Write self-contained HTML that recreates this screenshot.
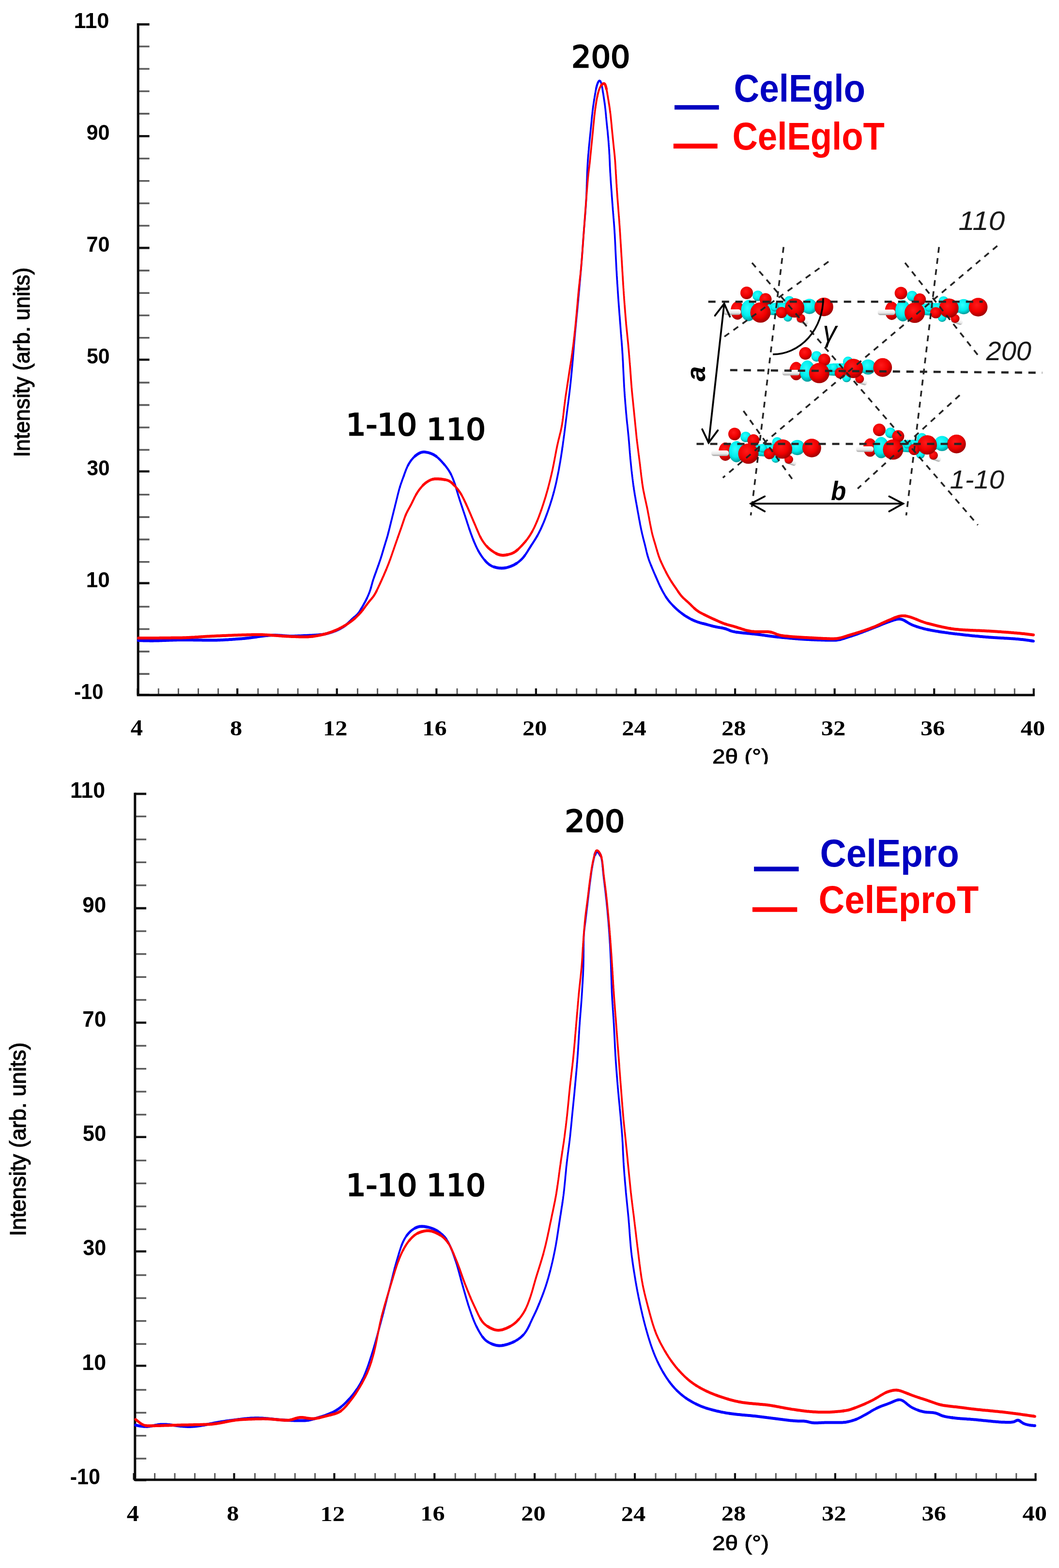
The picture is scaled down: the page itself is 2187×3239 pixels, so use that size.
<!DOCTYPE html><html><head><meta charset="utf-8"><title>XRD patterns</title><style>html,body{margin:0;padding:0;background:#fff;}svg{display:block;}</style></head><body><svg xmlns="http://www.w3.org/2000/svg" width="2187" height="3239" viewBox="0 0 2187 3239">
<rect width="100%" height="100%" fill="#fff"/>
<defs>
<radialGradient id="gr" cx="0.42" cy="0.38" r="0.62"><stop offset="0" stop-color="#ff1a1a"/><stop offset="0.6" stop-color="#f00000"/><stop offset="1" stop-color="#a00000"/></radialGradient>
<radialGradient id="gc" cx="0.42" cy="0.38" r="0.62"><stop offset="0" stop-color="#30ffff"/><stop offset="0.6" stop-color="#00eeee"/><stop offset="1" stop-color="#009a9a"/></radialGradient>
<linearGradient id="gw" x1="0" y1="0" x2="0" y2="1"><stop offset="0" stop-color="#ffffff"/><stop offset="0.6" stop-color="#e8e8e8"/><stop offset="1" stop-color="#a0a0a0"/></linearGradient>
<g id="mol">
<ellipse cx="5" cy="14" rx="55" ry="13" fill="url(#gc)"/>
<circle cx="-66" cy="-19.5" r="13" fill="url(#gr)"/>
<circle cx="-43" cy="-13.5" r="10.8" fill="url(#gc)"/>
<circle cx="-27" cy="-6.5" r="12.5" fill="url(#gr)"/>
<ellipse cx="-85" cy="17" rx="14" ry="19" fill="url(#gr)"/>
<rect x="-114" y="14.5" width="36" height="11.5" rx="5" fill="url(#gw)"/>
<ellipse cx="-62" cy="17" rx="15.7" ry="22" fill="url(#gc)"/>
<circle cx="-8" cy="10" r="9" fill="url(#gc)"/>
<circle cx="22" cy="-2.5" r="10.5" fill="url(#gc)"/>
<circle cx="19" cy="31" r="9" fill="url(#gc)"/>
<rect x="37" y="33" width="25" height="11" rx="5" fill="url(#gw)" transform="rotate(18 50 38)"/>
<circle cx="46" cy="33" r="9" fill="url(#gr)"/>
<circle cx="63.5" cy="8.5" r="15.7" fill="url(#gc)"/>
<circle cx="6" cy="21" r="11.5" fill="url(#gr)"/>
<circle cx="33" cy="11.5" r="20" fill="url(#gr)"/>
<circle cx="-37.5" cy="21" r="21" fill="url(#gr)"/>
<circle cx="93.5" cy="9.5" r="19.3" fill="url(#gr)"/>
</g>
</defs>
<path d="M285.2 95.97H308.6M285.2 142.26H308.6M285.2 188.55H308.6M285.2 234.84H308.6M285.2 327.43H308.6M285.2 373.72H308.6M285.2 420.01H308.6M285.2 466.3H308.6M285.2 558.89H308.6M285.2 605.18H308.6M285.2 651.47H308.6M285.2 697.76H308.6M285.2 790.34H308.6M285.2 836.64H308.6M285.2 882.93H308.6M285.2 929.22H308.6M285.2 1021.8H308.6M285.2 1068.09H308.6M285.2 1114.39H308.6M285.2 1160.68H308.6M285.2 1253.26H308.6M285.2 1299.55H308.6M285.2 1345.84H308.6M285.2 1392.13H308.6" stroke="#5c5c5c" stroke-width="3.6" fill="none"/>
<path d="M285.2 50.4H308.6M285.2 281.25H308.6M285.2 512.1H308.6M285.2 742.95H308.6M285.2 973.8H308.6M285.2 1204.65H308.6M285.2 1435.5H308.6" stroke="#111" stroke-width="4.6" fill="none"/>
<path d="M327.32 1435.8V1422M368.43 1435.8V1422M409.55 1435.8V1422M450.66 1435.8V1422M532.89 1435.8V1422M574.01 1435.8V1422M615.12 1435.8V1422M656.24 1435.8V1422M738.47 1435.8V1422M779.59 1435.8V1422M820.7 1435.8V1422M861.82 1435.8V1422M944.05 1435.8V1422M985.16 1435.8V1422M1026.28 1435.8V1422M1067.4 1435.8V1422M1149.63 1435.8V1422M1190.74 1435.8V1422M1231.86 1435.8V1422M1272.97 1435.8V1422M1355.2 1435.8V1422M1396.32 1435.8V1422M1437.44 1435.8V1422M1478.55 1435.8V1422M1560.78 1435.8V1422M1601.9 1435.8V1422M1643.01 1435.8V1422M1684.13 1435.8V1422M1766.36 1435.8V1422M1807.48 1435.8V1422M1848.59 1435.8V1422M1889.71 1435.8V1422M1971.94 1435.8V1422M2013.05 1435.8V1422M2054.17 1435.8V1422M2095.28 1435.8V1422" stroke="#5c5c5c" stroke-width="3" fill="none"/>
<path d="M284.6 1435.8V1422M490.18 1435.8V1422M695.76 1435.8V1422M901.33 1435.8V1422M1106.91 1435.8V1422M1312.49 1435.8V1422M1518.07 1435.8V1422M1723.64 1435.8V1422M1929.22 1435.8V1422M2134.8 1435.8V1422" stroke="#111" stroke-width="4.2" fill="none"/>
<path d="M285.2 48.1 L285.2 1435.8 L2136.9 1435.8" fill="none" stroke="#0a0a0a" stroke-width="5" stroke-linejoin="miter"/>
<path d="M278.8 1686.55H302.1M278.8 1733.93H302.1M278.8 1781.3H302.1M278.8 1828.68H302.1M278.8 1923.43H302.1M278.8 1970.8H302.1M278.8 2018.18H302.1M278.8 2065.55H302.1M278.8 2160.3H302.1M278.8 2207.68H302.1M278.8 2255.05H302.1M278.8 2302.43H302.1M278.8 2397.18H302.1M278.8 2444.55H302.1M278.8 2491.93H302.1M278.8 2539.3H302.1M278.8 2634.05H302.1M278.8 2681.43H302.1M278.8 2728.8H302.1M278.8 2776.18H302.1M278.8 2870.93H302.1M278.8 2918.3H302.1M278.8 2965.68H302.1M278.8 3013.05H302.1" stroke="#5c5c5c" stroke-width="3.6" fill="none"/>
<path d="M278.8 1639.9H302.1M278.8 1876.17H302.1M278.8 2112.43H302.1M278.8 2348.7H302.1M278.8 2584.97H302.1M278.8 2821.23H302.1M278.8 3057.5H302.1" stroke="#111" stroke-width="4.6" fill="none"/>
<path d="M319.58 3056.7V3042.9M360.96 3056.7V3042.9M402.33 3056.7V3042.9M443.71 3056.7V3042.9M526.47 3056.7V3042.9M567.84 3056.7V3042.9M609.22 3056.7V3042.9M650.6 3056.7V3042.9M733.36 3056.7V3042.9M774.73 3056.7V3042.9M816.11 3056.7V3042.9M857.49 3056.7V3042.9M940.24 3056.7V3042.9M981.62 3056.7V3042.9M1023 3056.7V3042.9M1064.38 3056.7V3042.9M1147.13 3056.7V3042.9M1188.51 3056.7V3042.9M1229.89 3056.7V3042.9M1271.27 3056.7V3042.9M1354.02 3056.7V3042.9M1395.4 3056.7V3042.9M1436.78 3056.7V3042.9M1478.16 3056.7V3042.9M1560.91 3056.7V3042.9M1602.29 3056.7V3042.9M1643.67 3056.7V3042.9M1685.04 3056.7V3042.9M1767.8 3056.7V3042.9M1809.18 3056.7V3042.9M1850.56 3056.7V3042.9M1891.93 3056.7V3042.9M1974.69 3056.7V3042.9M2016.07 3056.7V3042.9M2057.44 3056.7V3042.9M2098.82 3056.7V3042.9" stroke="#5c5c5c" stroke-width="3" fill="none"/>
<path d="M276.6 3056.7V3042.9M483.49 3056.7V3042.9M690.38 3056.7V3042.9M897.27 3056.7V3042.9M1104.16 3056.7V3042.9M1311.04 3056.7V3042.9M1517.93 3056.7V3042.9M1724.82 3056.7V3042.9M1931.71 3056.7V3042.9M2138.6 3056.7V3042.9" stroke="#111" stroke-width="4.2" fill="none"/>
<path d="M278.8 1637.6 L278.8 3056.7 L2140.7 3056.7" fill="none" stroke="#0a0a0a" stroke-width="5" stroke-linejoin="miter"/>
<path d="M1161.6 923.2 1161.9 921.2 1162.2 919.2 1162.5 917.2 1162.7 915.2 1163.0 913.3 1163.3 911.3 1163.6 909.3 1163.8 907.3 1164.1 905.3 1164.4 903.4 1164.6 901.4 1164.9 899.4M1164.9 899.4 1165.2 897.4 1165.4 895.4 1165.7 893.4 1165.9 891.5 1166.2 889.5 1166.4 887.5 1166.7 885.5 1166.9 883.5 1167.2 881.5 1167.4 879.5 1167.7 877.6 1167.9 875.6M1167.9 875.6 1168.2 873.6 1168.4 871.6 1168.7 869.6 1168.9 867.6 1169.1 865.6 1169.4 863.7 1169.6 861.7 1169.9 859.7 1170.1 857.7 1170.4 855.7 1170.6 853.7 1170.9 851.8M1170.9 851.8 1171.1 849.8 1171.4 847.8 1171.6 845.8 1171.9 843.8 1172.1 841.8 1172.4 839.8 1172.6 837.9 1172.9 835.9 1173.2 833.9 1173.4 831.9 1173.7 829.9 1173.9 827.9M1173.9 827.9 1174.2 826.0 1174.4 824.0 1174.7 822.0 1174.9 820.0 1175.2 818.0 1175.4 816.0 1175.7 814.1 1175.9 812.1 1176.2 810.1 1176.4 808.1 1176.6 806.1 1176.9 804.1M1176.9 804.1 1177.1 802.1 1177.3 800.1 1177.5 798.2 1177.7 796.2 1177.9 794.2 1178.2 792.2 1178.4 790.2 1178.6 788.2 1178.8 786.2 1179.0 784.2 1179.2 782.2 1179.4 780.3M1179.4 780.3 1179.6 778.3 1179.8 776.3 1180.0 774.3 1180.2 772.3 1180.4 770.3 1180.6 768.3 1180.8 766.3 1181.0 764.3 1181.1 762.3 1181.3 760.3 1181.5 758.4 1181.7 756.4M1181.7 756.4 1181.9 754.4 1182.1 752.4 1182.3 750.4 1182.4 748.4 1182.6 746.4 1182.8 744.4 1183.0 742.4 1183.1 740.4 1183.3 738.4 1183.5 736.4 1183.6 734.4 1183.8 732.4M1183.8 732.4 1184.0 730.5 1184.1 728.5 1184.3 726.5 1184.4 724.5 1184.6 722.5 1184.8 720.5 1184.9 718.5 1185.1 716.5 1185.3 714.5 1185.4 712.5 1185.6 710.5 1185.8 708.5M1185.8 708.5 1185.9 706.5 1186.1 704.5 1186.3 702.5 1186.5 700.6 1186.6 698.6 1186.8 696.6 1187.0 694.6 1187.2 692.6 1187.4 690.6 1187.5 688.6 1187.7 686.6 1187.9 684.6M1187.9 684.6 1188.1 682.6 1188.3 680.6 1188.5 678.6 1188.7 676.7 1188.9 674.7 1189.1 672.7 1189.3 670.7 1189.4 668.7 1189.6 666.7 1189.8 664.7 1190.0 662.7 1190.2 660.7M1190.2 660.7 1190.4 658.7 1190.6 656.7 1190.8 654.8 1191.0 652.8 1191.2 650.8 1191.4 648.8 1191.6 646.8 1191.8 644.8 1192.0 642.8 1192.2 640.8 1192.4 638.8 1192.6 636.8M1192.6 636.8 1192.8 634.8 1192.9 632.9 1193.1 630.9 1193.3 628.9 1193.5 626.9 1193.7 624.9 1193.9 622.9 1194.1 620.9 1194.3 618.9 1194.4 616.9 1194.6 614.9 1194.8 612.9M1194.8 612.9 1195.0 611.0 1195.2 609.0 1195.4 607.0 1195.5 605.0 1195.7 603.0 1195.9 601.0 1196.1 599.0 1196.3 597.0 1196.4 595.0 1196.6 593.0 1196.8 591.0 1197.0 589.0M1197.0 589.0 1197.2 587.0 1197.3 585.1 1197.5 583.1 1197.7 581.1 1197.9 579.1 1198.1 577.1 1198.2 575.1 1198.4 573.1 1198.6 571.1 1198.7 569.1 1198.9 567.1 1199.1 565.1M1199.1 565.1 1199.3 563.1 1199.4 561.1 1199.6 559.1 1199.8 557.2 1199.9 555.2 1200.1 553.2 1200.3 551.2 1200.4 549.2 1200.6 547.2 1200.7 545.2 1200.9 543.2 1201.1 541.2M1201.1 541.2 1201.2 539.2 1201.4 537.2 1201.5 535.2 1201.7 533.2 1201.8 531.2 1202.0 529.2 1202.1 527.2 1202.3 525.2 1202.4 523.3 1202.6 521.3 1202.7 519.3 1202.9 517.3M1202.9 517.3 1203.0 515.3 1203.1 513.3 1203.3 511.3 1203.4 509.3 1203.6 507.3 1203.7 505.3 1203.9 503.3 1204.0 501.3 1204.2 499.3 1204.3 497.3 1204.4 495.3 1204.6 493.3M1204.6 493.3 1204.7 491.3 1204.9 489.3 1205.0 487.3 1205.2 485.3 1205.3 483.4 1205.5 481.4 1205.6 479.4 1205.8 477.4 1205.9 475.4 1206.1 473.4 1206.2 471.4 1206.4 469.4M1206.4 469.4 1206.6 467.4 1206.7 465.4 1206.9 463.4 1207.0 461.4 1207.2 459.4 1207.4 457.4 1207.5 455.4 1207.7 453.4 1207.9 451.4 1208.0 449.5 1208.2 447.5 1208.3 445.5M1208.3 445.5 1208.5 443.5 1208.7 441.5 1208.8 439.5 1209.0 437.5 1209.1 435.5 1209.2 433.5 1209.4 431.5 1209.5 429.5 1209.7 427.5 1209.8 425.5 1209.9 423.5 1210.1 421.5M1210.1 421.5 1210.2 419.5 1210.3 417.5 1210.4 415.5 1210.5 413.5 1210.6 411.5 1210.7 409.5 1210.8 407.5 1210.9 405.5 1211.0 403.6 1211.1 401.6 1211.1 399.6 1211.2 397.6M1211.2 397.6 1211.3 395.6 1211.4 393.6 1211.5 391.6 1211.5 389.6 1211.6 387.6 1211.7 385.6 1211.7 383.6 1211.8 381.6 1211.9 379.6 1211.9 377.6 1212.0 375.6 1212.1 373.6M1212.1 373.6 1212.1 371.6 1212.2 369.6 1212.3 367.6 1212.3 365.6 1212.4 363.6 1212.5 361.6 1212.6 359.6 1212.6 357.6 1212.7 355.6 1212.8 353.6 1212.9 351.6 1213.0 349.6M1213.0 349.6 1213.1 347.6 1213.2 345.6 1213.3 343.6 1213.4 341.6 1213.5 339.6 1213.6 337.6 1213.7 335.6 1213.9 333.6 1214.0 331.6 1214.1 329.6 1214.3 327.6 1214.4 325.6M1214.4 325.6 1214.6 323.6 1214.7 321.6 1214.9 319.6 1215.1 317.6 1215.3 315.7 1215.4 313.7 1215.6 311.7 1215.8 309.7 1216.0 307.7 1216.1 305.7 1216.3 303.7 1216.5 301.7M1216.5 301.7 1216.7 299.7 1216.9 297.7 1217.1 295.7 1217.3 293.7 1217.5 291.8 1217.7 289.8 1217.9 287.8 1218.1 285.8 1218.3 283.8 1218.5 281.8 1218.7 279.8 1218.9 277.8M1218.9 277.8 1219.1 275.8 1219.3 273.8 1219.5 271.9 1219.7 269.9 1219.9 267.9 1220.1 265.9 1220.3 263.9 1220.5 261.9 1220.7 259.9 1220.9 257.9 1221.1 255.9 1221.3 253.9M1221.3 253.9 1221.5 251.9 1221.7 250.0 1221.8 248.0 1222.0 246.0 1222.2 244.0 1222.4 242.0 1222.6 240.0 1222.8 238.0 1223.1 236.0 1223.3 234.0 1223.5 232.0 1223.7 230.1M1223.7 230.1 1224.0 228.1 1224.2 226.1 1224.4 224.1 1224.7 222.1 1225.0 220.1 1225.2 218.2 1225.5 216.2 1225.8 214.2 1226.1 212.2 1226.4 210.2 1226.7 208.3 1227.0 206.3M1248.8 214.6 1249.1 216.6 1249.4 218.6 1249.6 220.5 1249.8 222.5 1250.1 224.5 1250.3 226.5 1250.5 228.5 1250.7 230.5 1250.9 232.5 1251.1 234.5 1251.3 236.4 1251.5 238.4M1251.5 238.4 1251.6 240.4 1251.8 242.4 1252.0 244.4 1252.2 246.4 1252.4 248.4 1252.6 250.4 1252.8 252.4 1253.0 254.4 1253.2 256.4 1253.4 258.4 1253.6 260.3 1253.8 262.3M1253.8 262.3 1254.0 264.3 1254.2 266.3 1254.5 268.3 1254.7 270.3 1254.9 272.3 1255.1 274.3 1255.2 276.3 1255.4 278.3 1255.6 280.2 1255.8 282.2 1256.0 284.2 1256.2 286.2M1256.2 286.2 1256.3 288.2 1256.5 290.2 1256.7 292.2 1256.8 294.2 1257.0 296.2 1257.1 298.2 1257.3 300.2 1257.4 302.2 1257.6 304.2 1257.7 306.2 1257.9 308.2 1258.0 310.2M1258.0 310.2 1258.1 312.2 1258.2 314.1 1258.3 316.1 1258.4 318.1 1258.6 320.1 1258.7 322.1 1258.7 324.1 1258.8 326.1 1258.9 328.1 1259.0 330.1 1259.1 332.1 1259.2 334.1M1259.2 334.1 1259.3 336.1 1259.4 338.1 1259.4 340.1 1259.5 342.1 1259.6 344.1 1259.7 346.1 1259.8 348.1 1259.9 350.1 1260.0 352.1 1260.1 354.1 1260.2 356.1 1260.4 358.1M1260.4 358.1 1260.5 360.1 1260.6 362.1 1260.7 364.1 1260.9 366.1 1261.0 368.1 1261.1 370.1 1261.2 372.1 1261.4 374.1 1261.5 376.1 1261.6 378.1 1261.8 380.1 1261.9 382.1M1261.9 382.1 1262.1 384.0 1262.2 386.0 1262.3 388.0 1262.5 390.0 1262.6 392.0 1262.8 394.0 1262.9 396.0 1263.1 398.0 1263.2 400.0 1263.3 402.0 1263.5 404.0 1263.6 406.0M1263.6 406.0 1263.8 408.0 1263.9 410.0 1264.1 412.0 1264.2 414.0 1264.4 416.0 1264.5 418.0 1264.7 420.0 1264.8 422.0 1265.0 423.9 1265.1 425.9 1265.3 427.9 1265.4 429.9M1265.4 429.9 1265.6 431.9 1265.7 433.9 1265.9 435.9 1266.1 437.9 1266.2 439.9 1266.4 441.9 1266.6 443.9 1266.7 445.9 1266.9 447.9 1267.0 449.9 1267.2 451.9 1267.4 453.9M1267.4 453.9 1267.5 455.9 1267.7 457.8 1267.8 459.8 1268.0 461.8 1268.1 463.8 1268.3 465.8 1268.4 467.8 1268.6 469.8 1268.7 471.8 1268.8 473.8 1269.0 475.8 1269.1 477.8M1269.1 477.8 1269.2 479.8 1269.3 481.8 1269.5 483.8 1269.6 485.8 1269.7 487.8 1269.8 489.8 1269.9 491.8 1270.0 493.8 1270.1 495.8 1270.2 497.8 1270.3 499.8 1270.4 501.8M1270.4 501.8 1270.5 503.8 1270.6 505.8 1270.7 507.8 1270.8 509.8 1270.9 511.8 1270.9 513.8 1271.0 515.7 1271.1 517.7 1271.2 519.7 1271.3 521.7 1271.4 523.7 1271.5 525.7M1271.5 525.7 1271.6 527.7 1271.7 529.7 1271.8 531.7 1271.9 533.7 1272.0 535.7 1272.1 537.7 1272.2 539.7 1272.3 541.7 1272.4 543.7 1272.5 545.7 1272.6 547.7 1272.7 549.7M1272.7 549.7 1272.8 551.7 1272.9 553.7 1273.0 555.7 1273.1 557.7 1273.3 559.7 1273.4 561.7 1273.5 563.7 1273.6 565.7 1273.7 567.7 1273.8 569.7 1274.0 571.7 1274.1 573.7M1274.1 573.7 1274.2 575.7 1274.3 577.7 1274.5 579.7 1274.6 581.7 1274.7 583.7 1274.8 585.7 1275.0 587.7 1275.1 589.6 1275.2 591.6 1275.4 593.6 1275.5 595.6 1275.6 597.6M1275.6 597.6 1275.7 599.6 1275.9 601.6 1276.0 603.6 1276.1 605.6 1276.3 607.6 1276.4 609.6 1276.5 611.6 1276.7 613.6 1276.8 615.6 1277.0 617.6 1277.1 619.6 1277.2 621.6M1277.2 621.6 1277.4 623.6 1277.5 625.6 1277.7 627.6 1277.8 629.6 1278.0 631.6 1278.1 633.5 1278.3 635.5 1278.4 637.5 1278.6 639.5 1278.7 641.5 1278.9 643.5 1279.0 645.5M1279.0 645.5 1279.2 647.5 1279.3 649.5 1279.5 651.5 1279.7 653.5 1279.8 655.5 1280.0 657.5 1280.1 659.5 1280.3 661.5 1280.4 663.5 1280.6 665.5 1280.7 667.5 1280.9 669.4M1280.9 669.4 1281.1 671.4 1281.2 673.4 1281.4 675.4 1281.5 677.4 1281.7 679.4 1281.8 681.4 1282.0 683.4 1282.1 685.4 1282.3 687.4 1282.4 689.4 1282.6 691.4 1282.8 693.4M1282.8 693.4 1282.9 695.4 1283.1 697.4 1283.2 699.4 1283.4 701.4 1283.6 703.3 1283.7 705.3 1283.9 707.3 1284.0 709.3 1284.2 711.3 1284.3 713.3 1284.5 715.3 1284.6 717.3M1284.6 717.3 1284.8 719.3 1284.9 721.3 1285.0 723.3 1285.2 725.3 1285.3 727.3 1285.4 729.3 1285.6 731.3 1285.7 733.3 1285.8 735.3 1285.9 737.3 1286.0 739.3 1286.1 741.3M1286.1 741.3 1286.2 743.3 1286.4 745.3 1286.5 747.3 1286.6 749.3 1286.7 751.3 1286.7 753.2 1286.8 755.2 1286.9 757.2 1287.0 759.2 1287.1 761.2 1287.2 763.2 1287.3 765.2M1287.3 765.2 1287.4 767.2 1287.5 769.2 1287.6 771.2 1287.7 773.2 1287.8 775.2 1287.9 777.2 1288.0 779.2 1288.1 781.2 1288.2 783.2 1288.3 785.2 1288.4 787.2 1288.5 789.2M1288.5 789.2 1288.6 791.2 1288.7 793.2 1288.8 795.2 1288.9 797.2 1289.0 799.2 1289.2 801.2 1289.3 803.2 1289.4 805.2 1289.5 807.2 1289.7 809.2 1289.8 811.2 1289.9 813.2M1289.9 813.2 1290.1 815.2 1290.2 817.2 1290.4 819.2 1290.5 821.2 1290.7 823.1 1290.8 825.1 1291.0 827.1 1291.1 829.1 1291.3 831.1 1291.4 833.1 1291.6 835.1 1291.8 837.1M1291.8 837.1 1291.9 839.1 1292.1 841.1 1292.3 843.1 1292.4 845.1 1292.6 847.1 1292.8 849.1 1292.9 851.1 1293.1 853.1 1293.3 855.0 1293.5 857.0 1293.7 859.0 1293.8 861.0M1293.8 861.0 1294.0 863.0 1294.2 865.0 1294.4 867.0 1294.6 869.0 1294.8 871.0 1295.0 873.0 1295.2 874.9 1295.5 876.9 1295.7 878.9 1295.9 880.9 1296.1 882.9 1296.3 884.9M1296.3 884.9 1296.5 886.9 1296.7 888.9 1296.9 890.9 1297.1 892.9 1297.3 894.8 1297.5 896.8 1297.7 898.8 1297.9 900.8 1298.1 902.8 1298.3 904.8 1298.4 906.8 1298.6 908.8M1298.6 908.8 1298.8 910.8 1299.0 912.8 1299.1 914.8 1299.3 916.8 1299.5 918.8 1299.6 920.7 1299.8 922.7 1299.9 924.7 1300.1 926.7 1300.2 928.7 1300.4 930.7 1300.6 932.7M1300.6 932.7 1300.7 934.7 1300.9 936.7 1301.1 938.7 1301.2 940.7 1301.4 942.7 1301.6 944.7 1301.7 946.7 1301.9 948.7 1302.1 950.6 1302.3 952.6 1302.5 954.6 1302.7 956.6M1302.7 956.6 1302.9 958.6 1303.1 960.6 1303.3 962.6 1303.5 964.6 1303.7 966.6 1303.9 968.6 1304.1 970.5 1304.3 972.5 1304.6 974.5 1304.8 976.5 1305.0 978.5 1305.3 980.5M1305.3 980.5 1305.5 982.5 1305.7 984.5 1306.0 986.4 1306.2 988.4 1306.5 990.4 1306.7 992.4 1307.0 994.4 1307.2 996.4 1307.5 998.4 1307.7 1000.3 1308.0 1002.3 1308.3 1004.3" fill="none" stroke="#0000ff" stroke-width="3.7" stroke-linejoin="round" stroke-linecap="round"/>
<path d="M802.3 1099.4 802.8 1097.4 803.3 1095.5 803.8 1093.5 804.3 1091.6 804.8 1089.7 805.2 1087.7 805.7 1085.8 806.2 1083.8 806.7 1081.9 807.1 1079.9 807.6 1078.0 808.1 1076.1M808.1 1076.1 808.6 1074.1 809.1 1072.2 809.6 1070.2 810.0 1068.3 810.5 1066.4 811.0 1064.4 811.5 1062.5 812.0 1060.5 812.5 1058.6 812.9 1056.6 813.4 1054.7 813.9 1052.8M813.9 1052.8 814.4 1050.8 814.9 1048.9 815.4 1046.9 815.8 1045.0 816.3 1043.1 816.8 1041.1 817.3 1039.2 817.8 1037.2 818.2 1035.3 818.7 1033.4 819.2 1031.4 819.7 1029.5M819.7 1029.5 820.2 1027.5 820.6 1025.6 821.1 1023.6 821.6 1021.7 822.1 1019.7 822.6 1017.8 823.1 1015.9 823.6 1013.9 824.1 1012.0 824.6 1010.1 825.2 1008.2 825.8 1006.3M1143.5 1017.4 1144.0 1015.5 1144.6 1013.5 1145.1 1011.6 1145.5 1009.7 1146.0 1007.7 1146.5 1005.8 1147.0 1003.8 1147.4 1001.9 1147.9 1000.0 1148.3 998.0 1148.8 996.1 1149.2 994.1M1149.2 994.1 1149.6 992.1 1150.0 990.2 1150.4 988.2 1150.8 986.3 1151.2 984.3 1151.6 982.4 1152.0 980.4 1152.4 978.4 1152.8 976.5 1153.2 974.5 1153.6 972.5 1153.9 970.6M1153.9 970.6 1154.3 968.6 1154.6 966.6 1155.0 964.6 1155.4 962.7 1155.7 960.7 1156.0 958.7 1156.4 956.8 1156.7 954.8 1157.1 952.8 1157.4 950.8 1157.7 948.9 1158.0 946.9M1158.0 946.9 1158.4 944.9 1158.7 943.0 1159.0 941.0 1159.3 939.0 1159.6 937.0 1159.9 935.0 1160.2 933.1 1160.5 931.1 1160.8 929.1 1161.1 927.1 1161.3 925.1 1161.6 923.2M1227.0 206.3 1227.3 204.3 1227.7 202.3 1228.0 200.4 1228.3 198.4 1228.7 196.4 1229.0 194.4 1229.3 192.5 1229.7 190.5 1230.0 188.5 1230.4 186.5 1230.8 184.5 1231.2 182.6M1239.9 168.0 1240.7 169.4 1241.4 171.1 1242.0 173.0 1242.5 175.0 1242.9 177.0 1243.3 178.9 1243.7 180.9 1244.0 182.9 1244.3 184.9 1244.6 186.9 1244.9 188.9 1245.2 190.9M1245.2 190.9 1245.6 192.8 1245.9 194.8 1246.2 196.8 1246.5 198.8 1246.8 200.7 1247.1 202.7 1247.4 204.7 1247.7 206.7 1248.0 208.6 1248.3 210.6 1248.6 212.6 1248.8 214.6M1308.3 1004.3 1308.6 1006.3 1308.9 1008.3 1309.1 1010.2 1309.4 1012.2 1309.8 1014.2 1310.1 1016.2 1310.4 1018.1 1310.7 1020.1 1311.0 1022.1 1311.4 1024.1 1311.7 1026.0 1312.1 1028.0M1312.1 1028.0 1312.4 1030.0 1312.7 1031.9 1313.1 1033.9 1313.4 1035.9 1313.8 1037.8 1314.2 1039.8 1314.5 1041.8 1314.9 1043.8 1315.2 1045.7 1315.6 1047.7 1315.9 1049.7 1316.3 1051.6M1316.3 1051.6 1316.6 1053.6 1317.0 1055.6 1317.3 1057.5 1317.7 1059.5 1318.1 1061.5 1318.4 1063.4 1318.8 1065.4 1319.1 1067.4 1319.5 1069.4 1319.8 1071.3 1320.2 1073.3 1320.6 1075.3M1320.6 1075.3 1320.9 1077.2 1321.3 1079.2 1321.7 1081.2 1322.0 1083.1 1322.4 1085.1 1322.8 1087.0 1323.2 1089.0 1323.6 1091.0 1324.0 1092.9 1324.4 1094.9 1324.8 1096.8 1325.3 1098.8M1325.3 1098.8 1325.7 1100.7 1326.1 1102.7 1326.6 1104.6 1327.1 1106.6 1327.6 1108.5 1328.0 1110.5 1328.5 1112.4 1329.0 1114.3 1329.5 1116.3 1330.0 1118.2 1330.5 1120.2 1331.0 1122.1M1331.0 1122.1 1331.5 1124.0 1332.0 1126.0 1332.5 1127.9 1332.9 1129.9 1333.4 1131.8 1333.9 1133.8 1334.3 1135.7 1334.8 1137.7 1335.2 1139.6 1335.7 1141.6 1336.2 1143.5 1336.7 1145.4" fill="none" stroke="#0000ff" stroke-width="3.8" stroke-linejoin="round" stroke-linecap="round"/>
<path d="M766.2 1213.7 766.7 1211.8 767.2 1209.9 767.7 1208.0 768.3 1206.0 768.8 1204.1 769.3 1202.2 769.9 1200.3 770.5 1198.3 771.1 1196.4 771.8 1194.6 772.4 1192.7 773.1 1190.8M781.2 1168.2 781.9 1166.3 782.5 1164.4 783.2 1162.5 783.8 1160.6 784.5 1158.7 785.1 1156.8 785.8 1154.9 786.4 1153.0 787.0 1151.1 787.6 1149.2 788.2 1147.3 788.8 1145.4M788.8 1145.4 789.3 1143.5 789.9 1141.6 790.5 1139.7 791.0 1137.7 791.6 1135.8 792.2 1133.9 792.7 1132.0 793.3 1130.1 793.9 1128.1 794.5 1126.2 795.1 1124.3 795.6 1122.4M795.6 1122.4 796.2 1120.5 796.8 1118.6 797.4 1116.7 798.0 1114.8 798.6 1112.8 799.2 1110.9 799.7 1109.0 800.3 1107.1 800.8 1105.2 801.3 1103.2 801.8 1101.3 802.3 1099.4M825.8 1006.3 826.3 1004.3 827.0 1002.4 827.6 1000.5 828.2 998.7 828.9 996.8 829.6 994.9 830.2 993.0 830.9 991.1 831.6 989.2 832.3 987.3 833.0 985.5 833.7 983.6M940.0 1001.8 940.6 1003.7 941.2 1005.6 941.8 1007.5 942.3 1009.4 942.9 1011.4 943.5 1013.3 944.0 1015.2 944.6 1017.1 945.2 1019.1 945.7 1021.0 946.3 1022.9 946.9 1024.8M946.9 1024.8 947.5 1026.7 948.1 1028.6 948.7 1030.5 949.3 1032.4 949.9 1034.3 950.5 1036.2 951.2 1038.1 951.8 1040.0 952.4 1041.9 953.1 1043.8 953.7 1045.7 954.3 1047.6M954.3 1047.6 955.0 1049.5 955.6 1051.4 956.2 1053.3 956.9 1055.2 957.5 1057.1 958.2 1059.0 958.8 1060.9 959.4 1062.8 960.1 1064.7 960.7 1066.6 961.3 1068.5 961.9 1070.4M961.9 1070.4 962.6 1072.3 963.2 1074.2 963.8 1076.1 964.4 1078.0 965.0 1079.9 965.6 1081.8 966.3 1083.7 966.9 1085.6 967.5 1087.5 968.1 1089.4 968.8 1091.3 969.4 1093.2M1128.9 1063.1 1129.6 1061.3 1130.3 1059.4 1131.0 1057.5 1131.6 1055.6 1132.3 1053.7 1132.9 1051.8 1133.6 1050.0 1134.2 1048.1 1134.8 1046.2 1135.5 1044.3 1136.1 1042.4 1136.7 1040.5M1136.7 1040.5 1137.3 1038.5 1137.9 1036.6 1138.5 1034.7 1139.1 1032.8 1139.7 1030.9 1140.3 1029.0 1140.8 1027.0 1141.4 1025.1 1141.9 1023.2 1142.5 1021.3 1143.0 1019.3 1143.5 1017.4M1336.7 1145.4 1337.2 1147.4 1337.8 1149.3 1338.4 1151.2 1339.0 1153.1 1339.6 1155.0 1340.2 1156.9 1340.9 1158.7 1341.6 1160.6 1342.3 1162.5 1343.1 1164.3 1343.8 1166.2 1344.6 1168.1" fill="none" stroke="#0000ff" stroke-width="3.9" stroke-linejoin="round" stroke-linecap="round"/>
<path d="M757.6 1236.1 758.4 1234.3 759.2 1232.5 760.1 1230.7 760.8 1228.8 761.6 1227.0 762.3 1225.1 763.1 1223.2 763.7 1221.4 764.4 1219.5 765.0 1217.6 765.6 1215.7 766.2 1213.7M773.1 1190.8 773.8 1188.9 774.4 1187.0 775.1 1185.1 775.8 1183.2 776.5 1181.4 777.2 1179.5 777.8 1177.6 778.5 1175.7 779.2 1173.8 779.9 1171.9 780.5 1170.1 781.2 1168.2M833.7 983.6 834.4 981.7 835.0 979.8 835.7 977.9 836.4 976.0 837.1 974.1 837.8 972.2 838.5 970.3 839.3 968.5 840.1 966.6 840.9 964.8 841.7 963.0 842.6 961.3M931.2 979.5 932.1 981.3 932.9 983.1 933.7 984.9 934.5 986.8 935.3 988.6 936.0 990.5 936.7 992.4 937.4 994.2 938.1 996.1 938.7 998.0 939.4 999.9 940.0 1001.8M969.4 1093.2 970.1 1095.1 970.7 1097.0 971.4 1098.9 972.0 1100.8 972.7 1102.6 973.4 1104.5 974.1 1106.4 974.8 1108.3 975.5 1110.2 976.2 1112.0 977.0 1113.9 977.7 1115.8M1120.0 1085.5 1120.8 1083.7 1121.6 1081.8 1122.4 1080.0 1123.2 1078.1 1123.9 1076.3 1124.7 1074.4 1125.4 1072.5 1126.1 1070.7 1126.8 1068.8 1127.5 1066.9 1128.2 1065.0 1128.9 1063.1M1344.6 1168.1 1345.3 1169.9 1346.1 1171.8 1346.8 1173.6 1347.6 1175.5 1348.4 1177.3 1349.2 1179.2 1349.9 1181.0 1350.7 1182.8 1351.5 1184.7 1352.3 1186.5 1353.1 1188.3 1353.9 1190.2" fill="none" stroke="#0000ff" stroke-width="4.0" stroke-linejoin="round" stroke-linecap="round"/>
<path d="M977.7 1115.8 978.4 1117.6 979.2 1119.5 980.0 1121.4 980.8 1123.2 981.6 1125.0 982.4 1126.9 983.2 1128.7 984.1 1130.5 984.9 1132.2 985.8 1134.0 986.8 1135.8 987.7 1137.6M1109.5 1107.0 1110.4 1105.2 1111.4 1103.5 1112.3 1101.7 1113.2 1100.0 1114.1 1098.2 1115.0 1096.4 1115.9 1094.6 1116.7 1092.8 1117.6 1091.0 1118.4 1089.2 1119.2 1087.3 1120.0 1085.5M1353.9 1190.2 1354.7 1192.0 1355.5 1193.9 1356.3 1195.7 1357.1 1197.5 1357.9 1199.4 1358.7 1201.2 1359.5 1203.0 1360.3 1204.9 1361.1 1206.7 1362.0 1208.5 1362.8 1210.3 1363.7 1212.1" fill="none" stroke="#0000ff" stroke-width="4.1" stroke-linejoin="round" stroke-linecap="round"/>
<path d="M746.1 1257.3 747.1 1255.5 748.1 1253.8 749.1 1252.0 750.1 1250.3 751.1 1248.5 752.0 1246.8 753.0 1245.0 754.0 1243.3 754.9 1241.5 755.8 1239.7 756.7 1237.9 757.6 1236.1M1363.7 1212.1 1364.6 1213.9 1365.5 1215.7 1366.4 1217.5 1367.3 1219.3 1368.2 1221.0 1369.2 1222.8 1370.2 1224.6 1371.2 1226.3 1372.2 1228.0 1373.2 1229.7 1374.2 1231.4 1375.3 1233.1" fill="none" stroke="#0000ff" stroke-width="4.2" stroke-linejoin="round" stroke-linecap="round"/>
<path d="M1096.7 1127.4 1097.8 1125.7 1098.9 1124.0 1100.0 1122.3 1101.1 1120.6 1102.2 1118.9 1103.3 1117.2 1104.3 1115.5 1105.4 1113.8 1106.4 1112.1 1107.5 1110.4 1108.5 1108.7 1109.5 1107.0M1231.2 182.6 1231.7 180.6 1232.2 178.6 1232.7 176.6 1233.3 174.6 1234.0 172.6 1234.8 170.7 1235.6 169.1 1236.5 167.7 1237.3 166.9 1238.2 166.7 1239.1 167.1 1239.9 168.0" fill="none" stroke="#0000ff" stroke-width="4.3" stroke-linejoin="round" stroke-linecap="round"/>
<path d="M917.7 959.7 919.0 961.2 920.3 962.8 921.5 964.4 922.7 966.0 923.9 967.6 925.1 969.2 926.2 970.9 927.3 972.6 928.3 974.3 929.3 976.0 930.3 977.7 931.2 979.5M987.7 1137.6 988.7 1139.3 989.7 1141.1 990.7 1142.8 991.8 1144.5 992.9 1146.2 994.0 1147.9 995.1 1149.6 996.3 1151.2 997.5 1152.8 998.7 1154.4 1000.0 1155.9 1001.3 1157.4M1083.6 1147.7 1084.7 1146.1 1085.9 1144.5 1087.0 1142.8 1088.1 1141.1 1089.2 1139.4 1090.3 1137.6 1091.3 1135.9 1092.4 1134.2 1093.5 1132.5 1094.6 1130.8 1095.6 1129.1 1096.7 1127.4" fill="none" stroke="#0000ff" stroke-width="4.4" stroke-linejoin="round" stroke-linecap="round"/>
<path d="M842.6 961.3 843.6 959.5 844.5 957.8 845.6 956.1 846.7 954.4 847.8 952.7 849.0 951.0 850.3 949.4 851.6 947.9 852.9 946.4 854.3 944.9 855.7 943.5 857.2 942.2" fill="none" stroke="#0000ff" stroke-width="4.5" stroke-linejoin="round" stroke-linecap="round"/>
<path d="M731.1 1275.5 732.6 1274.2 734.1 1272.9 735.6 1271.6 737.0 1270.2 738.4 1268.8 739.7 1267.3 740.9 1265.8 742.0 1264.2 743.1 1262.5 744.1 1260.8 745.1 1259.0 746.1 1257.3M1375.3 1233.1 1376.4 1234.8 1377.6 1236.4 1378.7 1238.0 1379.9 1239.6 1381.2 1241.2 1382.4 1242.7 1383.7 1244.3 1385.0 1245.8 1386.4 1247.3 1387.7 1248.7 1389.1 1250.2 1390.5 1251.6" fill="none" stroke="#0000ff" stroke-width="4.6" stroke-linejoin="round" stroke-linecap="round"/>
<path d="M900.5 942.4 902.1 943.7 903.6 945.0 905.1 946.3 906.6 947.7 908.1 949.2 909.5 950.7 910.9 952.2 912.3 953.7 913.7 955.2 915.0 956.7 916.4 958.2 917.7 959.7" fill="none" stroke="#0000ff" stroke-width="4.8" stroke-linejoin="round" stroke-linecap="round"/>
<path d="M1066.3 1164.0 1068.0 1162.9 1069.6 1161.7 1071.3 1160.5 1072.8 1159.2 1074.3 1157.9 1075.8 1156.6 1077.2 1155.2 1078.6 1153.8 1079.9 1152.4 1081.2 1150.9 1082.4 1149.3 1083.6 1147.7" fill="none" stroke="#0000ff" stroke-width="4.9" stroke-linejoin="round" stroke-linecap="round"/>
<path d="M713.3 1291.8 714.9 1290.5 716.4 1289.3 717.9 1287.9 719.4 1286.6 720.8 1285.2 722.3 1283.8 723.7 1282.4 725.1 1281.0 726.6 1279.6 728.1 1278.2 729.6 1276.9 731.1 1275.5M1390.5 1251.6 1391.9 1253.1 1393.3 1254.5 1394.8 1255.8 1396.2 1257.2 1397.7 1258.6 1399.2 1259.9 1400.7 1261.2 1402.3 1262.5 1403.8 1263.8 1405.4 1265.0 1407.0 1266.2 1408.5 1267.4" fill="none" stroke="#0000ff" stroke-width="5.0" stroke-linejoin="round" stroke-linecap="round"/>
<path d="M1001.3 1157.4 1002.6 1158.9 1004.0 1160.4 1005.4 1161.9 1006.9 1163.3 1008.4 1164.6 1010.0 1165.9 1011.6 1167.1 1013.3 1168.1 1015.0 1169.1 1016.7 1169.9 1018.5 1170.6 1020.3 1171.2" fill="none" stroke="#0000ff" stroke-width="5.2" stroke-linejoin="round" stroke-linecap="round"/>
<path d="M1408.5 1267.4 1410.2 1268.6 1411.8 1269.8 1413.4 1270.9 1415.1 1272.1 1416.8 1273.2 1418.5 1274.2 1420.2 1275.2 1421.9 1276.2 1423.6 1277.2 1425.4 1278.2 1427.2 1279.1 1429.0 1280.0" fill="none" stroke="#0000ff" stroke-width="5.4" stroke-linejoin="round" stroke-linecap="round"/>
<path d="M692.4 1303.2 694.2 1302.4 696.1 1301.7 697.9 1300.9 699.7 1300.0 701.5 1299.2 703.3 1298.2 705.0 1297.2 706.8 1296.2 708.5 1295.2 710.1 1294.1 711.8 1292.9 713.3 1291.8" fill="none" stroke="#0000ff" stroke-width="5.5" stroke-linejoin="round" stroke-linecap="round"/>
<path d="M1871.2 1283.9 1873.0 1285.0 1874.8 1286.1 1876.5 1287.1 1878.3 1288.2 1880.1 1289.1 1882.0 1290.0 1883.8 1290.9 1885.7 1291.6 1887.5 1292.4 1889.4 1293.0 1891.3 1293.7 1893.2 1294.4" fill="none" stroke="#0000ff" stroke-width="5.6" stroke-linejoin="round" stroke-linecap="round"/>
<path d="M857.2 942.2 858.7 940.9 860.3 939.7 861.9 938.5 863.6 937.4 865.4 936.4 867.2 935.5 869.0 934.8 870.9 934.2 872.8 933.9 874.7 933.7 876.6 933.7 878.6 933.9M878.6 933.9 880.5 934.2 882.5 934.6 884.5 935.1 886.4 935.6 888.4 936.2 890.2 936.9 892.1 937.7 893.8 938.4 895.6 939.3 897.3 940.3 898.9 941.3 900.5 942.4M1044.1 1172.9 1046.1 1172.5 1048.0 1172.0 1050.0 1171.4 1051.9 1170.8 1053.8 1170.2 1055.6 1169.5 1057.5 1168.7 1059.3 1167.9 1061.1 1167.1 1062.8 1166.1 1064.6 1165.1 1066.3 1164.0M1429.0 1280.0 1430.8 1280.8 1432.6 1281.7 1434.5 1282.5 1436.3 1283.2 1438.2 1283.9 1440.0 1284.6 1441.9 1285.2 1443.8 1285.8 1445.8 1286.4 1447.7 1286.9 1449.6 1287.4 1451.5 1287.9M1759.0 1313.6 1760.9 1313.0 1762.8 1312.4 1764.7 1311.8 1766.6 1311.1 1768.5 1310.5 1770.4 1309.8 1772.3 1309.1 1774.1 1308.4 1776.0 1307.7 1777.9 1307.0 1779.8 1306.3 1781.6 1305.6M1781.6 1305.6 1783.5 1304.9 1785.4 1304.2 1787.3 1303.5 1789.1 1302.7 1791.0 1302.0 1792.9 1301.3 1794.7 1300.5 1796.6 1299.8 1798.5 1299.1 1800.3 1298.4 1802.2 1297.7 1804.1 1296.9M1804.1 1296.9 1805.9 1296.2 1807.8 1295.5 1809.6 1294.7 1811.5 1294.0 1813.4 1293.2 1815.2 1292.5 1817.1 1291.7 1818.9 1290.9 1820.8 1290.2 1822.6 1289.4 1824.5 1288.7 1826.4 1288.0M1826.4 1288.0 1828.2 1287.2 1830.1 1286.5 1832.0 1285.8 1833.8 1285.1 1835.7 1284.5 1837.6 1283.8 1839.5 1283.1 1841.4 1282.4 1843.4 1281.8 1845.3 1281.1 1847.2 1280.5 1849.2 1279.9" fill="none" stroke="#0000ff" stroke-width="5.7" stroke-linejoin="round" stroke-linecap="round"/>
<path d="M669.3 1310.0 671.2 1309.7 673.2 1309.2 675.2 1308.8 677.1 1308.3 679.1 1307.7 681.0 1307.1 682.9 1306.5 684.8 1305.9 686.7 1305.3 688.6 1304.6 690.5 1303.9 692.4 1303.2M1498.3 1298.8 1500.2 1299.5 1502.0 1300.2 1503.8 1300.9 1505.6 1301.7 1507.5 1302.5 1509.3 1303.2 1511.1 1303.8 1513.0 1304.3 1514.9 1304.7 1516.8 1305.1 1518.7 1305.5 1520.7 1305.8M1735.9 1320.8 1737.9 1320.3 1739.8 1319.7 1741.7 1319.2 1743.7 1318.6 1745.6 1317.9 1747.5 1317.3 1749.5 1316.7 1751.4 1316.1 1753.3 1315.4 1755.2 1314.8 1757.1 1314.2 1759.0 1313.6M1893.2 1294.4 1895.1 1295.0 1897.0 1295.6 1898.9 1296.2 1900.8 1296.8 1902.8 1297.3 1904.7 1297.8 1906.7 1298.4 1908.6 1298.9 1910.5 1299.3 1912.5 1299.8 1914.4 1300.2 1916.4 1300.6" fill="none" stroke="#0000ff" stroke-width="5.8" stroke-linejoin="round" stroke-linecap="round"/>
<path d="M1451.5 1287.9 1453.5 1288.4 1455.4 1288.9 1457.4 1289.4 1459.3 1289.9 1461.2 1290.5 1463.2 1291.0 1465.1 1291.5 1467.0 1292.0 1469.0 1292.6 1470.9 1293.1 1472.8 1293.6 1474.8 1294.0M1474.8 1294.0 1476.7 1294.5 1478.7 1294.9 1480.7 1295.3 1482.6 1295.7 1484.6 1296.0 1486.6 1296.4 1488.6 1296.7 1490.6 1297.0 1492.5 1297.4 1494.5 1297.8 1496.4 1298.3 1498.3 1298.8M1849.2 1279.9 1851.1 1279.4 1853.0 1279.1 1854.9 1278.8 1856.8 1278.7 1858.6 1278.8 1860.5 1279.1 1862.3 1279.5 1864.1 1280.1 1865.9 1280.9 1867.7 1281.8 1869.4 1282.8 1871.2 1283.9M1916.4 1300.6 1918.3 1301.0 1920.3 1301.4 1922.2 1301.8 1924.2 1302.2 1926.1 1302.5 1928.1 1302.9 1930.1 1303.2 1932.0 1303.6 1934.0 1303.9 1936.0 1304.2 1938.0 1304.5 1939.9 1304.9M2131.0 1323.8 2133.0 1324.1 2134.0 1324.3" fill="none" stroke="#0000ff" stroke-width="5.9" stroke-linejoin="round" stroke-linecap="round"/>
<path d="M286.0 1323.0 288.0 1323.1 290.0 1323.2 292.0 1323.2 294.0 1323.3 296.0 1323.4 298.0 1323.4 300.0 1323.5 302.0 1323.5 304.0 1323.6 306.0 1323.6 308.0 1323.6 310.0 1323.7M310.0 1323.7 312.0 1323.7 314.0 1323.7 316.0 1323.7 318.0 1323.6 320.0 1323.6 322.0 1323.6 324.0 1323.5 326.0 1323.5 328.0 1323.4 330.0 1323.3 332.0 1323.3 334.0 1323.2M334.0 1323.2 336.0 1323.1 338.0 1323.1 340.0 1323.0 342.0 1322.9 344.0 1322.8 346.0 1322.8 348.0 1322.7 350.0 1322.6 352.0 1322.5 354.0 1322.5 356.0 1322.4 358.0 1322.3M358.0 1322.3 360.0 1322.3 362.0 1322.2 364.0 1322.2 366.0 1322.1 368.0 1322.1 370.0 1322.1 372.0 1322.0 374.0 1322.0 376.0 1322.0 378.0 1322.0 380.0 1322.0 382.0 1322.0M382.0 1322.0 384.0 1322.0 386.0 1322.0 388.0 1322.1 390.0 1322.1 392.0 1322.1 394.0 1322.1 396.0 1322.1 398.0 1322.1 400.0 1322.2 402.0 1322.2 404.0 1322.2 406.0 1322.2M406.0 1322.2 408.0 1322.3 410.0 1322.3 412.0 1322.3 414.0 1322.3 416.0 1322.3 418.0 1322.4 420.0 1322.4 422.0 1322.4 424.0 1322.4 426.0 1322.4 428.0 1322.5 430.0 1322.5M430.0 1322.5 432.0 1322.5 434.0 1322.5 436.0 1322.5 438.0 1322.5 440.0 1322.5 442.0 1322.5 444.0 1322.4 446.0 1322.4 448.0 1322.4 450.0 1322.3 452.0 1322.3 454.0 1322.2M454.0 1322.2 456.0 1322.1 458.0 1322.0 460.0 1321.9 462.0 1321.8 464.0 1321.7 466.0 1321.6 468.0 1321.5 470.0 1321.4 472.0 1321.3 474.0 1321.1 476.0 1321.0 478.0 1320.9M478.0 1320.9 480.0 1320.7 481.9 1320.6 483.9 1320.4 485.9 1320.3 487.9 1320.1 489.9 1320.0 491.9 1319.8 493.9 1319.7 495.9 1319.5 497.9 1319.4 499.9 1319.2 501.9 1319.1M501.9 1319.1 503.9 1318.9 505.9 1318.7 507.9 1318.5 509.9 1318.3 511.9 1318.1 513.8 1317.9 515.8 1317.6 517.8 1317.4 519.8 1317.1 521.8 1316.8 523.8 1316.5 525.8 1316.3M525.8 1316.3 527.8 1316.0 529.7 1315.7 531.7 1315.4 533.7 1315.1 535.7 1314.8 537.7 1314.5 539.7 1314.3 541.7 1314.0 543.6 1313.7 545.6 1313.5 547.6 1313.3 549.6 1313.1M549.6 1313.1 551.6 1312.9 553.6 1312.7 555.6 1312.5 557.6 1312.4 559.6 1312.3 561.5 1312.2 563.5 1312.1 565.5 1312.1 567.5 1312.1 569.5 1312.1 571.5 1312.2 573.5 1312.3M573.5 1312.3 575.5 1312.4 577.5 1312.5 579.5 1312.7 581.5 1312.8 583.5 1313.0 585.5 1313.2 587.5 1313.3 589.5 1313.5 591.5 1313.6 593.5 1313.7 595.5 1313.8 597.5 1313.9M597.5 1313.9 599.5 1313.9 601.5 1313.9 603.5 1313.9 605.5 1313.9 607.5 1313.9 609.5 1313.8 611.5 1313.8 613.5 1313.7 615.5 1313.6 617.5 1313.6 619.5 1313.5 621.5 1313.4M621.5 1313.4 623.5 1313.3 625.5 1313.2 627.5 1313.1 629.5 1313.0 631.5 1313.0 633.5 1312.9 635.5 1312.8 637.5 1312.7 639.5 1312.6 641.5 1312.5 643.5 1312.4 645.5 1312.3M645.5 1312.3 647.5 1312.2 649.5 1312.1 651.5 1312.0 653.5 1311.8 655.5 1311.7 657.5 1311.5 659.4 1311.3 661.4 1311.1 663.4 1310.9 665.4 1310.7 667.3 1310.4 669.3 1310.0M1020.3 1171.2 1022.2 1171.7 1024.2 1172.2 1026.1 1172.6 1028.1 1173.0 1030.1 1173.3 1032.2 1173.5 1034.2 1173.6 1036.2 1173.7 1038.2 1173.6 1040.1 1173.5 1042.1 1173.2 1044.1 1172.9M1520.7 1305.8 1522.6 1306.1 1524.6 1306.3 1526.6 1306.6 1528.6 1306.8 1530.6 1307.0 1532.6 1307.3 1534.6 1307.5 1536.6 1307.7 1538.6 1307.8 1540.6 1308.0 1542.7 1308.2 1544.7 1308.4M1544.7 1308.4 1546.7 1308.6 1548.7 1308.8 1550.7 1309.0 1552.8 1309.2 1554.8 1309.4 1556.8 1309.6 1558.8 1309.8 1560.8 1310.1 1562.8 1310.3 1564.7 1310.6 1566.7 1310.8 1568.7 1311.1M1568.7 1311.1 1570.7 1311.3 1572.7 1311.6 1574.7 1311.9 1576.6 1312.1 1578.6 1312.4 1580.6 1312.7 1582.6 1312.9 1584.6 1313.2 1586.6 1313.5 1588.6 1313.7 1590.5 1314.0 1592.5 1314.2M1592.5 1314.2 1594.5 1314.5 1596.5 1314.7 1598.5 1315.0 1600.5 1315.2 1602.4 1315.4 1604.4 1315.7 1606.4 1315.9 1608.4 1316.1 1610.4 1316.3 1612.4 1316.5 1614.4 1316.7 1616.4 1316.9M1616.4 1316.9 1618.4 1317.1 1620.3 1317.3 1622.3 1317.4 1624.3 1317.6 1626.3 1317.8 1628.3 1318.0 1630.3 1318.2 1632.3 1318.4 1634.3 1318.5 1636.3 1318.7 1638.3 1318.9 1640.3 1319.1M1640.3 1319.1 1642.3 1319.2 1644.3 1319.4 1646.3 1319.6 1648.3 1319.7 1650.2 1319.9 1652.2 1320.0 1654.2 1320.2 1656.2 1320.3 1658.2 1320.4 1660.2 1320.6 1662.2 1320.7 1664.2 1320.8M1664.2 1320.8 1666.2 1320.9 1668.2 1321.0 1670.2 1321.1 1672.2 1321.2 1674.2 1321.3 1676.2 1321.4 1678.2 1321.5 1680.2 1321.6 1682.2 1321.7 1684.2 1321.7 1686.2 1321.8 1688.2 1321.9M1688.2 1321.9 1690.2 1322.0 1692.2 1322.0 1694.3 1322.1 1696.3 1322.2 1698.3 1322.2 1700.3 1322.3 1702.3 1322.3 1704.3 1322.4 1706.3 1322.5 1708.3 1322.5 1710.3 1322.5 1712.3 1322.6M1712.3 1322.6 1714.3 1322.6 1716.3 1322.6 1718.2 1322.6 1720.2 1322.6 1722.2 1322.6 1724.2 1322.5 1726.1 1322.4 1728.1 1322.2 1730.1 1321.9 1732.0 1321.6 1734.0 1321.2 1735.9 1320.8M1939.9 1304.9 1941.9 1305.2 1943.9 1305.5 1945.9 1305.8 1947.9 1306.0 1949.9 1306.3 1951.8 1306.6 1953.8 1306.9 1955.8 1307.1 1957.8 1307.4 1959.8 1307.7 1961.8 1307.9 1963.8 1308.2M1963.8 1308.2 1965.8 1308.4 1967.8 1308.7 1969.7 1308.9 1971.7 1309.2 1973.7 1309.4 1975.7 1309.6 1977.7 1309.9 1979.7 1310.1 1981.7 1310.3 1983.7 1310.6 1985.6 1310.8 1987.6 1311.0M1987.6 1311.0 1989.6 1311.3 1991.6 1311.5 1993.6 1311.7 1995.6 1311.9 1997.6 1312.1 1999.6 1312.3 2001.5 1312.5 2003.5 1312.8 2005.5 1313.0 2007.5 1313.2 2009.5 1313.4 2011.5 1313.6M2011.5 1313.6 2013.5 1313.8 2015.5 1313.9 2017.5 1314.1 2019.5 1314.3 2021.5 1314.5 2023.4 1314.7 2025.4 1314.9 2027.4 1315.0 2029.4 1315.2 2031.4 1315.4 2033.4 1315.6 2035.4 1315.7M2035.4 1315.7 2037.4 1315.9 2039.4 1316.0 2041.4 1316.2 2043.4 1316.4 2045.4 1316.5 2047.4 1316.7 2049.4 1316.8 2051.4 1316.9 2053.4 1317.1 2055.4 1317.2 2057.4 1317.3 2059.4 1317.4M2059.4 1317.4 2061.3 1317.6 2063.3 1317.7 2065.3 1317.8 2067.3 1317.9 2069.3 1318.0 2071.3 1318.1 2073.3 1318.2 2075.3 1318.4 2077.3 1318.5 2079.3 1318.6 2081.3 1318.7 2083.3 1318.8M2083.3 1318.8 2085.3 1318.9 2087.3 1319.1 2089.3 1319.2 2091.3 1319.3 2093.3 1319.5 2095.3 1319.6 2097.3 1319.8 2099.3 1319.9 2101.3 1320.1 2103.3 1320.3 2105.3 1320.5 2107.2 1320.7M2107.2 1320.7 2109.2 1320.9 2111.2 1321.1 2113.2 1321.3 2115.2 1321.6 2117.2 1321.8 2119.2 1322.1 2121.1 1322.4 2123.1 1322.6 2125.1 1322.9 2127.1 1323.2 2129.1 1323.5 2131.0 1323.8" fill="none" stroke="#0000ff" stroke-width="6.0" stroke-linejoin="round" stroke-linecap="round"/>
<path d="M1162.1 867.2 1162.4 865.2 1162.7 863.2 1162.9 861.2 1163.1 859.3 1163.4 857.3 1163.6 855.3 1163.8 853.3 1164.1 851.3 1164.3 849.3 1164.5 847.3 1164.7 845.3 1165.0 843.3M1165.0 843.3 1165.2 841.3 1165.4 839.4 1165.7 837.4 1165.9 835.4 1166.2 833.4 1166.4 831.4 1166.7 829.4 1166.9 827.4 1167.2 825.5 1167.5 823.5 1167.7 821.5 1168.0 819.5M1168.0 819.5 1168.3 817.5 1168.6 815.6 1168.9 813.6 1169.2 811.6 1169.5 809.6 1169.8 807.6 1170.1 805.7 1170.4 803.7 1170.7 801.7 1171.0 799.7 1171.3 797.8 1171.6 795.8M1178.9 748.3 1179.2 746.4 1179.5 744.4 1179.8 742.4 1180.1 740.4 1180.4 738.4 1180.6 736.5 1180.9 734.5 1181.2 732.5 1181.5 730.5 1181.8 728.5 1182.0 726.6 1182.3 724.6M1182.3 724.6 1182.6 722.6 1182.8 720.6 1183.1 718.6 1183.3 716.6 1183.6 714.7 1183.8 712.7 1184.1 710.7 1184.3 708.7 1184.6 706.7 1184.8 704.7 1185.0 702.7 1185.3 700.8M1185.3 700.8 1185.5 698.8 1185.7 696.8 1186.0 694.8 1186.2 692.8 1186.4 690.8 1186.6 688.8 1186.8 686.8 1187.0 684.9 1187.3 682.9 1187.5 680.9 1187.7 678.9 1187.9 676.9M1187.9 676.9 1188.1 674.9 1188.3 672.9 1188.5 670.9 1188.7 668.9 1188.9 666.9 1189.1 665.0 1189.3 663.0 1189.5 661.0 1189.6 659.0 1189.8 657.0 1190.0 655.0 1190.2 653.0M1190.2 653.0 1190.4 651.0 1190.6 649.0 1190.8 647.0 1191.0 645.0 1191.1 643.1 1191.3 641.1 1191.5 639.1 1191.7 637.1 1191.9 635.1 1192.0 633.1 1192.2 631.1 1192.4 629.1M1192.4 629.1 1192.6 627.1 1192.7 625.1 1192.9 623.1 1193.1 621.1 1193.2 619.1 1193.4 617.1 1193.6 615.2 1193.8 613.2 1194.0 611.2 1194.1 609.2 1194.3 607.2 1194.5 605.2M1194.5 605.2 1194.7 603.2 1194.9 601.2 1195.1 599.2 1195.3 597.2 1195.5 595.2 1195.7 593.3 1195.9 591.3 1196.1 589.3 1196.3 587.3 1196.6 585.3 1196.8 583.3 1197.0 581.3M1197.0 581.3 1197.2 579.3 1197.4 577.3 1197.7 575.4 1197.9 573.4 1198.1 571.4 1198.3 569.4 1198.6 567.4 1198.8 565.4 1199.0 563.4 1199.2 561.4 1199.4 559.5 1199.6 557.5M1199.6 557.5 1199.8 555.5 1200.0 553.5 1200.2 551.5 1200.4 549.5 1200.5 547.5 1200.7 545.5 1200.9 543.5 1201.1 541.5 1201.2 539.5 1201.4 537.5 1201.5 535.6 1201.7 533.6M1201.7 533.6 1201.9 531.6 1202.0 529.6 1202.2 527.6 1202.3 525.6 1202.5 523.6 1202.6 521.6 1202.8 519.6 1202.9 517.6 1203.0 515.6 1203.2 513.6 1203.3 511.6 1203.5 509.6M1203.5 509.6 1203.6 507.6 1203.7 505.6 1203.9 503.6 1204.0 501.6 1204.2 499.6 1204.3 497.6 1204.4 495.7 1204.6 493.7 1204.7 491.7 1204.9 489.7 1205.0 487.7 1205.2 485.7M1205.2 485.7 1205.3 483.7 1205.5 481.7 1205.6 479.7 1205.7 477.7 1205.9 475.7 1206.0 473.7 1206.2 471.7 1206.3 469.7 1206.5 467.7 1206.6 465.7 1206.8 463.7 1206.9 461.7M1206.9 461.7 1207.1 459.7 1207.2 457.7 1207.4 455.8 1207.5 453.8 1207.6 451.8 1207.8 449.8 1207.9 447.8 1208.1 445.8 1208.2 443.8 1208.4 441.8 1208.5 439.8 1208.7 437.8M1208.7 437.8 1208.8 435.8 1209.0 433.8 1209.1 431.8 1209.3 429.8 1209.4 427.8 1209.6 425.8 1209.7 423.8 1209.9 421.8 1210.0 419.8 1210.2 417.9 1210.3 415.9 1210.5 413.9M1210.5 413.9 1210.7 411.9 1210.8 409.9 1211.0 407.9 1211.1 405.9 1211.3 403.9 1211.4 401.9 1211.6 399.9 1211.7 397.9 1211.9 395.9 1212.0 393.9 1212.2 391.9 1212.4 389.9M1212.4 389.9 1212.5 387.9 1212.7 385.9 1212.8 383.9 1213.0 382.0 1213.2 380.0 1213.3 378.0 1213.5 376.0 1213.7 374.0 1213.9 372.0 1214.0 370.0 1214.2 368.0 1214.4 366.0M1214.4 366.0 1214.6 364.0 1214.8 362.0 1215.0 360.1 1215.2 358.1 1215.5 356.1 1215.7 354.1 1216.0 352.1 1216.2 350.1 1216.5 348.1 1216.7 346.2 1217.0 344.2 1217.2 342.2M1217.2 342.2 1217.4 340.2 1217.7 338.2 1217.9 336.2 1218.1 334.2 1218.3 332.2 1218.5 330.3 1218.7 328.3 1218.9 326.3 1219.1 324.3 1219.3 322.3 1219.5 320.3 1219.7 318.3M1219.7 318.3 1219.9 316.3 1220.1 314.3 1220.3 312.3 1220.5 310.3 1220.7 308.4 1220.9 306.4 1221.1 304.4 1221.3 302.4 1221.5 300.4 1221.7 298.4 1221.9 296.4 1222.1 294.4M1222.1 294.4 1222.3 292.4 1222.5 290.4 1222.7 288.5 1222.9 286.5 1223.1 284.5 1223.3 282.5 1223.5 280.5 1223.7 278.5 1223.9 276.5 1224.1 274.5 1224.3 272.5 1224.5 270.5M1224.5 270.5 1224.7 268.6 1224.8 266.6 1225.0 264.6 1225.2 262.6 1225.4 260.6 1225.6 258.6 1225.8 256.6 1226.0 254.6 1226.2 252.6 1226.4 250.6 1226.6 248.6 1226.8 246.6M1226.8 246.6 1227.0 244.7 1227.2 242.7 1227.4 240.7 1227.6 238.7 1227.9 236.7 1228.1 234.7 1228.3 232.7 1228.6 230.7 1228.8 228.8 1229.1 226.8 1229.3 224.8 1229.6 222.8M1260.2 231.5 1260.4 233.5 1260.7 235.4 1260.9 237.4 1261.1 239.4 1261.3 241.4 1261.5 243.4 1261.7 245.4 1261.9 247.4 1262.1 249.4 1262.3 251.4 1262.5 253.3 1262.7 255.3M1262.7 255.3 1262.9 257.3 1263.1 259.3 1263.2 261.3 1263.4 263.3 1263.6 265.3 1263.8 267.3 1264.0 269.3 1264.2 271.3 1264.4 273.3 1264.6 275.3 1264.8 277.2 1265.0 279.2M1265.0 279.2 1265.2 281.2 1265.4 283.2 1265.6 285.2 1265.8 287.2 1266.0 289.2 1266.2 291.2 1266.4 293.2 1266.6 295.2 1266.8 297.1 1267.0 299.1 1267.2 301.1 1267.4 303.1M1267.4 303.1 1267.6 305.1 1267.8 307.1 1268.0 309.1 1268.3 311.1 1268.5 313.1 1268.7 315.1 1268.9 317.0 1269.1 319.0 1269.3 321.0 1269.5 323.0 1269.7 325.0 1269.8 327.0M1269.8 327.0 1270.0 329.0 1270.2 331.0 1270.3 333.0 1270.5 335.0 1270.6 337.0 1270.7 339.0 1270.9 341.0 1271.0 342.9 1271.1 344.9 1271.2 346.9 1271.3 348.9 1271.5 350.9M1271.5 350.9 1271.6 352.9 1271.7 354.9 1271.8 356.9 1271.9 358.9 1272.1 360.9 1272.2 362.9 1272.3 364.9 1272.4 366.9 1272.5 368.9 1272.7 370.9 1272.8 372.9 1272.9 374.9M1272.9 374.9 1273.0 376.9 1273.1 378.9 1273.3 380.9 1273.4 382.9 1273.5 384.9 1273.6 386.9 1273.8 388.9 1273.9 390.9 1274.0 392.9 1274.2 394.9 1274.3 396.9 1274.4 398.9M1274.4 398.9 1274.6 400.8 1274.7 402.8 1274.8 404.8 1275.0 406.8 1275.1 408.8 1275.3 410.8 1275.4 412.8 1275.6 414.8 1275.7 416.8 1275.9 418.8 1276.1 420.8 1276.2 422.8M1276.2 422.8 1276.4 424.8 1276.5 426.8 1276.7 428.8 1276.8 430.8 1277.0 432.8 1277.2 434.8 1277.3 436.7 1277.5 438.7 1277.6 440.7 1277.8 442.7 1277.9 444.7 1278.1 446.7M1278.1 446.7 1278.3 448.7 1278.4 450.7 1278.6 452.7 1278.7 454.7 1278.9 456.7 1279.0 458.7 1279.1 460.7 1279.3 462.7 1279.4 464.7 1279.6 466.7 1279.7 468.7 1279.8 470.7M1279.8 470.7 1280.0 472.7 1280.1 474.6 1280.2 476.6 1280.3 478.6 1280.5 480.6 1280.6 482.6 1280.7 484.6 1280.9 486.6 1281.0 488.6 1281.1 490.6 1281.2 492.6 1281.4 494.6M1281.4 494.6 1281.5 496.6 1281.6 498.6 1281.7 500.6 1281.8 502.6 1282.0 504.6 1282.1 506.6 1282.2 508.6 1282.3 510.6 1282.5 512.6 1282.6 514.6 1282.7 516.6 1282.8 518.6M1282.8 518.6 1282.9 520.6 1283.1 522.6 1283.2 524.6 1283.3 526.6 1283.4 528.5 1283.5 530.5 1283.7 532.5 1283.8 534.5 1283.9 536.5 1284.0 538.5 1284.2 540.5 1284.3 542.5M1284.3 542.5 1284.4 544.5 1284.5 546.5 1284.6 548.5 1284.7 550.5 1284.9 552.5 1285.0 554.5 1285.1 556.5 1285.2 558.5 1285.3 560.5 1285.5 562.5 1285.6 564.5 1285.7 566.5M1285.7 566.5 1285.8 568.5 1285.9 570.5 1286.1 572.5 1286.2 574.5 1286.3 576.5 1286.4 578.5 1286.5 580.5 1286.7 582.5 1286.8 584.5 1286.9 586.4 1287.0 588.4 1287.2 590.4M1287.2 590.4 1287.3 592.4 1287.4 594.4 1287.6 596.4 1287.7 598.4 1287.8 600.4 1288.0 602.4 1288.1 604.4 1288.2 606.4 1288.4 608.4 1288.5 610.4 1288.7 612.4 1288.8 614.4M1288.8 614.4 1288.9 616.4 1289.1 618.4 1289.2 620.4 1289.4 622.4 1289.5 624.4 1289.7 626.4 1289.8 628.4 1290.0 630.3 1290.1 632.3 1290.3 634.3 1290.4 636.3 1290.6 638.3M1290.6 638.3 1290.7 640.3 1290.9 642.3 1291.0 644.3 1291.2 646.3 1291.4 648.3 1291.5 650.3 1291.7 652.3 1291.8 654.3 1292.0 656.3 1292.2 658.3 1292.3 660.3 1292.5 662.2M1292.5 662.2 1292.7 664.2 1292.9 666.2 1293.0 668.2 1293.2 670.2 1293.4 672.2 1293.6 674.2 1293.8 676.2 1294.0 678.2 1294.2 680.2 1294.4 682.2 1294.6 684.2 1294.8 686.1M1294.8 686.1 1295.0 688.1 1295.2 690.1 1295.4 692.1 1295.6 694.1 1295.8 696.1 1296.0 698.1 1296.2 700.1 1296.4 702.1 1296.6 704.1 1296.8 706.0 1297.0 708.0 1297.2 710.0M1297.2 710.0 1297.4 712.0 1297.6 714.0 1297.7 716.0 1297.9 718.0 1298.1 720.0 1298.3 722.0 1298.5 724.0 1298.6 726.0 1298.8 728.0 1299.0 729.9 1299.1 731.9 1299.3 733.9M1299.3 733.9 1299.5 735.9 1299.6 737.9 1299.8 739.9 1300.0 741.9 1300.1 743.9 1300.3 745.9 1300.4 747.9 1300.6 749.9 1300.8 751.9 1300.9 753.9 1301.1 755.9 1301.2 757.9M1301.2 757.9 1301.4 759.9 1301.5 761.8 1301.7 763.8 1301.8 765.8 1301.9 767.8 1302.1 769.8 1302.2 771.8 1302.4 773.8 1302.5 775.8 1302.7 777.8 1302.8 779.8 1302.9 781.8M1302.9 781.8 1303.1 783.8 1303.2 785.8 1303.4 787.8 1303.5 789.8 1303.7 791.8 1303.8 793.8 1304.0 795.8 1304.2 797.8 1304.3 799.7 1304.5 801.7 1304.7 803.7 1304.8 805.7M1304.8 805.7 1305.0 807.7 1305.2 809.7 1305.4 811.7 1305.6 813.7 1305.8 815.7 1306.0 817.7 1306.2 819.7 1306.4 821.7 1306.6 823.6 1306.8 825.6 1307.0 827.6 1307.2 829.6M1307.2 829.6 1307.4 831.6 1307.6 833.6 1307.8 835.6 1308.0 837.6 1308.2 839.6 1308.4 841.6 1308.6 843.5 1308.8 845.5 1309.0 847.5 1309.2 849.5 1309.4 851.5 1309.6 853.5M1309.6 853.5 1309.8 855.5 1310.0 857.5 1310.2 859.5 1310.4 861.5 1310.6 863.4 1310.8 865.4 1311.0 867.4 1311.2 869.4 1311.4 871.4 1311.6 873.4 1311.8 875.4 1312.0 877.4M1312.0 877.4 1312.2 879.4 1312.4 881.4 1312.6 883.4 1312.8 885.3 1313.0 887.3 1313.2 889.3 1313.4 891.3 1313.6 893.3 1313.8 895.3 1314.0 897.3 1314.2 899.3 1314.4 901.3M1314.4 901.3 1314.6 903.2 1314.8 905.2 1315.1 907.2 1315.3 909.2 1315.5 911.2 1315.8 913.2 1316.0 915.2 1316.3 917.2 1316.5 919.1 1316.7 921.1 1317.0 923.1 1317.2 925.1M1317.2 925.1 1317.5 927.1 1317.8 929.1 1318.0 931.0 1318.3 933.0 1318.5 935.0 1318.8 937.0 1319.0 939.0 1319.3 941.0 1319.6 942.9 1319.8 944.9 1320.1 946.9 1320.3 948.9M1320.3 948.9 1320.6 950.9 1320.8 952.9 1321.1 954.9 1321.3 956.8 1321.6 958.8 1321.8 960.8 1322.0 962.8 1322.3 964.8 1322.5 966.8 1322.7 968.8 1323.0 970.7 1323.2 972.7M1323.2 972.7 1323.4 974.7 1323.7 976.7 1323.9 978.7 1324.1 980.7 1324.4 982.7 1324.6 984.7 1324.9 986.6 1325.1 988.6 1325.4 990.6 1325.6 992.6 1325.9 994.6 1326.2 996.6" fill="none" stroke="#ff0000" stroke-width="3.7" stroke-linejoin="round" stroke-linecap="round"/>
<path d="M1131.9 1007.9 1132.4 1006.0 1132.9 1004.1 1133.4 1002.1 1133.9 1000.2 1134.4 998.2 1134.9 996.3 1135.4 994.4 1135.9 992.4 1136.4 990.5 1136.8 988.5 1137.3 986.6 1137.8 984.6M1137.8 984.6 1138.2 982.7 1138.7 980.7 1139.1 978.8 1139.6 976.8 1140.0 974.9 1140.5 972.9 1140.9 971.0 1141.3 969.0 1141.7 967.1 1142.1 965.1 1142.5 963.2 1142.9 961.2M1142.9 961.2 1143.3 959.2 1143.7 957.3 1144.0 955.3 1144.4 953.3 1144.8 951.4 1145.2 949.4 1145.5 947.5 1145.9 945.5 1146.3 943.5 1146.7 941.5 1147.0 939.6 1147.4 937.6M1147.4 937.6 1147.8 935.7 1148.2 933.7 1148.5 931.7 1148.9 929.8 1149.3 927.8 1149.7 925.8 1150.1 923.9 1150.5 921.9 1150.9 920.0 1151.4 918.0 1151.8 916.0 1152.2 914.1M1152.2 914.1 1152.7 912.1 1153.1 910.2 1153.6 908.3 1154.1 906.3 1154.6 904.4 1155.1 902.4 1155.6 900.5 1156.0 898.5 1156.5 896.6 1157.0 894.6 1157.5 892.7 1157.9 890.8M1157.9 890.8 1158.4 888.8 1158.8 886.9 1159.2 884.9 1159.6 882.9 1160.0 881.0 1160.3 879.0 1160.7 877.1 1161.0 875.1 1161.3 873.1 1161.6 871.1 1161.9 869.2 1162.1 867.2M1171.6 795.8 1171.9 793.8 1172.2 791.8 1172.5 789.8 1172.8 787.9 1173.1 785.9 1173.4 783.9 1173.7 781.9 1174.0 780.0 1174.3 778.0 1174.6 776.0 1174.9 774.0 1175.2 772.0M1175.2 772.0 1175.5 770.1 1175.8 768.1 1176.1 766.1 1176.4 764.1 1176.7 762.2 1177.0 760.2 1177.3 758.2 1177.6 756.2 1177.9 754.3 1178.3 752.3 1178.6 750.3 1178.9 748.3M1229.6 222.8 1229.9 220.8 1230.2 218.8 1230.5 216.8 1230.8 214.9 1231.1 212.9 1231.4 210.9 1231.7 208.9 1232.1 207.0 1232.4 205.0 1232.8 203.0 1233.2 201.1 1233.6 199.1M1252.4 183.9 1252.8 185.9 1253.2 188.0 1253.6 189.9 1254.0 191.9 1254.3 193.9 1254.6 195.9 1255.0 197.9 1255.3 199.8 1255.6 201.8 1255.9 203.8 1256.3 205.8 1256.6 207.7M1256.6 207.7 1256.9 209.7 1257.2 211.7 1257.5 213.7 1257.9 215.6 1258.2 217.6 1258.5 219.6 1258.8 221.6 1259.1 223.6 1259.4 225.5 1259.6 227.5 1259.9 229.5 1260.2 231.5M1326.2 996.6 1326.4 998.5 1326.7 1000.5 1327.0 1002.5 1327.3 1004.5 1327.6 1006.4 1327.9 1008.4 1328.3 1010.4 1328.6 1012.3 1329.0 1014.3 1329.4 1016.3 1329.8 1018.2 1330.2 1020.2M1330.2 1020.2 1330.6 1022.1 1331.0 1024.1 1331.4 1026.1 1331.8 1028.0 1332.2 1030.0 1332.7 1031.9 1333.1 1033.9 1333.5 1035.8 1334.0 1037.8 1334.4 1039.8 1334.8 1041.7 1335.2 1043.7M1335.2 1043.7 1335.7 1045.6 1336.1 1047.6 1336.5 1049.5 1336.9 1051.5 1337.3 1053.5 1337.7 1055.4 1338.0 1057.4 1338.4 1059.4 1338.8 1061.3 1339.2 1063.3 1339.5 1065.3 1339.9 1067.2M1339.9 1067.2 1340.3 1069.2 1340.6 1071.2 1341.0 1073.1 1341.3 1075.1 1341.7 1077.1 1342.1 1079.0 1342.4 1081.0 1342.8 1083.0 1343.2 1084.9 1343.6 1086.9 1344.0 1088.9 1344.4 1090.8M1344.4 1090.8 1344.8 1092.8 1345.2 1094.7 1345.6 1096.7 1346.0 1098.6 1346.5 1100.6 1346.9 1102.5 1347.4 1104.5 1347.9 1106.4 1348.4 1108.3 1349.0 1110.3 1349.5 1112.2 1350.1 1114.1" fill="none" stroke="#ff0000" stroke-width="3.8" stroke-linejoin="round" stroke-linecap="round"/>
<path d="M805.9 1155.2 806.6 1153.3 807.2 1151.4 807.9 1149.5 808.6 1147.6 809.2 1145.7 809.9 1143.8 810.5 1141.9 811.2 1140.0 811.8 1138.2 812.5 1136.3 813.1 1134.4 813.8 1132.5M813.8 1132.5 814.4 1130.6 815.1 1128.7 815.7 1126.8 816.4 1124.9 817.1 1123.0 817.7 1121.1 818.4 1119.3 819.0 1117.4 819.7 1115.5 820.4 1113.6 821.0 1111.7 821.7 1109.8M1117.7 1053.8 1118.4 1051.9 1119.0 1050.0 1119.7 1048.1 1120.3 1046.2 1120.9 1044.3 1121.6 1042.4 1122.2 1040.5 1122.8 1038.6 1123.4 1036.7 1124.0 1034.8 1124.6 1032.9 1125.2 1031.0M1125.2 1031.0 1125.8 1029.1 1126.4 1027.2 1127.0 1025.3 1127.5 1023.4 1128.1 1021.4 1128.6 1019.5 1129.2 1017.6 1129.7 1015.7 1130.3 1013.7 1130.8 1011.8 1131.4 1009.9 1131.9 1007.9M1350.1 1114.1 1350.6 1116.0 1351.2 1117.9 1351.8 1119.9 1352.4 1121.8 1352.9 1123.7 1353.5 1125.6 1354.1 1127.5 1354.6 1129.5 1355.2 1131.4 1355.7 1133.3 1356.3 1135.2 1356.9 1137.2" fill="none" stroke="#ff0000" stroke-width="3.9" stroke-linejoin="round" stroke-linecap="round"/>
<path d="M797.2 1177.5 797.9 1175.7 798.7 1173.8 799.4 1172.0 800.2 1170.1 800.9 1168.2 801.7 1166.4 802.4 1164.5 803.1 1162.7 803.8 1160.8 804.5 1158.9 805.2 1157.0 805.9 1155.2M821.7 1109.8 822.3 1107.9 823.0 1106.0 823.7 1104.2 824.3 1102.3 825.0 1100.4 825.7 1098.5 826.3 1096.6 827.0 1094.7 827.7 1092.8 828.3 1091.0 829.0 1089.1 829.6 1087.2M829.6 1087.2 830.3 1085.3 830.9 1083.4 831.6 1081.5 832.2 1079.6 832.8 1077.7 833.5 1075.8 834.1 1073.9 834.8 1072.0 835.4 1070.1 836.1 1068.2 836.8 1066.4 837.6 1064.5M1109.2 1076.5 1109.9 1074.6 1110.7 1072.7 1111.4 1070.9 1112.2 1069.0 1112.9 1067.1 1113.6 1065.2 1114.3 1063.3 1115.0 1061.4 1115.7 1059.5 1116.4 1057.6 1117.0 1055.7 1117.7 1053.8M1233.6 199.1 1234.0 197.1 1234.5 195.1 1234.9 193.2 1235.4 191.2 1236.0 189.2 1236.5 187.3 1237.2 185.4 1237.9 183.5 1238.6 181.7 1239.5 179.9 1240.5 178.1 1241.6 176.5M1356.9 1137.2 1357.4 1139.1 1358.0 1141.0 1358.6 1142.9 1359.2 1144.8 1359.8 1146.7 1360.4 1148.6 1361.1 1150.5 1361.8 1152.3 1362.5 1154.2 1363.2 1156.1 1364.0 1157.9 1364.8 1159.7" fill="none" stroke="#ff0000" stroke-width="4.0" stroke-linejoin="round" stroke-linecap="round"/>
<path d="M777.4 1221.3 778.3 1219.5 779.1 1217.7 780.0 1215.9 780.8 1214.1 781.7 1212.3 782.5 1210.4 783.4 1208.6 784.2 1206.8 785.1 1205.0 785.9 1203.1 786.7 1201.3 787.6 1199.5M787.6 1199.5 788.4 1197.7 789.2 1195.9 790.0 1194.0 790.8 1192.2 791.7 1190.4 792.5 1188.5 793.2 1186.7 794.0 1184.9 794.8 1183.0 795.6 1181.2 796.4 1179.4 797.2 1177.5M963.1 1042.7 963.9 1044.5 964.8 1046.3 965.6 1048.1 966.4 1050.0 967.2 1051.8 968.0 1053.6 968.8 1055.5 969.6 1057.3 970.4 1059.1 971.2 1061.0 972.0 1062.8 972.8 1064.7M972.8 1064.7 973.5 1066.5 974.3 1068.3 975.1 1070.2 975.9 1072.0 976.6 1073.9 977.4 1075.7 978.2 1077.6 979.0 1079.4 979.8 1081.2 980.6 1083.1 981.4 1084.9 982.2 1086.8M982.2 1086.8 982.9 1088.6 983.7 1090.5 984.5 1092.4 985.3 1094.2 986.1 1096.1 986.9 1097.9 987.7 1099.8 988.5 1101.6 989.3 1103.5 990.1 1105.3 991.0 1107.1 991.9 1108.9M1099.0 1098.1 1099.9 1096.3 1100.8 1094.6 1101.7 1092.8 1102.6 1091.1 1103.5 1089.3 1104.3 1087.5 1105.2 1085.7 1106.0 1083.8 1106.8 1082.0 1107.6 1080.2 1108.4 1078.3 1109.2 1076.5M1364.8 1159.7 1365.6 1161.6 1366.4 1163.4 1367.3 1165.2 1368.1 1167.0 1369.0 1168.8 1369.8 1170.7 1370.7 1172.5 1371.6 1174.3 1372.5 1176.0 1373.4 1177.8 1374.3 1179.6 1375.2 1181.4" fill="none" stroke="#ff0000" stroke-width="4.1" stroke-linejoin="round" stroke-linecap="round"/>
<path d="M837.6 1064.5 838.3 1062.7 839.1 1060.9 840.0 1059.1 840.9 1057.3 841.8 1055.5 842.7 1053.7 843.7 1052.0 844.6 1050.2 845.6 1048.5 846.6 1046.7 847.5 1044.9 848.5 1043.2M848.5 1043.2 849.4 1041.4 850.3 1039.6 851.2 1037.8 852.1 1036.0 852.9 1034.2 853.8 1032.4 854.7 1030.6 855.5 1028.8 856.4 1027.0 857.4 1025.2 858.3 1023.5 859.3 1021.7M952.4 1021.1 953.4 1022.9 954.4 1024.6 955.3 1026.4 956.2 1028.1 957.1 1029.9 958.0 1031.7 958.9 1033.5 959.7 1035.4 960.6 1037.2 961.4 1039.0 962.3 1040.8 963.1 1042.7" fill="none" stroke="#ff0000" stroke-width="4.2" stroke-linejoin="round" stroke-linecap="round"/>
<path d="M1375.2 1181.4 1376.1 1183.2 1377.0 1185.0 1378.0 1186.7 1378.9 1188.5 1379.9 1190.2 1380.9 1192.0 1381.9 1193.7 1382.9 1195.4 1383.9 1197.1 1385.0 1198.8 1386.0 1200.5 1387.1 1202.2" fill="none" stroke="#ff0000" stroke-width="4.3" stroke-linejoin="round" stroke-linecap="round"/>
<path d="M763.8 1240.9 765.1 1239.4 766.4 1237.9 767.7 1236.3 769.0 1234.8 770.2 1233.2 771.4 1231.6 772.5 1230.0 773.5 1228.3 774.5 1226.6 775.5 1224.9 776.5 1223.1 777.4 1221.3M991.9 1108.9 992.8 1110.6 993.7 1112.4 994.7 1114.1 995.7 1115.8 996.8 1117.5 997.9 1119.1 999.0 1120.8 1000.2 1122.4 1001.4 1124.0 1002.7 1125.6 1004.0 1127.2 1005.4 1128.6M1085.6 1117.9 1086.8 1116.4 1088.1 1114.8 1089.3 1113.2 1090.5 1111.5 1091.7 1109.9 1092.8 1108.2 1093.9 1106.6 1095.0 1104.9 1096.0 1103.2 1097.0 1101.5 1098.0 1099.8 1099.0 1098.1M1387.1 1202.2 1388.2 1203.9 1389.3 1205.5 1390.4 1207.2 1391.6 1208.9 1392.7 1210.5 1393.8 1212.2 1395.0 1213.8 1396.1 1215.5 1397.2 1217.1 1398.3 1218.8 1399.5 1220.5 1400.6 1222.1" fill="none" stroke="#ff0000" stroke-width="4.4" stroke-linejoin="round" stroke-linecap="round"/>
<path d="M749.2 1260.0 750.5 1258.4 751.7 1256.8 752.9 1255.2 754.1 1253.6 755.2 1252.0 756.4 1250.4 757.6 1248.8 758.8 1247.2 760.0 1245.6 761.3 1244.0 762.5 1242.4 763.8 1240.9M859.3 1021.7 860.3 1020.0 861.3 1018.3 862.4 1016.6 863.5 1014.9 864.6 1013.3 865.8 1011.7 867.0 1010.1 868.3 1008.5 869.6 1007.0 870.9 1005.4 872.2 1003.9 873.6 1002.4" fill="none" stroke="#ff0000" stroke-width="4.5" stroke-linejoin="round" stroke-linecap="round"/>
<path d="M937.7 1002.1 939.1 1003.6 940.5 1005.1 941.8 1006.6 943.2 1008.1 944.5 1009.7 945.7 1011.3 946.9 1012.8 948.1 1014.5 949.2 1016.1 950.3 1017.8 951.4 1019.4 952.4 1021.1" fill="none" stroke="#ff0000" stroke-width="4.6" stroke-linejoin="round" stroke-linecap="round"/>
<path d="M1400.6 1222.1 1401.7 1223.8 1402.9 1225.4 1404.1 1227.1 1405.3 1228.6 1406.5 1230.2 1407.8 1231.7 1409.1 1233.1 1410.5 1234.6 1411.9 1236.0 1413.4 1237.3 1414.9 1238.6 1416.4 1240.0" fill="none" stroke="#ff0000" stroke-width="4.7" stroke-linejoin="round" stroke-linecap="round"/>
<path d="M732.8 1277.4 734.3 1276.1 735.7 1274.7 737.2 1273.3 738.6 1271.9 740.0 1270.5 741.4 1269.0 742.7 1267.6 744.1 1266.1 745.4 1264.6 746.7 1263.1 748.0 1261.5 749.2 1260.0M1068.9 1135.7 1070.4 1134.3 1071.9 1132.8 1073.3 1131.4 1074.8 1129.9 1076.2 1128.4 1077.6 1127.0 1079.0 1125.5 1080.3 1124.0 1081.6 1122.5 1083.0 1121.0 1084.3 1119.5 1085.6 1117.9" fill="none" stroke="#ff0000" stroke-width="4.8" stroke-linejoin="round" stroke-linecap="round"/>
<path d="M1416.4 1240.0 1417.9 1241.3 1419.4 1242.6 1420.9 1244.0 1422.4 1245.3 1423.8 1246.7 1425.3 1248.1 1426.7 1249.5 1428.1 1251.0 1429.6 1252.4 1431.0 1253.8 1432.5 1255.2 1433.9 1256.5" fill="none" stroke="#ff0000" stroke-width="4.9" stroke-linejoin="round" stroke-linecap="round"/>
<path d="M713.4 1291.5 715.1 1290.4 716.8 1289.4 718.5 1288.3 720.1 1287.2 721.8 1286.0 723.4 1284.9 725.0 1283.7 726.6 1282.5 728.2 1281.2 729.7 1280.0 731.3 1278.7 732.8 1277.4M1005.4 1128.6 1006.8 1130.1 1008.2 1131.5 1009.6 1132.8 1011.1 1134.1 1012.7 1135.3 1014.3 1136.6 1015.9 1137.8 1017.6 1138.9 1019.3 1140.1 1021.1 1141.2 1022.9 1142.3 1024.7 1143.3" fill="none" stroke="#ff0000" stroke-width="5.2" stroke-linejoin="round" stroke-linecap="round"/>
<path d="M1241.6 176.5 1242.9 175.0 1244.1 173.7 1245.4 172.8 1246.6 172.4 1247.7 172.5 1248.6 173.1 1249.5 174.3 1250.2 175.9 1250.8 177.7 1251.4 179.8 1251.9 181.8 1252.4 183.9M1433.9 1256.5 1435.4 1257.9 1436.9 1259.1 1438.5 1260.4 1440.1 1261.5 1441.7 1262.6 1443.3 1263.7 1445.0 1264.7 1446.8 1265.7 1448.5 1266.7 1450.3 1267.6 1452.1 1268.5 1453.9 1269.4" fill="none" stroke="#ff0000" stroke-width="5.3" stroke-linejoin="round" stroke-linecap="round"/>
<path d="M873.6 1002.4 875.0 1001.0 876.5 999.6 878.0 998.4 879.5 997.1 881.1 996.0 882.8 994.9 884.5 993.8 886.3 992.8 888.1 991.9 890.0 991.1 891.8 990.5 893.8 989.9M917.8 990.7 919.7 991.0 921.6 991.4 923.4 991.9 925.2 992.5 926.9 993.2 928.5 994.1 930.1 995.2 931.7 996.4 933.3 997.7 934.8 999.1 936.3 1000.6 937.7 1002.1" fill="none" stroke="#ff0000" stroke-width="5.4" stroke-linejoin="round" stroke-linecap="round"/>
<path d="M692.0 1302.5 693.9 1301.7 695.7 1300.8 697.5 1300.0 699.3 1299.1 701.1 1298.2 702.9 1297.3 704.7 1296.4 706.4 1295.5 708.2 1294.5 709.9 1293.5 711.7 1292.5 713.4 1291.5" fill="none" stroke="#ff0000" stroke-width="5.5" stroke-linejoin="round" stroke-linecap="round"/>
<path d="M1047.8 1145.8 1049.8 1145.4 1051.7 1144.9 1053.7 1144.4 1055.5 1143.8 1057.3 1143.1 1059.1 1142.4 1060.8 1141.5 1062.5 1140.5 1064.1 1139.5 1065.7 1138.3 1067.3 1137.0 1068.9 1135.7M1453.9 1269.4 1455.7 1270.3 1457.5 1271.2 1459.3 1272.1 1461.1 1273.0 1462.9 1273.8 1464.7 1274.7 1466.5 1275.5 1468.3 1276.4 1470.1 1277.2 1472.0 1278.1 1473.8 1278.9 1475.6 1279.7M1802.7 1295.8 1804.6 1295.1 1806.4 1294.3 1808.3 1293.5 1810.1 1292.7 1811.9 1291.9 1813.8 1291.1 1815.6 1290.2 1817.4 1289.4 1819.2 1288.5 1821.0 1287.6 1822.8 1286.8 1824.6 1286.0M1824.6 1286.0 1826.5 1285.1 1828.3 1284.3 1830.1 1283.5 1832.0 1282.7 1833.8 1281.9 1835.7 1281.1 1837.5 1280.3 1839.4 1279.6 1841.3 1278.8 1843.2 1277.9 1845.1 1277.1 1847.0 1276.3" fill="none" stroke="#ff0000" stroke-width="5.6" stroke-linejoin="round" stroke-linecap="round"/>
<path d="M1475.6 1279.7 1477.4 1280.5 1479.3 1281.4 1481.1 1282.2 1482.9 1283.0 1484.8 1283.8 1486.6 1284.6 1488.4 1285.4 1490.3 1286.2 1492.1 1287.0 1494.0 1287.7 1495.9 1288.4 1497.7 1289.0M1780.2 1303.9 1782.1 1303.3 1784.0 1302.6 1785.9 1302.0 1787.8 1301.3 1789.6 1300.7 1791.5 1300.0 1793.4 1299.3 1795.3 1298.6 1797.2 1297.9 1799.0 1297.2 1800.9 1296.5 1802.7 1295.8M1892.6 1279.4 1894.5 1280.2 1896.5 1281.0 1898.4 1281.8 1900.3 1282.5 1902.2 1283.3 1904.1 1284.0 1906.0 1284.7 1908.0 1285.4 1909.9 1286.0 1911.8 1286.6 1913.7 1287.2 1915.7 1287.7" fill="none" stroke="#ff0000" stroke-width="5.7" stroke-linejoin="round" stroke-linecap="round"/>
<path d="M669.3 1310.1 671.2 1309.6 673.2 1309.0 675.1 1308.5 677.0 1307.9 678.9 1307.3 680.8 1306.7 682.7 1306.1 684.6 1305.4 686.5 1304.7 688.3 1304.0 690.2 1303.2 692.0 1302.5M1497.7 1289.0 1499.6 1289.6 1501.6 1290.2 1503.5 1290.7 1505.4 1291.2 1507.3 1291.7 1509.3 1292.2 1511.2 1292.8 1513.2 1293.3 1515.1 1293.8 1517.0 1294.4 1519.0 1295.0 1520.9 1295.6M1520.9 1295.6 1522.8 1296.2 1524.8 1296.9 1526.7 1297.5 1528.6 1298.1 1530.6 1298.8 1532.5 1299.4 1534.4 1300.0 1536.4 1300.6 1538.3 1301.2 1540.2 1301.7 1542.2 1302.2 1544.1 1302.7M1591.6 1305.8 1593.5 1306.2 1595.4 1306.8 1597.3 1307.4 1599.2 1308.1 1601.1 1308.9 1602.9 1309.7 1604.8 1310.4 1606.7 1311.0 1608.6 1311.6 1610.6 1312.1 1612.5 1312.5 1614.4 1312.9M1734.0 1318.0 1736.0 1317.5 1737.9 1317.0 1739.9 1316.5 1741.8 1315.9 1743.7 1315.3 1745.7 1314.7 1747.6 1314.1 1749.5 1313.4 1751.5 1312.8 1753.4 1312.2 1755.3 1311.6 1757.2 1311.1M1757.2 1311.1 1759.1 1310.5 1761.1 1309.9 1763.0 1309.3 1764.9 1308.8 1766.8 1308.2 1768.7 1307.6 1770.6 1307.0 1772.5 1306.4 1774.5 1305.8 1776.4 1305.2 1778.3 1304.5 1780.2 1303.9M1869.8 1272.4 1871.7 1272.7 1873.6 1273.0 1875.5 1273.5 1877.4 1274.0 1879.3 1274.5 1881.2 1275.1 1883.1 1275.8 1885.0 1276.4 1886.9 1277.1 1888.8 1277.9 1890.7 1278.6 1892.6 1279.4" fill="none" stroke="#ff0000" stroke-width="5.8" stroke-linejoin="round" stroke-linecap="round"/>
<path d="M645.7 1314.5 647.7 1314.2 649.7 1314.0 651.7 1313.7 653.6 1313.4 655.6 1313.0 657.6 1312.7 659.6 1312.3 661.5 1311.9 663.5 1311.5 665.4 1311.0 667.4 1310.5 669.3 1310.1M1847.0 1276.3 1848.9 1275.6 1850.8 1274.9 1852.7 1274.2 1854.6 1273.6 1856.5 1273.1 1858.4 1272.7 1860.3 1272.4 1862.2 1272.1 1864.1 1272.1 1866.0 1272.1 1867.9 1272.2 1869.8 1272.4M1915.7 1287.7 1917.6 1288.2 1919.5 1288.7 1921.5 1289.2 1923.4 1289.7 1925.4 1290.2 1927.3 1290.7 1929.3 1291.2 1931.2 1291.6 1933.2 1292.1 1935.1 1292.6 1937.1 1293.1 1939.0 1293.5M1939.0 1293.5 1941.0 1294.0 1942.9 1294.4 1944.9 1294.9 1946.9 1295.3 1948.8 1295.7 1950.8 1296.1 1952.8 1296.5 1954.7 1296.9 1956.7 1297.3 1958.7 1297.7 1960.6 1298.0 1962.6 1298.3" fill="none" stroke="#ff0000" stroke-width="5.9" stroke-linejoin="round" stroke-linecap="round"/>
<path d="M286.0 1318.0 288.0 1318.0 290.0 1318.0 292.0 1318.0 294.0 1318.0 296.0 1318.0 298.0 1318.0 300.0 1318.0 302.0 1318.0 304.0 1318.0 306.0 1318.0 308.0 1318.0 310.0 1318.0M310.0 1318.0 312.0 1317.9 314.0 1317.9 316.0 1317.9 318.0 1317.9 320.0 1317.9 322.0 1317.9 324.0 1317.9 326.0 1317.9 328.0 1317.9 330.0 1317.8 332.0 1317.8 334.0 1317.8M334.0 1317.8 336.0 1317.8 338.0 1317.8 340.0 1317.8 342.0 1317.8 344.0 1317.7 346.0 1317.7 348.0 1317.7 350.0 1317.7 352.0 1317.7 354.0 1317.6 356.0 1317.6 358.0 1317.6M358.0 1317.6 360.0 1317.6 362.0 1317.6 364.0 1317.5 366.0 1317.5 368.0 1317.5 370.0 1317.5 372.0 1317.4 374.0 1317.4 376.0 1317.4 378.0 1317.3 380.0 1317.3 382.0 1317.2M382.0 1317.2 384.0 1317.2 386.0 1317.1 388.0 1317.0 390.0 1316.9 392.0 1316.8 394.0 1316.7 396.0 1316.6 398.0 1316.5 400.0 1316.4 402.0 1316.3 404.0 1316.1 406.0 1316.0M406.0 1316.0 408.0 1315.9 410.0 1315.7 412.0 1315.6 414.0 1315.5 416.0 1315.3 417.9 1315.2 419.9 1315.1 421.9 1314.9 423.9 1314.8 425.9 1314.7 427.9 1314.6 429.9 1314.5M429.9 1314.5 431.9 1314.4 433.9 1314.2 435.9 1314.2 437.9 1314.1 439.9 1314.0 441.9 1313.9 443.9 1313.8 445.9 1313.7 447.9 1313.6 449.9 1313.5 451.9 1313.5 453.9 1313.4M453.9 1313.4 455.9 1313.3 457.9 1313.2 459.9 1313.1 461.9 1313.0 463.9 1313.0 465.9 1312.9 467.9 1312.8 469.9 1312.7 471.9 1312.6 473.9 1312.5 475.9 1312.5 477.9 1312.4M477.9 1312.4 479.9 1312.3 481.9 1312.2 483.9 1312.1 485.9 1312.1 487.9 1312.0 489.9 1311.9 491.9 1311.8 493.9 1311.8 495.9 1311.7 497.9 1311.7 499.9 1311.6 501.9 1311.5M501.9 1311.5 503.9 1311.5 505.9 1311.4 507.9 1311.4 509.9 1311.3 511.9 1311.3 513.9 1311.2 515.9 1311.2 517.9 1311.2 519.9 1311.1 521.9 1311.1 523.9 1311.1 525.9 1311.1M525.9 1311.1 527.9 1311.0 529.9 1311.0 531.9 1311.0 533.9 1311.0 535.9 1311.0 537.9 1311.1 539.9 1311.1 541.9 1311.1 543.9 1311.2 545.9 1311.3 547.9 1311.4 549.9 1311.4M549.9 1311.4 551.9 1311.6 553.9 1311.7 555.9 1311.8 557.8 1311.9 559.8 1312.1 561.8 1312.2 563.8 1312.4 565.8 1312.5 567.8 1312.7 569.8 1312.8 571.8 1313.0 573.8 1313.1M573.8 1313.1 575.8 1313.3 577.8 1313.4 579.8 1313.6 581.8 1313.7 583.8 1313.9 585.8 1314.0 587.8 1314.2 589.8 1314.3 591.8 1314.4 593.8 1314.5 595.8 1314.6 597.8 1314.7M597.8 1314.7 599.8 1314.8 601.8 1314.9 603.8 1314.9 605.8 1315.0 607.8 1315.1 609.8 1315.1 611.8 1315.2 613.8 1315.3 615.8 1315.3 617.8 1315.4 619.8 1315.4 621.8 1315.5M621.8 1315.5 623.8 1315.5 625.8 1315.5 627.8 1315.5 629.8 1315.5 631.8 1315.5 633.8 1315.5 635.8 1315.4 637.8 1315.2 639.8 1315.1 641.7 1314.9 643.7 1314.7 645.7 1314.5M893.8 989.9 895.7 989.6 897.6 989.3 899.6 989.2 901.6 989.2 903.6 989.2 905.6 989.3 907.7 989.5 909.7 989.6 911.8 989.8 913.8 990.1 915.8 990.4 917.8 990.7M1024.7 1143.3 1026.5 1144.2 1028.4 1145.0 1030.3 1145.6 1032.2 1146.2 1034.1 1146.5 1036.0 1146.8 1037.9 1146.9 1039.9 1146.9 1041.8 1146.7 1043.8 1146.5 1045.8 1146.2 1047.8 1145.8M1544.1 1302.7 1546.0 1303.1 1548.0 1303.5 1549.9 1303.9 1551.9 1304.2 1553.9 1304.4 1555.8 1304.6 1557.8 1304.8 1559.8 1304.9 1561.7 1304.9 1563.7 1305.0 1565.7 1305.0 1567.7 1305.0M1567.7 1305.0 1569.7 1305.0 1571.7 1305.0 1573.8 1305.0 1575.8 1305.0 1577.8 1305.0 1579.8 1305.0 1581.8 1305.0 1583.8 1305.1 1585.7 1305.1 1587.7 1305.3 1589.6 1305.5 1591.6 1305.8M1614.4 1312.9 1616.4 1313.2 1618.3 1313.5 1620.3 1313.7 1622.3 1313.9 1624.2 1314.1 1626.2 1314.3 1628.2 1314.5 1630.2 1314.7 1632.2 1314.9 1634.2 1315.1 1636.2 1315.2 1638.2 1315.4M1638.2 1315.4 1640.2 1315.5 1642.2 1315.7 1644.2 1315.8 1646.2 1316.0 1648.2 1316.1 1650.2 1316.2 1652.2 1316.3 1654.2 1316.5 1656.2 1316.6 1658.2 1316.7 1660.2 1316.8 1662.3 1316.9M1662.3 1316.9 1664.3 1317.0 1666.3 1317.1 1668.3 1317.2 1670.3 1317.3 1672.3 1317.4 1674.3 1317.5 1676.3 1317.6 1678.3 1317.7 1680.3 1317.8 1682.3 1317.9 1684.3 1318.0 1686.3 1318.2M1686.3 1318.2 1688.3 1318.3 1690.3 1318.4 1692.3 1318.5 1694.3 1318.6 1696.4 1318.7 1698.4 1318.8 1700.4 1318.9 1702.4 1318.9 1704.4 1319.0 1706.4 1319.1 1708.4 1319.2 1710.4 1319.2M1710.4 1319.2 1712.4 1319.3 1714.4 1319.4 1716.3 1319.4 1718.3 1319.4 1720.3 1319.4 1722.3 1319.4 1724.3 1319.3 1726.2 1319.2 1728.2 1319.0 1730.1 1318.7 1732.1 1318.4 1734.0 1318.0M1962.6 1298.3 1964.6 1298.7 1966.6 1298.9 1968.5 1299.2 1970.5 1299.5 1972.5 1299.7 1974.5 1299.9 1976.4 1300.1 1978.4 1300.3 1980.4 1300.5 1982.4 1300.7 1984.4 1300.8 1986.4 1300.9M1986.4 1300.9 1988.4 1301.1 1990.3 1301.2 1992.3 1301.3 1994.3 1301.4 1996.3 1301.5 1998.3 1301.6 2000.3 1301.7 2002.3 1301.8 2004.3 1301.9 2006.3 1302.0 2008.3 1302.1 2010.3 1302.2M2010.3 1302.2 2012.3 1302.2 2014.3 1302.3 2016.3 1302.4 2018.3 1302.5 2020.3 1302.6 2022.3 1302.6 2024.3 1302.7 2026.3 1302.8 2028.3 1302.9 2030.3 1303.0 2032.3 1303.1 2034.4 1303.2M2034.4 1303.2 2036.4 1303.3 2038.3 1303.4 2040.3 1303.5 2042.3 1303.6 2044.3 1303.7 2046.3 1303.8 2048.3 1304.0 2050.3 1304.1 2052.3 1304.2 2054.3 1304.3 2056.3 1304.5 2058.3 1304.6M2058.3 1304.6 2060.3 1304.7 2062.3 1304.9 2064.3 1305.0 2066.3 1305.1 2068.3 1305.3 2070.3 1305.4 2072.3 1305.6 2074.3 1305.7 2076.3 1305.8 2078.3 1306.0 2080.3 1306.1 2082.3 1306.3M2082.3 1306.3 2084.3 1306.5 2086.3 1306.6 2088.2 1306.8 2090.2 1306.9 2092.2 1307.1 2094.2 1307.3 2096.2 1307.4 2098.2 1307.6 2100.2 1307.8 2102.2 1308.0 2104.2 1308.1 2106.2 1308.3M2106.2 1308.3 2108.2 1308.5 2110.2 1308.7 2112.1 1308.9 2114.1 1309.1 2116.1 1309.3 2118.1 1309.6 2120.1 1309.8 2122.1 1310.0 2124.1 1310.3 2126.1 1310.5 2128.0 1310.8 2130.0 1311.0M2130.0 1311.0 2132.0 1311.3 2134.0 1311.5" fill="none" stroke="#ff0000" stroke-width="6.0" stroke-linejoin="round" stroke-linecap="round"/>
<path d="M1161.6 2483.6 1161.9 2481.7 1162.2 2479.7 1162.5 2477.7 1162.8 2475.7 1163.0 2473.7 1163.3 2471.8 1163.6 2469.8 1163.8 2467.8 1164.1 2465.8 1164.3 2463.8 1164.5 2461.8 1164.8 2459.9M1164.8 2459.9 1165.0 2457.9 1165.2 2455.9 1165.4 2453.9 1165.6 2451.9 1165.8 2449.9 1166.0 2447.9 1166.2 2445.9 1166.4 2443.9 1166.6 2442.0 1166.8 2440.0 1167.0 2438.0 1167.2 2436.0M1167.2 2436.0 1167.4 2434.0 1167.5 2432.0 1167.7 2430.0 1167.9 2428.0 1168.1 2426.0 1168.3 2424.0 1168.5 2422.0 1168.7 2420.0 1168.9 2418.1 1169.0 2416.1 1169.2 2414.1 1169.4 2412.1M1169.4 2412.1 1169.6 2410.1 1169.9 2408.1 1170.1 2406.1 1170.3 2404.1 1170.5 2402.1 1170.7 2400.1 1171.0 2398.2 1171.2 2396.2 1171.4 2394.2 1171.7 2392.2 1171.9 2390.2 1172.2 2388.2M1172.2 2388.2 1172.4 2386.3 1172.7 2384.3 1172.9 2382.3 1173.2 2380.3 1173.5 2378.3 1173.7 2376.3 1174.0 2374.3 1174.2 2372.4 1174.5 2370.4 1174.8 2368.4 1175.0 2366.4 1175.3 2364.4M1175.3 2364.4 1175.5 2362.4 1175.8 2360.5 1176.0 2358.5 1176.3 2356.5 1176.5 2354.5 1176.7 2352.5 1176.9 2350.5 1177.2 2348.5 1177.4 2346.6 1177.6 2344.6 1177.8 2342.6 1178.0 2340.6M1178.0 2340.6 1178.2 2338.6 1178.4 2336.6 1178.6 2334.6 1178.8 2332.6 1179.0 2330.6 1179.2 2328.6 1179.4 2326.7 1179.6 2324.7 1179.8 2322.7 1180.0 2320.7 1180.2 2318.7 1180.4 2316.7M1180.4 2316.7 1180.6 2314.7 1180.7 2312.7 1180.9 2310.7 1181.1 2308.7 1181.3 2306.7 1181.5 2304.8 1181.7 2302.8 1181.9 2300.8 1182.1 2298.8 1182.3 2296.8 1182.5 2294.8 1182.7 2292.8M1182.7 2292.8 1182.9 2290.8 1183.1 2288.8 1183.3 2286.8 1183.5 2284.9 1183.7 2282.9 1183.9 2280.9 1184.1 2278.9 1184.3 2276.9 1184.5 2274.9 1184.7 2272.9 1184.9 2270.9 1185.1 2268.9M1185.1 2268.9 1185.3 2266.9 1185.5 2264.9 1185.7 2263.0 1185.9 2261.0 1186.1 2259.0 1186.3 2257.0 1186.5 2255.0 1186.6 2253.0 1186.8 2251.0 1187.0 2249.0 1187.2 2247.0 1187.4 2245.0M1187.4 2245.0 1187.6 2243.0 1187.8 2241.1 1187.9 2239.1 1188.1 2237.1 1188.3 2235.1 1188.5 2233.1 1188.7 2231.1 1188.9 2229.1 1189.0 2227.1 1189.2 2225.1 1189.4 2223.1 1189.6 2221.1M1189.6 2221.1 1189.8 2219.1 1189.9 2217.1 1190.1 2215.2 1190.3 2213.2 1190.5 2211.2 1190.6 2209.2 1190.8 2207.2 1191.0 2205.2 1191.2 2203.2 1191.3 2201.2 1191.5 2199.2 1191.6 2197.2M1191.6 2197.2 1191.8 2195.2 1192.0 2193.2 1192.1 2191.2 1192.3 2189.2 1192.4 2187.3 1192.6 2185.3 1192.7 2183.3 1192.9 2181.3 1193.0 2179.3 1193.2 2177.3 1193.3 2175.3 1193.4 2173.3M1193.4 2173.3 1193.6 2171.3 1193.7 2169.3 1193.8 2167.3 1194.0 2165.3 1194.1 2163.3 1194.2 2161.3 1194.3 2159.3 1194.5 2157.3 1194.6 2155.3 1194.7 2153.3 1194.8 2151.3 1194.9 2149.3M1194.9 2149.3 1195.1 2147.3 1195.2 2145.3 1195.3 2143.3 1195.4 2141.3 1195.5 2139.3 1195.6 2137.4 1195.8 2135.4 1195.9 2133.4 1196.0 2131.4 1196.1 2129.4 1196.3 2127.4 1196.4 2125.4M1196.4 2125.4 1196.5 2123.4 1196.6 2121.4 1196.8 2119.4 1196.9 2117.4 1197.1 2115.4 1197.2 2113.4 1197.3 2111.4 1197.5 2109.4 1197.6 2107.4 1197.8 2105.4 1197.9 2103.4 1198.1 2101.4M1198.1 2101.4 1198.3 2099.4 1198.4 2097.4 1198.6 2095.5 1198.7 2093.5 1198.9 2091.5 1199.1 2089.5 1199.2 2087.5 1199.4 2085.5 1199.5 2083.5 1199.7 2081.5 1199.9 2079.5 1200.0 2077.5M1200.0 2077.5 1200.2 2075.5 1200.3 2073.5 1200.5 2071.5 1200.6 2069.5 1200.8 2067.5 1200.9 2065.5 1201.0 2063.5 1201.2 2061.5 1201.3 2059.6 1201.4 2057.6 1201.6 2055.6 1201.7 2053.6M1201.7 2053.6 1201.8 2051.6 1202.0 2049.6 1202.1 2047.6 1202.2 2045.6 1202.3 2043.6 1202.4 2041.6 1202.6 2039.6 1202.7 2037.6 1202.8 2035.6 1202.9 2033.6 1203.1 2031.6 1203.2 2029.6M1203.2 2029.6 1203.3 2027.6 1203.4 2025.6 1203.5 2023.6 1203.6 2021.6 1203.7 2019.6 1203.9 2017.6 1204.0 2015.6 1204.1 2013.6 1204.2 2011.6 1204.2 2009.6 1204.3 2007.6 1204.4 2005.6M1204.4 2005.6 1204.5 2003.6 1204.6 2001.6 1204.6 1999.6 1204.7 1997.6 1204.8 1995.6 1204.8 1993.6 1204.9 1991.6 1204.9 1989.6 1204.9 1987.6 1205.0 1985.6 1205.0 1983.6 1205.0 1981.6M1205.0 1981.6 1205.0 1979.6 1205.1 1977.6 1205.1 1975.6 1205.1 1973.6 1205.1 1971.6 1205.1 1969.6 1205.1 1967.6 1205.2 1965.6 1205.2 1963.6 1205.2 1961.6 1205.2 1959.6 1205.2 1957.6M1205.2 1957.6 1205.2 1955.6 1205.3 1953.6 1205.3 1951.6 1205.3 1949.6 1205.3 1947.6 1205.4 1945.6 1205.4 1943.6 1205.4 1941.6 1205.5 1939.6 1205.5 1937.6 1205.6 1935.6 1205.7 1933.7M1205.7 1933.7 1205.8 1931.7 1205.9 1929.7 1206.1 1927.7 1206.2 1925.7 1206.4 1923.7 1206.6 1921.7 1206.8 1919.7 1207.1 1917.7 1207.3 1915.7 1207.6 1913.8 1207.8 1911.8 1208.1 1909.8M1208.1 1909.8 1208.3 1907.8 1208.6 1905.8 1208.9 1903.8 1209.1 1901.8 1209.3 1899.8 1209.6 1897.9 1209.8 1895.9 1210.0 1893.9 1210.3 1891.9 1210.5 1889.9 1210.7 1887.9 1211.0 1885.9M1211.0 1885.9 1211.2 1883.9 1211.4 1882.0 1211.7 1880.0 1211.9 1878.0 1212.1 1876.0 1212.4 1874.0 1212.6 1872.0 1212.9 1870.0 1213.1 1868.1 1213.3 1866.1 1213.6 1864.1 1213.8 1862.1M1213.8 1862.1 1214.0 1860.1 1214.3 1858.1 1214.5 1856.1 1214.7 1854.1 1215.0 1852.2 1215.2 1850.2 1215.4 1848.2 1215.7 1846.2 1215.9 1844.2 1216.1 1842.2 1216.4 1840.2 1216.6 1838.3M1216.6 1838.3 1216.8 1836.3 1217.1 1834.3 1217.3 1832.3 1217.5 1830.3 1217.8 1828.3 1218.0 1826.3 1218.3 1824.4 1218.5 1822.4 1218.8 1820.4 1219.1 1818.4 1219.3 1816.4 1219.6 1814.4M1219.6 1814.4 1219.9 1812.4 1220.1 1810.5 1220.4 1808.5 1220.7 1806.5 1220.9 1804.5 1221.2 1802.5 1221.5 1800.5 1221.8 1798.5 1222.1 1796.5 1222.4 1794.6 1222.7 1792.6 1223.1 1790.6M1244.5 1790.2 1244.7 1792.2 1244.9 1794.2 1245.0 1796.3 1245.2 1798.3 1245.4 1800.4 1245.6 1802.4 1245.8 1804.4 1246.0 1806.4 1246.2 1808.5 1246.5 1810.5 1246.7 1812.5 1246.9 1814.4M1246.9 1814.4 1247.2 1816.4 1247.4 1818.4 1247.7 1820.4 1247.9 1822.4 1248.2 1824.4 1248.4 1826.4 1248.6 1828.3 1248.9 1830.3 1249.1 1832.3 1249.4 1834.3 1249.6 1836.3 1249.8 1838.3M1249.8 1838.3 1250.1 1840.3 1250.3 1842.2 1250.5 1844.2 1250.8 1846.2 1251.0 1848.2 1251.2 1850.2 1251.4 1852.2 1251.6 1854.2 1251.8 1856.2 1252.1 1858.2 1252.3 1860.1 1252.5 1862.1M1252.5 1862.1 1252.7 1864.1 1252.9 1866.1 1253.1 1868.1 1253.3 1870.1 1253.5 1872.1 1253.7 1874.1 1253.9 1876.1 1254.1 1878.1 1254.3 1880.0 1254.5 1882.0 1254.6 1884.0 1254.8 1886.0M1254.8 1886.0 1255.0 1888.0 1255.2 1890.0 1255.4 1892.0 1255.5 1894.0 1255.7 1896.0 1255.9 1898.0 1256.1 1900.0 1256.2 1902.0 1256.4 1903.9 1256.6 1905.9 1256.7 1907.9 1256.9 1909.9M1256.9 1909.9 1257.0 1911.9 1257.2 1913.9 1257.4 1915.9 1257.5 1917.9 1257.7 1919.9 1257.8 1921.9 1257.9 1923.9 1258.1 1925.9 1258.2 1927.9 1258.4 1929.9 1258.5 1931.9 1258.6 1933.9M1258.6 1933.9 1258.8 1935.9 1258.9 1937.9 1259.0 1939.9 1259.2 1941.9 1259.3 1943.8 1259.4 1945.8 1259.5 1947.8 1259.7 1949.8 1259.8 1951.8 1259.9 1953.8 1260.0 1955.8 1260.1 1957.8M1260.1 1957.8 1260.2 1959.8 1260.3 1961.8 1260.4 1963.8 1260.5 1965.8 1260.6 1967.8 1260.7 1969.8 1260.8 1971.8 1260.9 1973.8 1261.0 1975.8 1261.1 1977.8 1261.2 1979.8 1261.3 1981.8M1261.3 1981.8 1261.4 1983.8 1261.4 1985.8 1261.5 1987.8 1261.6 1989.8 1261.7 1991.8 1261.7 1993.8 1261.8 1995.8 1261.9 1997.8 1261.9 1999.8 1262.0 2001.8 1262.1 2003.8 1262.1 2005.8M1262.1 2005.8 1262.2 2007.8 1262.3 2009.8 1262.3 2011.8 1262.4 2013.8 1262.4 2015.8 1262.5 2017.8 1262.6 2019.8 1262.6 2021.8 1262.7 2023.8 1262.8 2025.8 1262.8 2027.8 1262.9 2029.8M1262.9 2029.8 1262.9 2031.8 1263.0 2033.8 1263.1 2035.8 1263.2 2037.8 1263.2 2039.8 1263.3 2041.8 1263.4 2043.8 1263.5 2045.8 1263.5 2047.8 1263.6 2049.8 1263.7 2051.8 1263.8 2053.8M1263.8 2053.8 1263.9 2055.8 1264.0 2057.8 1264.1 2059.8 1264.2 2061.7 1264.3 2063.7 1264.4 2065.7 1264.6 2067.7 1264.7 2069.7 1264.8 2071.7 1264.9 2073.7 1265.1 2075.7 1265.2 2077.7M1265.2 2077.7 1265.3 2079.7 1265.5 2081.7 1265.6 2083.7 1265.7 2085.7 1265.9 2087.7 1266.0 2089.7 1266.1 2091.7 1266.3 2093.7 1266.4 2095.7 1266.5 2097.7 1266.7 2099.7 1266.8 2101.7M1266.8 2101.7 1266.9 2103.7 1267.1 2105.7 1267.2 2107.7 1267.3 2109.7 1267.4 2111.7 1267.6 2113.6 1267.7 2115.6 1267.8 2117.6 1267.9 2119.6 1268.0 2121.6 1268.1 2123.6 1268.2 2125.6M1268.2 2125.6 1268.3 2127.6 1268.4 2129.6 1268.5 2131.6 1268.6 2133.6 1268.7 2135.6 1268.8 2137.6 1268.9 2139.6 1269.0 2141.6 1269.1 2143.6 1269.2 2145.6 1269.3 2147.6 1269.4 2149.6M1269.4 2149.6 1269.5 2151.6 1269.6 2153.6 1269.7 2155.6 1269.8 2157.6 1269.9 2159.6 1269.9 2161.6 1270.0 2163.6 1270.1 2165.6 1270.3 2167.6 1270.4 2169.6 1270.5 2171.6 1270.6 2173.6M1270.6 2173.6 1270.7 2175.6 1270.8 2177.6 1270.9 2179.6 1271.0 2181.6 1271.2 2183.6 1271.3 2185.6 1271.4 2187.6 1271.5 2189.5 1271.7 2191.5 1271.8 2193.5 1271.9 2195.5 1272.1 2197.5M1272.1 2197.5 1272.2 2199.5 1272.4 2201.5 1272.5 2203.5 1272.7 2205.5 1272.8 2207.5 1272.9 2209.5 1273.1 2211.5 1273.3 2213.5 1273.4 2215.5 1273.6 2217.5 1273.7 2219.5 1273.9 2221.5M1273.9 2221.5 1274.0 2223.5 1274.2 2225.5 1274.4 2227.4 1274.5 2229.4 1274.7 2231.4 1274.8 2233.4 1275.0 2235.4 1275.2 2237.4 1275.3 2239.4 1275.5 2241.4 1275.7 2243.4 1275.8 2245.4M1275.8 2245.4 1276.0 2247.4 1276.2 2249.4 1276.4 2251.4 1276.5 2253.4 1276.7 2255.3 1276.9 2257.3 1277.1 2259.3 1277.3 2261.3 1277.5 2263.3 1277.6 2265.3 1277.8 2267.3 1278.0 2269.3M1278.0 2269.3 1278.2 2271.3 1278.4 2273.3 1278.6 2275.3 1278.8 2277.3 1279.0 2279.2 1279.2 2281.2 1279.4 2283.2 1279.6 2285.2 1279.8 2287.2 1279.9 2289.2 1280.1 2291.2 1280.3 2293.2M1280.3 2293.2 1280.5 2295.2 1280.7 2297.2 1280.9 2299.2 1281.1 2301.2 1281.2 2303.1 1281.4 2305.1 1281.6 2307.1 1281.8 2309.1 1281.9 2311.1 1282.1 2313.1 1282.3 2315.1 1282.5 2317.1M1282.5 2317.1 1282.7 2319.1 1282.8 2321.1 1283.0 2323.1 1283.2 2325.1 1283.4 2327.1 1283.5 2329.0 1283.7 2331.0 1283.9 2333.0 1284.0 2335.0 1284.2 2337.0 1284.3 2339.0 1284.5 2341.0M1284.5 2341.0 1284.6 2343.0 1284.8 2345.0 1284.9 2347.0 1285.1 2349.0 1285.2 2351.0 1285.3 2353.0 1285.4 2355.0 1285.5 2357.0 1285.7 2359.0 1285.8 2361.0 1285.9 2363.0 1286.0 2365.0M1286.0 2365.0 1286.1 2367.0 1286.2 2369.0 1286.3 2371.0 1286.3 2373.0 1286.4 2375.0 1286.5 2376.9 1286.6 2378.9 1286.7 2380.9 1286.8 2382.9 1286.9 2384.9 1287.0 2386.9 1287.1 2388.9M1287.1 2388.9 1287.2 2390.9 1287.3 2392.9 1287.4 2394.9 1287.5 2396.9 1287.6 2398.9 1287.7 2400.9 1287.9 2402.9 1288.0 2404.9 1288.1 2406.9 1288.3 2408.9 1288.4 2410.9 1288.5 2412.9M1288.5 2412.9 1288.7 2414.9 1288.8 2416.9 1289.0 2418.9 1289.1 2420.9 1289.3 2422.9 1289.4 2424.9 1289.6 2426.9 1289.7 2428.9 1289.9 2430.8 1290.1 2432.8 1290.2 2434.8 1290.4 2436.8M1290.4 2436.8 1290.5 2438.8 1290.7 2440.8 1290.9 2442.8 1291.1 2444.8 1291.2 2446.8 1291.4 2448.8 1291.6 2450.8 1291.8 2452.8 1291.9 2454.8 1292.1 2456.8 1292.3 2458.7 1292.5 2460.7M1292.5 2460.7 1292.6 2462.7 1292.8 2464.7 1293.0 2466.7 1293.2 2468.7 1293.4 2470.7 1293.6 2472.7 1293.8 2474.7 1294.0 2476.7 1294.2 2478.7 1294.4 2480.7 1294.6 2482.6 1294.8 2484.6M1294.8 2484.6 1295.0 2486.6 1295.2 2488.6 1295.4 2490.6 1295.6 2492.6 1295.8 2494.6 1296.0 2496.6 1296.2 2498.6 1296.4 2500.5 1296.6 2502.5 1296.8 2504.5 1297.0 2506.5 1297.2 2508.5M1297.2 2508.5 1297.4 2510.5 1297.6 2512.5 1297.8 2514.5 1298.0 2516.5 1298.1 2518.5 1298.3 2520.5 1298.5 2522.5 1298.6 2524.4 1298.8 2526.4 1299.0 2528.4 1299.1 2530.4 1299.3 2532.4M1299.3 2532.4 1299.4 2534.4 1299.6 2536.4 1299.7 2538.4 1299.9 2540.4 1300.0 2542.4 1300.1 2544.4 1300.3 2546.4 1300.4 2548.4 1300.6 2550.4 1300.7 2552.4 1300.9 2554.4 1301.0 2556.4M1301.0 2556.4 1301.2 2558.4 1301.3 2560.4 1301.5 2562.4 1301.7 2564.3 1301.8 2566.3 1302.0 2568.3 1302.2 2570.3 1302.3 2572.3 1302.5 2574.3 1302.7 2576.3 1302.9 2578.3 1303.1 2580.3M1303.1 2580.3 1303.3 2582.3 1303.5 2584.2 1303.7 2586.2 1304.0 2588.2 1304.2 2590.2 1304.4 2592.2 1304.7 2594.2 1304.9 2596.2 1305.2 2598.1 1305.5 2600.1 1305.7 2602.1 1306.0 2604.1" fill="none" stroke="#0000ff" stroke-width="3.7" stroke-linejoin="round" stroke-linecap="round"/>
<path d="M791.4 2712.7 791.9 2710.7 792.4 2708.8 792.9 2706.8 793.4 2704.9 793.9 2703.0 794.4 2701.0 794.9 2699.1 795.4 2697.2 795.9 2695.2 796.4 2693.3 796.9 2691.3 797.4 2689.4M797.4 2689.4 797.9 2687.5 798.4 2685.5 798.8 2683.6 799.3 2681.7 799.8 2679.7 800.3 2677.8 800.8 2675.8 801.3 2673.9 801.8 2672.0 802.3 2670.0 802.8 2668.1 803.3 2666.2M803.3 2666.2 803.8 2664.2 804.3 2662.3 804.8 2660.3 805.3 2658.4 805.8 2656.5 806.3 2654.5 806.8 2652.6 807.3 2650.6 807.8 2648.7 808.2 2646.8 808.7 2644.8 809.2 2642.9M809.2 2642.9 809.7 2640.9 810.2 2639.0 810.7 2637.0 811.1 2635.1 811.6 2633.2 812.1 2631.2 812.6 2629.3 813.1 2627.3 813.6 2625.4 814.1 2623.5 814.6 2621.5 815.1 2619.6M1136.2 2625.4 1136.7 2623.4 1137.2 2621.5 1137.6 2619.6 1138.1 2617.6 1138.6 2615.7 1139.1 2613.7 1139.5 2611.8 1140.0 2609.8 1140.5 2607.9 1140.9 2605.9 1141.4 2604.0 1141.8 2602.0M1141.8 2602.0 1142.2 2600.0 1142.7 2598.1 1143.1 2596.1 1143.5 2594.2 1143.9 2592.2 1144.3 2590.3 1144.7 2588.3 1145.1 2586.3 1145.5 2584.4 1145.9 2582.4 1146.3 2580.4 1146.6 2578.5M1146.6 2578.5 1147.0 2576.5 1147.4 2574.6 1147.7 2572.6 1148.1 2570.6 1148.4 2568.7 1148.8 2566.7 1149.1 2564.7 1149.4 2562.7 1149.8 2560.8 1150.1 2558.8 1150.4 2556.8 1150.7 2554.8M1150.7 2554.8 1151.0 2552.9 1151.3 2550.9 1151.6 2548.9 1151.9 2546.9 1152.2 2545.0 1152.5 2543.0 1152.8 2541.0 1153.1 2539.0 1153.4 2537.0 1153.7 2535.1 1154.0 2533.1 1154.3 2531.1M1154.3 2531.1 1154.6 2529.1 1154.9 2527.1 1155.2 2525.2 1155.5 2523.2 1155.8 2521.2 1156.1 2519.2 1156.4 2517.3 1156.7 2515.3 1157.0 2513.3 1157.3 2511.3 1157.7 2509.3 1158.0 2507.4M1158.0 2507.4 1158.3 2505.4 1158.6 2503.4 1158.9 2501.4 1159.2 2499.5 1159.5 2497.5 1159.8 2495.5 1160.1 2493.5 1160.4 2491.6 1160.8 2489.6 1161.1 2487.6 1161.4 2485.6 1161.6 2483.6M1223.1 1790.6 1223.4 1788.6 1223.8 1786.7 1224.1 1784.7 1224.5 1782.7 1224.9 1780.7 1225.4 1778.7 1225.8 1776.6 1226.3 1774.4 1226.8 1772.2 1227.4 1769.9 1228.0 1767.6 1228.6 1765.5M1239.9 1766.7 1240.7 1768.6 1241.4 1770.5 1241.9 1772.5 1242.4 1774.4 1242.7 1776.3 1243.1 1778.2 1243.4 1780.2 1243.6 1782.1 1243.9 1784.1 1244.1 1786.1 1244.3 1788.1 1244.5 1790.2M1306.0 2604.1 1306.3 2606.1 1306.5 2608.1 1306.8 2610.0 1307.1 2612.0 1307.4 2614.0 1307.7 2616.0 1308.0 2618.0 1308.3 2619.9 1308.6 2621.9 1308.9 2623.9 1309.2 2625.9 1309.5 2627.8M1309.5 2627.8 1309.9 2629.8 1310.2 2631.8 1310.5 2633.8 1310.8 2635.7 1311.1 2637.7 1311.5 2639.7 1311.8 2641.7 1312.1 2643.6 1312.4 2645.6 1312.8 2647.6 1313.1 2649.6 1313.5 2651.5M1313.5 2651.5 1313.8 2653.5 1314.1 2655.5 1314.5 2657.4 1314.9 2659.4 1315.2 2661.4 1315.6 2663.3 1316.0 2665.3 1316.3 2667.3 1316.7 2669.2 1317.1 2671.2 1317.5 2673.2 1317.9 2675.1M1317.9 2675.1 1318.3 2677.1 1318.6 2679.0 1319.0 2681.0 1319.5 2683.0 1319.9 2684.9 1320.3 2686.9 1320.7 2688.8 1321.1 2690.8 1321.5 2692.8 1321.9 2694.7 1322.4 2696.7 1322.8 2698.6M1322.8 2698.6 1323.2 2700.6 1323.6 2702.5 1324.1 2704.5 1324.5 2706.4 1325.0 2708.4 1325.4 2710.3 1325.9 2712.3 1326.3 2714.2 1326.8 2716.2 1327.2 2718.1 1327.7 2720.1 1328.2 2722.0M1328.2 2722.0 1328.7 2724.0 1329.1 2725.9 1329.6 2727.8 1330.1 2729.8 1330.6 2731.7 1331.1 2733.7 1331.6 2735.6 1332.1 2737.5 1332.6 2739.5 1333.2 2741.4 1333.7 2743.3 1334.2 2745.3" fill="none" stroke="#0000ff" stroke-width="3.8" stroke-linejoin="round" stroke-linecap="round"/>
<path d="M757.6 2828.0 758.3 2826.1 758.9 2824.2 759.6 2822.3 760.3 2820.4 760.9 2818.5 761.6 2816.6 762.2 2814.7 762.8 2812.8 763.5 2810.8 764.1 2808.9 764.7 2807.0 765.3 2805.1M765.3 2805.1 765.9 2803.2 766.6 2801.3 767.2 2799.3 767.8 2797.4 768.4 2795.5 769.0 2793.6 769.6 2791.7 770.2 2789.8 770.8 2787.9 771.3 2786.0 771.9 2784.1 772.5 2782.2M772.5 2782.2 773.0 2780.2 773.6 2778.3 774.2 2776.4 774.7 2774.5 775.3 2772.6 775.8 2770.6 776.4 2768.7 776.9 2766.8 777.4 2764.8 778.0 2762.9 778.5 2761.0 779.0 2759.1M779.0 2759.1 779.5 2757.1 780.1 2755.2 780.6 2753.3 781.1 2751.3 781.6 2749.4 782.1 2747.5 782.7 2745.5 783.2 2743.6 783.7 2741.7 784.2 2739.7 784.7 2737.8 785.2 2735.9M785.2 2735.9 785.8 2733.9 786.3 2732.0 786.8 2730.1 787.3 2728.1 787.8 2726.2 788.3 2724.3 788.8 2722.3 789.4 2720.4 789.9 2718.5 790.4 2716.5 790.9 2714.6 791.4 2712.7M815.1 2619.6 815.6 2617.7 816.2 2615.7 816.7 2613.8 817.2 2611.9 817.8 2610.0 818.3 2608.0 818.9 2606.1 819.5 2604.2 820.0 2602.3 820.6 2600.3 821.2 2598.4 821.7 2596.5M821.7 2596.5 822.3 2594.5 822.9 2592.6 823.4 2590.6 824.0 2588.7 824.6 2586.7 825.2 2584.8 825.8 2582.8 826.5 2580.9 827.1 2578.9 827.7 2577.0 828.4 2575.1 829.1 2573.3M940.5 2603.0 941.1 2604.9 941.7 2606.8 942.3 2608.7 942.9 2610.6 943.5 2612.5 944.1 2614.4 944.6 2616.3 945.2 2618.3 945.7 2620.2 946.3 2622.1 946.8 2624.0 947.3 2626.0M947.3 2626.0 947.9 2627.9 948.4 2629.8 948.9 2631.8 949.4 2633.7 949.9 2635.7 950.5 2637.6 951.0 2639.5 951.5 2641.5 952.0 2643.4 952.6 2645.3 953.1 2647.3 953.6 2649.2M953.6 2649.2 954.2 2651.1 954.7 2653.0 955.3 2655.0 955.8 2656.9 956.4 2658.8 956.9 2660.7 957.5 2662.7 958.0 2664.6 958.6 2666.5 959.1 2668.4 959.7 2670.4 960.2 2672.3M960.2 2672.3 960.8 2674.2 961.3 2676.1 961.9 2678.1 962.4 2680.0 963.0 2681.9 963.5 2683.8 964.1 2685.8 964.7 2687.7 965.3 2689.6 965.9 2691.5 966.4 2693.4 967.0 2695.3M967.0 2695.3 967.6 2697.2 968.3 2699.1 968.9 2701.0 969.5 2702.9 970.2 2704.8 970.8 2706.7 971.5 2708.6 972.1 2710.5 972.8 2712.4 973.4 2714.3 974.1 2716.2 974.8 2718.1M1122.0 2671.2 1122.7 2669.3 1123.4 2667.4 1124.0 2665.5 1124.7 2663.6 1125.4 2661.7 1126.0 2659.8 1126.7 2657.9 1127.3 2656.1 1127.9 2654.2 1128.5 2652.2 1129.1 2650.3 1129.7 2648.4M1129.7 2648.4 1130.3 2646.5 1130.8 2644.6 1131.4 2642.7 1132.0 2640.8 1132.5 2638.9 1133.0 2637.0 1133.6 2635.0 1134.1 2633.1 1134.6 2631.2 1135.1 2629.2 1135.7 2627.3 1136.2 2625.4M1334.2 2745.3 1334.8 2747.2 1335.3 2749.1 1335.8 2751.0 1336.4 2752.9 1336.9 2754.9 1337.5 2756.8 1338.1 2758.7 1338.6 2760.6 1339.2 2762.5 1339.8 2764.5 1340.4 2766.4 1341.0 2768.3M1341.0 2768.3 1341.6 2770.2 1342.2 2772.1 1342.8 2774.0 1343.4 2775.9 1344.1 2777.8 1344.7 2779.7 1345.4 2781.6 1346.0 2783.5 1346.7 2785.4 1347.4 2787.3 1348.1 2789.2 1348.8 2791.0" fill="none" stroke="#0000ff" stroke-width="3.9" stroke-linejoin="round" stroke-linecap="round"/>
<path d="M748.3 2850.0 749.2 2848.2 750.0 2846.4 750.9 2844.6 751.7 2842.8 752.4 2841.0 753.2 2839.1 754.0 2837.3 754.7 2835.5 755.4 2833.6 756.2 2831.7 756.9 2829.9 757.6 2828.0M932.2 2580.1 932.9 2582.0 933.7 2583.9 934.4 2585.8 935.1 2587.7 935.8 2589.7 936.5 2591.6 937.2 2593.5 937.8 2595.4 938.5 2597.3 939.2 2599.2 939.8 2601.1 940.5 2603.0M974.8 2718.1 975.5 2720.0 976.2 2721.9 976.9 2723.8 977.6 2725.6 978.4 2727.5 979.1 2729.4 979.9 2731.2 980.7 2733.0 981.5 2734.9 982.3 2736.7 983.2 2738.5 984.1 2740.2M1113.2 2693.6 1114.0 2691.7 1114.8 2689.9 1115.5 2688.0 1116.2 2686.1 1117.0 2684.3 1117.7 2682.4 1118.4 2680.5 1119.2 2678.7 1119.9 2676.8 1120.6 2674.9 1121.3 2673.1 1122.0 2671.2M1348.8 2791.0 1349.5 2792.9 1350.2 2794.7 1350.9 2796.6 1351.7 2798.4 1352.4 2800.3 1353.2 2802.1 1354.0 2804.0 1354.8 2805.8 1355.6 2807.6 1356.4 2809.5 1357.2 2811.3 1358.1 2813.1" fill="none" stroke="#0000ff" stroke-width="4.0" stroke-linejoin="round" stroke-linecap="round"/>
<path d="M1093.2 2737.6 1094.0 2735.7 1094.9 2733.9 1095.7 2732.0 1096.6 2730.1 1097.5 2728.3 1098.3 2726.4 1099.2 2724.6 1100.1 2722.7 1100.9 2720.9 1101.8 2719.1 1102.7 2717.3 1103.5 2715.5M1103.5 2715.5 1104.4 2713.7 1105.3 2711.9 1106.1 2710.1 1106.9 2708.3 1107.8 2706.4 1108.6 2704.6 1109.4 2702.8 1110.2 2700.9 1110.9 2699.1 1111.7 2697.3 1112.5 2695.4 1113.2 2693.6" fill="none" stroke="#0000ff" stroke-width="4.1" stroke-linejoin="round" stroke-linecap="round"/>
<path d="M829.1 2573.3 829.8 2571.4 830.5 2569.6 831.3 2567.7 832.1 2566.0 832.9 2564.2 833.8 2562.4 834.7 2560.7 835.6 2559.0 836.6 2557.3 837.7 2555.6 838.8 2554.0 840.0 2552.3M921.2 2559.1 922.3 2560.7 923.4 2562.3 924.4 2563.9 925.4 2565.6 926.3 2567.3 927.2 2569.1 928.1 2570.9 929.0 2572.7 929.8 2574.5 930.6 2576.3 931.4 2578.2 932.2 2580.1M1358.1 2813.1 1359.0 2814.9 1359.8 2816.7 1360.7 2818.5 1361.6 2820.3 1362.5 2822.1 1363.5 2823.9 1364.4 2825.7 1365.4 2827.4 1366.3 2829.2 1367.3 2830.9 1368.3 2832.7 1369.3 2834.4" fill="none" stroke="#0000ff" stroke-width="4.2" stroke-linejoin="round" stroke-linecap="round"/>
<path d="M736.2 2870.7 737.3 2869.0 738.4 2867.4 739.5 2865.7 740.6 2863.9 741.6 2862.2 742.7 2860.5 743.7 2858.7 744.7 2857.0 745.6 2855.2 746.5 2853.5 747.5 2851.7 748.3 2850.0M984.1 2740.2 985.0 2742.0 985.9 2743.8 986.8 2745.6 987.8 2747.4 988.8 2749.2 989.8 2751.0 990.9 2752.8 992.0 2754.7 993.1 2756.5 994.2 2758.2 995.4 2759.9 996.6 2761.6" fill="none" stroke="#0000ff" stroke-width="4.3" stroke-linejoin="round" stroke-linecap="round"/>
<path d="M1080.7 2757.5 1081.9 2756.1 1083.2 2754.6 1084.3 2753.1 1085.4 2751.6 1086.5 2750.0 1087.5 2748.3 1088.5 2746.6 1089.5 2744.9 1090.5 2743.1 1091.4 2741.3 1092.3 2739.5 1093.2 2737.6M1369.3 2834.4 1370.3 2836.1 1371.3 2837.8 1372.4 2839.5 1373.4 2841.2 1374.5 2842.9 1375.6 2844.6 1376.7 2846.3 1377.8 2847.9 1379.0 2849.6 1380.1 2851.2 1381.3 2852.9 1382.5 2854.5" fill="none" stroke="#0000ff" stroke-width="4.4" stroke-linejoin="round" stroke-linecap="round"/>
<path d="M721.3 2889.5 722.7 2888.0 724.0 2886.5 725.2 2885.0 726.5 2883.5 727.8 2882.0 729.0 2880.4 730.2 2878.9 731.5 2877.3 732.7 2875.7 733.8 2874.0 735.0 2872.4 736.2 2870.7" fill="none" stroke="#0000ff" stroke-width="4.6" stroke-linejoin="round" stroke-linecap="round"/>
<path d="M1382.5 2854.5 1383.7 2856.1 1384.9 2857.7 1386.2 2859.3 1387.4 2860.8 1388.7 2862.4 1390.0 2863.9 1391.3 2865.4 1392.6 2866.9 1394.0 2868.3 1395.4 2869.8 1396.7 2871.2 1398.1 2872.6" fill="none" stroke="#0000ff" stroke-width="4.7" stroke-linejoin="round" stroke-linecap="round"/>
<path d="M703.9 2906.5 705.4 2905.2 707.0 2903.9 708.5 2902.6 710.0 2901.2 711.5 2899.8 712.9 2898.4 714.4 2896.9 715.8 2895.5 717.2 2894.0 718.6 2892.5 720.0 2891.0 721.3 2889.5" fill="none" stroke="#0000ff" stroke-width="4.9" stroke-linejoin="round" stroke-linecap="round"/>
<path d="M840.0 2552.3 841.2 2550.7 842.5 2549.1 843.9 2547.5 845.3 2546.0 846.7 2544.6 848.2 2543.2 849.7 2541.9 851.2 2540.7 852.8 2539.6 854.5 2538.5 856.2 2537.5 858.0 2536.5M903.6 2543.0 905.3 2544.0 906.9 2545.1 908.5 2546.3 910.1 2547.6 911.7 2548.9 913.2 2550.2 914.7 2551.6 916.1 2553.1 917.5 2554.5 918.8 2556.0 920.0 2557.6 921.2 2559.1" fill="none" stroke="#0000ff" stroke-width="5.0" stroke-linejoin="round" stroke-linecap="round"/>
<path d="M996.6 2761.6 997.9 2763.2 999.1 2764.7 1000.4 2766.2 1001.8 2767.5 1003.2 2768.8 1004.6 2769.9 1006.1 2771.0 1007.7 2772.0 1009.3 2773.0 1011.0 2773.9 1012.8 2774.8 1014.7 2775.6M1398.1 2872.6 1399.6 2874.0 1401.0 2875.3 1402.5 2876.7 1404.0 2878.1 1405.5 2879.4 1407.1 2880.7 1408.6 2882.0 1410.2 2883.3 1411.8 2884.5 1413.4 2885.7 1415.0 2886.9 1416.7 2888.1" fill="none" stroke="#0000ff" stroke-width="5.1" stroke-linejoin="round" stroke-linecap="round"/>
<path d="M1061.1 2771.7 1062.9 2770.8 1064.7 2769.9 1066.5 2768.8 1068.2 2767.7 1069.9 2766.6 1071.6 2765.4 1073.3 2764.2 1074.9 2762.9 1076.4 2761.6 1077.9 2760.2 1079.3 2758.9 1080.7 2757.5" fill="none" stroke="#0000ff" stroke-width="5.2" stroke-linejoin="round" stroke-linecap="round"/>
<path d="M683.8 2918.9 685.6 2918.0 687.4 2917.2 689.1 2916.3 690.8 2915.3 692.5 2914.4 694.2 2913.4 695.8 2912.4 697.5 2911.3 699.1 2910.1 700.7 2909.0 702.3 2907.8 703.9 2906.5M1416.7 2888.1 1418.3 2889.2 1420.0 2890.3 1421.6 2891.4 1423.3 2892.4 1425.0 2893.4 1426.7 2894.4 1428.4 2895.4 1430.2 2896.4 1431.9 2897.4 1433.7 2898.3 1435.5 2899.2 1437.3 2900.1M1789.6 2920.8 1791.4 2919.8 1793.1 2918.8 1794.8 2917.8 1796.6 2916.8 1798.3 2915.7 1800.0 2914.7 1801.7 2913.7 1803.5 2912.7 1805.2 2911.7 1807.0 2910.8 1808.7 2909.8 1810.5 2908.9" fill="none" stroke="#0000ff" stroke-width="5.4" stroke-linejoin="round" stroke-linecap="round"/>
<path d="M1768.2 2931.8 1770.1 2931.1 1771.9 2930.3 1773.7 2929.4 1775.5 2928.5 1777.3 2927.6 1779.1 2926.7 1780.8 2925.7 1782.6 2924.7 1784.4 2923.7 1786.1 2922.8 1787.9 2921.8 1789.6 2920.8M1855.2 2891.6 1857.0 2891.5 1858.8 2891.6 1860.5 2891.9 1862.2 2892.5 1863.9 2893.3 1865.6 2894.2 1867.2 2895.3 1868.8 2896.6 1870.5 2897.9 1872.1 2899.3 1873.7 2900.6 1875.4 2902.0M1875.4 2902.0 1877.1 2903.3 1878.8 2904.6 1880.5 2905.7 1882.2 2906.8 1884.0 2907.8 1885.8 2908.7 1887.6 2909.5 1889.4 2910.4 1891.3 2911.2 1893.1 2911.9 1895.0 2912.7 1896.9 2913.4" fill="none" stroke="#0000ff" stroke-width="5.5" stroke-linejoin="round" stroke-linecap="round"/>
<path d="M661.1 2927.2 663.0 2926.6 664.9 2926.0 666.8 2925.4 668.7 2924.8 670.7 2924.1 672.6 2923.4 674.5 2922.7 676.4 2922.0 678.3 2921.2 680.1 2920.5 682.0 2919.7 683.8 2918.9M881.2 2534.5 883.2 2534.9 885.1 2535.3 887.1 2535.8 889.0 2536.4 890.9 2537.0 892.8 2537.7 894.7 2538.4 896.5 2539.2 898.3 2540.1 900.1 2541.0 901.9 2542.0 903.6 2543.0M1437.3 2900.1 1439.1 2901.0 1441.0 2901.9 1442.8 2902.7 1444.6 2903.5 1446.5 2904.3 1448.4 2905.1 1450.2 2905.8 1452.1 2906.5 1454.0 2907.2 1455.9 2907.9 1457.7 2908.5 1459.6 2909.1M1810.5 2908.9 1812.3 2908.1 1814.1 2907.2 1815.9 2906.5 1817.8 2905.7 1819.6 2904.9 1821.5 2904.2 1823.4 2903.5 1825.2 2902.8 1827.1 2902.2 1829.0 2901.5 1830.9 2900.8 1832.8 2900.1M1832.8 2900.1 1834.7 2899.4 1836.6 2898.7 1838.5 2898.0 1840.3 2897.2 1842.2 2896.3 1844.1 2895.5 1846.0 2894.6 1847.9 2893.8 1849.7 2893.1 1851.6 2892.4 1853.4 2891.9 1855.2 2891.6M2106.1 2935.3 2107.7 2936.4 2109.3 2937.6 2110.9 2938.7 2112.6 2939.8 2114.3 2940.6 2116.1 2941.4 2117.9 2942.0 2119.7 2942.5 2121.6 2943.0 2123.5 2943.4 2125.5 2943.8 2127.5 2944.1" fill="none" stroke="#0000ff" stroke-width="5.7" stroke-linejoin="round" stroke-linecap="round"/>
<path d="M637.7 2933.5 639.7 2933.1 641.7 2932.7 643.6 2932.2 645.6 2931.7 647.5 2931.2 649.5 2930.6 651.4 2930.1 653.4 2929.5 655.3 2928.9 657.2 2928.4 659.1 2927.8 661.1 2927.2M1038.3 2779.2 1040.3 2778.8 1042.2 2778.4 1044.2 2777.9 1046.2 2777.4 1048.1 2776.8 1050.0 2776.2 1052.0 2775.5 1053.8 2774.8 1055.7 2774.1 1057.5 2773.4 1059.3 2772.6 1061.1 2771.7M1459.6 2909.1 1461.5 2909.7 1463.4 2910.2 1465.3 2910.8 1467.2 2911.3 1469.2 2911.9 1471.1 2912.4 1473.0 2912.9 1475.0 2913.4 1476.9 2913.9 1478.9 2914.4 1480.8 2914.8 1482.8 2915.3" fill="none" stroke="#0000ff" stroke-width="5.8" stroke-linejoin="round" stroke-linecap="round"/>
<path d="M303.8 2946.7 305.7 2946.6 307.7 2946.5 309.7 2946.2 311.7 2945.9 313.6 2945.6 315.6 2945.2 317.6 2944.8 319.6 2944.4 321.6 2944.0 323.5 2943.7 325.5 2943.3 327.5 2943.0M422.9 2943.4 424.8 2943.0 426.8 2942.6 428.8 2942.2 430.8 2941.8 432.7 2941.4 434.7 2941.0 436.7 2940.7 438.7 2940.3 440.6 2939.9 442.6 2939.5 444.6 2939.1 446.6 2938.7M446.6 2938.7 448.5 2938.3 450.5 2938.0 452.5 2937.6 454.5 2937.3 456.5 2937.0 458.4 2936.7 460.4 2936.4 462.4 2936.1 464.4 2935.8 466.4 2935.5 468.4 2935.3 470.3 2935.0M1014.7 2775.6 1016.5 2776.4 1018.5 2777.2 1020.5 2777.8 1022.4 2778.4 1024.4 2778.9 1026.4 2779.3 1028.4 2779.5 1030.4 2779.7 1032.4 2779.7 1034.3 2779.6 1036.3 2779.5 1038.3 2779.2M1482.8 2915.3 1484.7 2915.7 1486.7 2916.1 1488.7 2916.6 1490.6 2917.0 1492.6 2917.4 1494.6 2917.7 1496.6 2918.1 1498.6 2918.5 1500.5 2918.8 1502.5 2919.1 1504.5 2919.4 1506.5 2919.7M1745.1 2937.9 1747.0 2937.7 1749.0 2937.3 1751.0 2936.9 1753.0 2936.5 1754.9 2936.0 1756.9 2935.5 1758.8 2935.0 1760.7 2934.4 1762.6 2933.8 1764.5 2933.2 1766.4 2932.5 1768.2 2931.8M1896.9 2913.4 1898.8 2914.1 1900.7 2914.7 1902.7 2915.2 1904.6 2915.7 1906.6 2916.2 1908.5 2916.5 1910.5 2916.8 1912.5 2917.1 1914.4 2917.3 1916.4 2917.4 1918.4 2917.5 1920.4 2917.6M1920.4 2917.6 1922.4 2917.7 1924.4 2917.9 1926.4 2918.0 1928.4 2918.3 1930.3 2918.6 1932.2 2919.0 1934.1 2919.6 1935.9 2920.2 1937.8 2921.0 1939.6 2921.8 1941.4 2922.7 1943.3 2923.5M1943.3 2923.5 1945.1 2924.2 1947.0 2924.9 1948.9 2925.4 1950.8 2925.9 1952.7 2926.4 1954.7 2926.7 1956.6 2927.1 1958.6 2927.4 1960.6 2927.7 1962.6 2928.0 1964.6 2928.3 1966.6 2928.5" fill="none" stroke="#0000ff" stroke-width="5.9" stroke-linejoin="round" stroke-linecap="round"/>
<path d="M280.0 2943.8 282.0 2944.2 284.0 2944.7 285.9 2945.1 287.9 2945.5 289.9 2945.8 291.9 2946.1 293.9 2946.3 295.8 2946.5 297.8 2946.7 299.8 2946.8 301.8 2946.8 303.8 2946.7M327.5 2943.0 329.5 2942.8 331.5 2942.6 333.4 2942.5 335.4 2942.4 337.4 2942.4 339.4 2942.4 341.4 2942.5 343.4 2942.6 345.4 2942.7 347.4 2942.9 349.4 2943.1 351.3 2943.3M351.3 2943.3 353.3 2943.5 355.3 2943.7 357.3 2943.9 359.3 2944.2 361.3 2944.4 363.3 2944.7 365.3 2944.9 367.3 2945.2 369.3 2945.4 371.3 2945.7 373.3 2945.9 375.3 2946.1M375.3 2946.1 377.3 2946.3 379.3 2946.4 381.3 2946.6 383.3 2946.7 385.3 2946.8 387.2 2946.9 389.2 2946.9 391.2 2946.9 393.2 2946.9 395.2 2946.8 397.2 2946.7 399.1 2946.6M399.1 2946.6 401.1 2946.4 403.1 2946.3 405.1 2946.1 407.1 2945.8 409.0 2945.6 411.0 2945.3 413.0 2945.0 415.0 2944.7 416.9 2944.4 418.9 2944.1 420.9 2943.7 422.9 2943.4M470.3 2935.0 472.3 2934.8 474.3 2934.5 476.3 2934.2 478.3 2934.0 480.3 2933.7 482.3 2933.5 484.3 2933.2 486.2 2932.9 488.2 2932.7 490.2 2932.4 492.2 2932.1 494.2 2931.9M494.2 2931.9 496.2 2931.7 498.2 2931.4 500.2 2931.2 502.2 2931.0 504.2 2930.8 506.1 2930.6 508.1 2930.4 510.1 2930.2 512.1 2930.0 514.1 2929.9 516.1 2929.7 518.1 2929.6M518.1 2929.6 520.1 2929.5 522.1 2929.4 524.1 2929.4 526.1 2929.3 528.1 2929.3 530.1 2929.3 532.1 2929.3 534.0 2929.3 536.0 2929.4 538.0 2929.4 540.0 2929.5 542.0 2929.6M542.0 2929.6 544.0 2929.7 546.0 2929.9 548.0 2930.0 550.0 2930.2 552.0 2930.3 554.0 2930.5 556.0 2930.7 558.0 2930.9 560.0 2931.1 562.0 2931.3 564.0 2931.5 565.9 2931.7M565.9 2931.7 567.9 2931.9 569.9 2932.1 571.9 2932.3 573.9 2932.5 575.9 2932.7 577.9 2932.9 579.9 2933.0 581.9 2933.2 583.9 2933.3 585.9 2933.5 587.9 2933.6 589.9 2933.7M589.9 2933.7 591.9 2933.8 593.9 2933.9 595.9 2934.0 597.9 2934.1 599.9 2934.1 601.9 2934.2 603.9 2934.3 605.9 2934.3 607.9 2934.4 609.9 2934.4 611.9 2934.5 613.9 2934.5M613.9 2934.5 615.9 2934.6 617.9 2934.6 619.9 2934.6 621.9 2934.6 623.9 2934.6 625.9 2934.6 627.9 2934.6 629.9 2934.4 631.8 2934.3 633.8 2934.1 635.8 2933.8 637.7 2933.5M858.0 2536.5 859.8 2535.7 861.6 2534.9 863.5 2534.3 865.5 2533.8 867.4 2533.5 869.3 2533.4 871.3 2533.3 873.3 2533.4 875.3 2533.6 877.3 2533.8 879.2 2534.2 881.2 2534.5M1228.6 1765.5 1229.3 1763.5 1230.0 1761.7 1230.8 1760.3 1231.6 1759.3 1232.5 1758.7 1233.5 1758.7 1234.5 1759.1 1235.7 1760.1 1236.8 1761.4 1237.9 1763.0 1239.0 1764.8 1239.9 1766.7M1506.5 2919.7 1508.4 2920.0 1510.4 2920.3 1512.4 2920.6 1514.4 2920.8 1516.3 2921.1 1518.3 2921.3 1520.3 2921.5 1522.3 2921.7 1524.3 2921.9 1526.3 2922.1 1528.3 2922.3 1530.3 2922.5M1530.3 2922.5 1532.3 2922.7 1534.2 2922.9 1536.2 2923.0 1538.2 2923.2 1540.2 2923.4 1542.2 2923.6 1544.2 2923.7 1546.2 2923.9 1548.2 2924.1 1550.2 2924.3 1552.2 2924.5 1554.2 2924.7M1554.2 2924.7 1556.2 2924.9 1558.2 2925.1 1560.2 2925.3 1562.2 2925.5 1564.1 2925.7 1566.1 2926.0 1568.1 2926.2 1570.1 2926.5 1572.1 2926.7 1574.1 2927.0 1576.1 2927.2 1578.0 2927.5M1578.0 2927.5 1580.0 2927.7 1582.0 2928.0 1584.0 2928.3 1586.0 2928.5 1588.0 2928.8 1589.9 2929.0 1591.9 2929.3 1593.9 2929.6 1595.9 2929.8 1597.9 2930.1 1599.9 2930.3 1601.8 2930.6M1601.8 2930.6 1603.8 2930.8 1605.8 2931.0 1607.8 2931.3 1609.8 2931.5 1611.8 2931.8 1613.8 2932.0 1615.8 2932.2 1617.7 2932.5 1619.7 2932.7 1621.7 2933.0 1623.7 2933.2 1625.7 2933.5M1625.7 2933.5 1627.7 2933.7 1629.7 2934.0 1631.7 2934.2 1633.7 2934.4 1635.6 2934.6 1637.6 2934.8 1639.6 2935.0 1641.6 2935.1 1643.6 2935.2 1645.6 2935.3 1647.6 2935.4 1649.6 2935.4M1649.6 2935.4 1651.6 2935.5 1653.6 2935.5 1655.6 2935.5 1657.6 2935.6 1659.6 2935.6 1661.6 2935.8 1663.5 2936.0 1665.5 2936.3 1667.5 2936.7 1669.4 2937.2 1671.3 2937.6 1673.3 2938.1M1673.3 2938.1 1675.2 2938.5 1677.2 2938.9 1679.2 2939.1 1681.1 2939.3 1683.1 2939.3 1685.1 2939.3 1687.1 2939.3 1689.1 2939.2 1691.1 2939.1 1693.1 2939.0 1695.1 2938.9 1697.1 2938.8M1697.1 2938.8 1699.1 2938.8 1701.1 2938.7 1703.1 2938.6 1705.1 2938.6 1707.1 2938.5 1709.1 2938.5 1711.1 2938.5 1713.1 2938.5 1715.1 2938.5 1717.1 2938.5 1719.1 2938.5 1721.1 2938.5M1721.1 2938.5 1723.1 2938.5 1725.2 2938.5 1727.2 2938.5 1729.2 2938.5 1731.2 2938.5 1733.1 2938.5 1735.1 2938.5 1737.1 2938.4 1739.1 2938.4 1741.1 2938.3 1743.1 2938.1 1745.1 2937.9M1966.6 2928.5 1968.6 2928.8 1970.6 2929.0 1972.6 2929.3 1974.6 2929.5 1976.6 2929.7 1978.6 2929.9 1980.6 2930.0 1982.6 2930.2 1984.6 2930.4 1986.5 2930.5 1988.5 2930.7 1990.5 2930.8M1990.5 2930.8 1992.5 2931.0 1994.5 2931.1 1996.5 2931.2 1998.5 2931.4 2000.5 2931.5 2002.5 2931.6 2004.5 2931.8 2006.5 2931.9 2008.5 2932.1 2010.5 2932.2 2012.5 2932.4 2014.5 2932.6M2014.5 2932.6 2016.5 2932.8 2018.5 2933.0 2020.5 2933.2 2022.4 2933.4 2024.4 2933.6 2026.4 2933.8 2028.4 2934.0 2030.4 2934.2 2032.4 2934.4 2034.4 2934.6 2036.4 2934.8 2038.4 2935.0M2038.4 2935.0 2040.4 2935.2 2042.3 2935.4 2044.3 2935.6 2046.3 2935.8 2048.3 2936.0 2050.3 2936.2 2052.3 2936.4 2054.3 2936.6 2056.3 2936.8 2058.3 2937.0 2060.3 2937.1 2062.3 2937.3M2062.3 2937.3 2064.3 2937.4 2066.3 2937.6 2068.3 2937.7 2070.3 2937.7 2072.3 2937.8 2074.3 2937.8 2076.4 2937.9 2078.4 2937.9 2080.5 2937.9 2082.6 2937.9 2084.6 2937.9 2086.6 2937.9M2086.6 2937.9 2088.6 2937.8 2090.5 2937.6 2092.3 2937.3 2094.0 2936.9 2095.7 2936.2 2097.2 2935.4 2098.7 2934.6 2100.2 2934.0 2101.6 2933.7 2103.1 2933.8 2104.6 2934.4 2106.1 2935.3M2127.5 2944.1 2129.6 2944.4 2131.7 2944.6 2133.8 2944.8 2135.9 2944.9 2137.0 2945.0" fill="none" stroke="#0000ff" stroke-width="6.0" stroke-linejoin="round" stroke-linecap="round"/>
<path d="M1151.2 2450.0 1151.5 2448.0 1151.8 2446.1 1152.1 2444.1 1152.3 2442.1 1152.6 2440.1 1152.9 2438.1 1153.2 2436.2 1153.4 2434.2 1153.7 2432.2 1154.0 2430.2 1154.2 2428.2 1154.5 2426.2M1154.5 2426.2 1154.7 2424.3 1155.0 2422.3 1155.3 2420.3 1155.5 2418.3 1155.8 2416.3 1156.1 2414.3 1156.4 2412.4 1156.6 2410.4 1156.9 2408.4 1157.2 2406.4 1157.5 2404.4 1157.7 2402.4M1161.3 2378.7 1161.6 2376.7 1161.9 2374.8 1162.2 2372.8 1162.5 2370.8 1162.8 2368.8 1163.1 2366.8 1163.4 2364.9 1163.7 2362.9 1164.0 2360.9 1164.3 2358.9 1164.6 2356.9 1164.8 2355.0M1164.8 2355.0 1165.1 2353.0 1165.4 2351.0 1165.7 2349.0 1165.9 2347.0 1166.2 2345.1 1166.4 2343.1 1166.7 2341.1 1166.9 2339.1 1167.2 2337.1 1167.4 2335.1 1167.7 2333.1 1167.9 2331.2M1167.9 2331.2 1168.2 2329.2 1168.4 2327.2 1168.7 2325.2 1168.9 2323.2 1169.1 2321.2 1169.4 2319.2 1169.6 2317.3 1169.8 2315.3 1170.1 2313.3 1170.3 2311.3 1170.5 2309.3 1170.7 2307.3M1170.7 2307.3 1171.0 2305.3 1171.2 2303.3 1171.4 2301.4 1171.6 2299.4 1171.8 2297.4 1172.0 2295.4 1172.2 2293.4 1172.4 2291.4 1172.6 2289.4 1172.8 2287.4 1173.0 2285.4 1173.2 2283.4M1173.2 2283.4 1173.4 2281.5 1173.6 2279.5 1173.8 2277.5 1174.0 2275.5 1174.2 2273.5 1174.4 2271.5 1174.6 2269.5 1174.7 2267.5 1174.9 2265.5 1175.1 2263.5 1175.3 2261.5 1175.5 2259.6M1175.5 2259.6 1175.7 2257.6 1175.9 2255.6 1176.1 2253.6 1176.3 2251.6 1176.5 2249.6 1176.7 2247.6 1176.9 2245.6 1177.1 2243.6 1177.4 2241.6 1177.6 2239.7 1177.8 2237.7 1178.0 2235.7M1178.0 2235.7 1178.2 2233.7 1178.5 2231.7 1178.7 2229.7 1178.9 2227.7 1179.2 2225.7 1179.4 2223.8 1179.6 2221.8 1179.9 2219.8 1180.1 2217.8 1180.3 2215.8 1180.6 2213.8 1180.8 2211.8M1180.8 2211.8 1181.0 2209.8 1181.3 2207.9 1181.5 2205.9 1181.7 2203.9 1182.0 2201.9 1182.2 2199.9 1182.4 2197.9 1182.6 2195.9 1182.9 2193.9 1183.1 2192.0 1183.3 2190.0 1183.5 2188.0M1183.5 2188.0 1183.7 2186.0 1183.9 2184.0 1184.1 2182.0 1184.3 2180.0 1184.5 2178.0 1184.7 2176.0 1184.9 2174.1 1185.1 2172.1 1185.3 2170.1 1185.4 2168.1 1185.6 2166.1 1185.8 2164.1M1185.8 2164.1 1186.0 2162.1 1186.2 2160.1 1186.3 2158.1 1186.5 2156.1 1186.7 2154.1 1186.9 2152.1 1187.0 2150.1 1187.2 2148.2 1187.4 2146.2 1187.5 2144.2 1187.7 2142.2 1187.9 2140.2M1187.9 2140.2 1188.0 2138.2 1188.2 2136.2 1188.4 2134.2 1188.5 2132.2 1188.7 2130.2 1188.9 2128.2 1189.1 2126.2 1189.2 2124.2 1189.4 2122.2 1189.6 2120.2 1189.7 2118.3 1189.9 2116.3M1189.9 2116.3 1190.1 2114.3 1190.2 2112.3 1190.4 2110.3 1190.6 2108.3 1190.8 2106.3 1190.9 2104.3 1191.1 2102.3 1191.3 2100.3 1191.4 2098.3 1191.6 2096.3 1191.8 2094.3 1191.9 2092.3M1191.9 2092.3 1192.1 2090.3 1192.3 2088.4 1192.4 2086.4 1192.6 2084.4 1192.8 2082.4 1192.9 2080.4 1193.1 2078.4 1193.3 2076.4 1193.5 2074.4 1193.6 2072.4 1193.8 2070.4 1194.0 2068.4M1194.0 2068.4 1194.2 2066.4 1194.3 2064.4 1194.5 2062.4 1194.7 2060.5 1194.9 2058.5 1195.1 2056.5 1195.2 2054.5 1195.4 2052.5 1195.6 2050.5 1195.8 2048.5 1196.0 2046.5 1196.2 2044.5M1196.2 2044.5 1196.4 2042.5 1196.6 2040.5 1196.8 2038.6 1197.0 2036.6 1197.3 2034.6 1197.5 2032.6 1197.7 2030.6 1197.9 2028.6 1198.1 2026.6 1198.3 2024.6 1198.5 2022.6 1198.8 2020.7M1198.8 2020.7 1199.0 2018.7 1199.2 2016.7 1199.4 2014.7 1199.6 2012.7 1199.8 2010.7 1200.0 2008.7 1200.2 2006.7 1200.4 2004.7 1200.6 2002.7 1200.8 2000.8 1201.0 1998.8 1201.1 1996.8M1201.1 1996.8 1201.3 1994.8 1201.5 1992.8 1201.6 1990.8 1201.8 1988.8 1201.9 1986.8 1202.1 1984.8 1202.2 1982.8 1202.3 1980.8 1202.5 1978.8 1202.6 1976.8 1202.7 1974.8 1202.8 1972.8M1202.8 1972.8 1202.9 1970.8 1203.0 1968.8 1203.2 1966.8 1203.3 1964.8 1203.4 1962.8 1203.5 1960.8 1203.6 1958.8 1203.7 1956.9 1203.9 1954.9 1204.0 1952.9 1204.1 1950.9 1204.2 1948.9M1204.2 1948.9 1204.4 1946.9 1204.5 1944.9 1204.7 1942.9 1204.8 1940.9 1204.9 1938.9 1205.1 1936.9 1205.2 1934.9 1205.4 1932.9 1205.5 1930.9 1205.7 1928.9 1205.9 1926.9 1206.0 1924.9M1206.0 1924.9 1206.2 1922.9 1206.3 1920.9 1206.5 1918.9 1206.7 1916.9 1206.8 1915.0 1207.0 1913.0 1207.2 1911.0 1207.4 1909.0 1207.5 1907.0 1207.7 1905.0 1207.9 1903.0 1208.1 1901.0M1208.1 1901.0 1208.3 1899.0 1208.5 1897.0 1208.7 1895.0 1208.9 1893.1 1209.2 1891.1 1209.4 1889.1 1209.6 1887.1 1209.9 1885.1 1210.1 1883.1 1210.4 1881.1 1210.6 1879.2 1210.9 1877.2M1210.9 1877.2 1211.1 1875.2 1211.4 1873.2 1211.6 1871.2 1211.9 1869.2 1212.2 1867.3 1212.4 1865.3 1212.7 1863.3 1212.9 1861.3 1213.2 1859.3 1213.4 1857.3 1213.7 1855.3 1213.9 1853.4M1213.9 1853.4 1214.2 1851.4 1214.4 1849.4 1214.7 1847.4 1214.9 1845.4 1215.1 1843.4 1215.4 1841.4 1215.6 1839.5 1215.9 1837.5 1216.1 1835.5 1216.3 1833.5 1216.6 1831.5 1216.8 1829.5M1216.8 1829.5 1217.1 1827.5 1217.4 1825.6 1217.6 1823.6 1217.9 1821.6 1218.1 1819.6 1218.4 1817.6 1218.7 1815.6 1219.0 1813.7 1219.2 1811.7 1219.5 1809.7 1219.8 1807.7 1220.1 1805.7M1242.2 1771.6 1242.7 1773.5 1243.1 1775.5 1243.5 1777.4 1243.8 1779.3 1244.1 1781.3 1244.3 1783.3 1244.6 1785.3 1244.8 1787.3 1245.0 1789.3 1245.2 1791.3 1245.4 1793.3 1245.6 1795.4M1245.6 1795.4 1245.8 1797.4 1246.0 1799.5 1246.2 1801.5 1246.4 1803.5 1246.6 1805.5 1246.9 1807.5 1247.1 1809.5 1247.3 1811.5 1247.6 1813.5 1247.8 1815.5 1248.1 1817.5 1248.3 1819.5M1248.3 1819.5 1248.6 1821.4 1248.9 1823.4 1249.1 1825.4 1249.4 1827.4 1249.6 1829.4 1249.9 1831.4 1250.1 1833.4 1250.4 1835.3 1250.6 1837.3 1250.9 1839.3 1251.1 1841.3 1251.3 1843.3M1251.3 1843.3 1251.6 1845.3 1251.8 1847.3 1252.0 1849.2 1252.2 1851.2 1252.5 1853.2 1252.7 1855.2 1252.9 1857.2 1253.1 1859.2 1253.3 1861.2 1253.5 1863.2 1253.7 1865.2 1253.9 1867.1M1253.9 1867.1 1254.1 1869.1 1254.3 1871.1 1254.5 1873.1 1254.7 1875.1 1254.9 1877.1 1255.1 1879.1 1255.3 1881.1 1255.4 1883.1 1255.6 1885.1 1255.8 1887.1 1256.0 1889.0 1256.2 1891.0M1256.2 1891.0 1256.4 1893.0 1256.6 1895.0 1256.7 1897.0 1256.9 1899.0 1257.1 1901.0 1257.3 1903.0 1257.5 1905.0 1257.6 1907.0 1257.8 1909.0 1258.0 1911.0 1258.2 1913.0 1258.3 1914.9M1258.3 1914.9 1258.5 1916.9 1258.7 1918.9 1258.8 1920.9 1259.0 1922.9 1259.2 1924.9 1259.3 1926.9 1259.5 1928.9 1259.6 1930.9 1259.8 1932.9 1260.0 1934.9 1260.1 1936.9 1260.3 1938.9M1260.3 1938.9 1260.4 1940.9 1260.6 1942.9 1260.7 1944.9 1260.8 1946.9 1261.0 1948.8 1261.1 1950.8 1261.3 1952.8 1261.4 1954.8 1261.6 1956.8 1261.7 1958.8 1261.8 1960.8 1262.0 1962.8M1262.0 1962.8 1262.1 1964.8 1262.2 1966.8 1262.4 1968.8 1262.5 1970.8 1262.7 1972.8 1262.8 1974.8 1262.9 1976.8 1263.1 1978.8 1263.2 1980.8 1263.3 1982.8 1263.5 1984.8 1263.6 1986.8M1263.6 1986.8 1263.7 1988.8 1263.8 1990.8 1264.0 1992.8 1264.1 1994.8 1264.2 1996.7 1264.4 1998.7 1264.5 2000.7 1264.6 2002.7 1264.7 2004.7 1264.9 2006.7 1265.0 2008.7 1265.1 2010.7M1265.1 2010.7 1265.2 2012.7 1265.4 2014.7 1265.5 2016.7 1265.6 2018.7 1265.7 2020.7 1265.8 2022.7 1266.0 2024.7 1266.1 2026.7 1266.2 2028.7 1266.3 2030.7 1266.4 2032.7 1266.6 2034.7M1266.6 2034.7 1266.7 2036.7 1266.8 2038.7 1266.9 2040.7 1267.1 2042.7 1267.2 2044.7 1267.3 2046.7 1267.5 2048.7 1267.6 2050.7 1267.7 2052.6 1267.9 2054.6 1268.0 2056.6 1268.1 2058.6M1268.1 2058.6 1268.3 2060.6 1268.4 2062.6 1268.6 2064.6 1268.7 2066.6 1268.9 2068.6 1269.0 2070.6 1269.2 2072.6 1269.3 2074.6 1269.5 2076.6 1269.6 2078.6 1269.8 2080.6 1269.9 2082.6M1269.9 2082.6 1270.1 2084.6 1270.2 2086.6 1270.4 2088.6 1270.5 2090.5 1270.7 2092.5 1270.8 2094.5 1271.0 2096.5 1271.1 2098.5 1271.3 2100.5 1271.5 2102.5 1271.6 2104.5 1271.8 2106.5M1271.8 2106.5 1271.9 2108.5 1272.1 2110.5 1272.2 2112.5 1272.4 2114.5 1272.5 2116.5 1272.7 2118.5 1272.8 2120.5 1273.0 2122.5 1273.1 2124.5 1273.3 2126.5 1273.4 2128.4 1273.6 2130.4M1273.6 2130.4 1273.7 2132.4 1273.9 2134.4 1274.0 2136.4 1274.2 2138.4 1274.3 2140.4 1274.5 2142.4 1274.6 2144.4 1274.8 2146.4 1274.9 2148.4 1275.1 2150.4 1275.2 2152.4 1275.4 2154.4M1275.4 2154.4 1275.5 2156.4 1275.7 2158.4 1275.8 2160.4 1276.0 2162.4 1276.1 2164.3 1276.3 2166.3 1276.4 2168.3 1276.6 2170.3 1276.7 2172.3 1276.9 2174.3 1277.0 2176.3 1277.2 2178.3M1277.2 2178.3 1277.3 2180.3 1277.5 2182.3 1277.6 2184.3 1277.8 2186.3 1277.9 2188.3 1278.1 2190.3 1278.2 2192.3 1278.4 2194.3 1278.5 2196.3 1278.7 2198.3 1278.8 2200.3 1279.0 2202.2M1279.0 2202.2 1279.1 2204.2 1279.3 2206.2 1279.4 2208.2 1279.6 2210.2 1279.7 2212.2 1279.9 2214.2 1280.0 2216.2 1280.2 2218.2 1280.3 2220.2 1280.5 2222.2 1280.6 2224.2 1280.8 2226.2M1280.8 2226.2 1280.9 2228.2 1281.1 2230.2 1281.2 2232.2 1281.4 2234.2 1281.5 2236.2 1281.7 2238.2 1281.8 2240.1 1282.0 2242.1 1282.1 2244.1 1282.3 2246.1 1282.4 2248.1 1282.6 2250.1M1282.6 2250.1 1282.8 2252.1 1282.9 2254.1 1283.1 2256.1 1283.2 2258.1 1283.4 2260.1 1283.5 2262.1 1283.7 2264.1 1283.8 2266.1 1284.0 2268.1 1284.1 2270.1 1284.3 2272.1 1284.4 2274.1M1284.4 2274.1 1284.6 2276.0 1284.8 2278.0 1284.9 2280.0 1285.1 2282.0 1285.2 2284.0 1285.4 2286.0 1285.6 2288.0 1285.7 2290.0 1285.9 2292.0 1286.1 2294.0 1286.2 2296.0 1286.4 2298.0M1286.4 2298.0 1286.6 2300.0 1286.7 2302.0 1286.9 2304.0 1287.1 2305.9 1287.3 2307.9 1287.5 2309.9 1287.6 2311.9 1287.8 2313.9 1288.0 2315.9 1288.2 2317.9 1288.4 2319.9 1288.6 2321.9M1288.6 2321.9 1288.8 2323.9 1289.0 2325.9 1289.2 2327.8 1289.4 2329.8 1289.6 2331.8 1289.8 2333.8 1290.0 2335.8 1290.2 2337.8 1290.5 2339.8 1290.7 2341.8 1290.9 2343.8 1291.1 2345.8M1291.1 2345.8 1291.3 2347.7 1291.5 2349.7 1291.7 2351.7 1291.9 2353.7 1292.1 2355.7 1292.3 2357.7 1292.5 2359.7 1292.7 2361.7 1292.9 2363.7 1293.1 2365.7 1293.3 2367.7 1293.5 2369.6M1293.5 2369.6 1293.7 2371.6 1293.9 2373.6 1294.1 2375.6 1294.3 2377.6 1294.5 2379.6 1294.7 2381.6 1294.9 2383.6 1295.1 2385.6 1295.3 2387.6 1295.5 2389.5 1295.7 2391.5 1295.9 2393.5M1295.9 2393.5 1296.1 2395.5 1296.2 2397.5 1296.4 2399.5 1296.6 2401.5 1296.8 2403.5 1297.0 2405.5 1297.2 2407.5 1297.4 2409.4 1297.6 2411.4 1297.8 2413.4 1298.0 2415.4 1298.2 2417.4M1298.2 2417.4 1298.4 2419.4 1298.6 2421.4 1298.8 2423.4 1299.0 2425.4 1299.2 2427.4 1299.4 2429.4 1299.6 2431.4 1299.8 2433.3 1300.0 2435.3 1300.2 2437.3 1300.4 2439.3 1300.6 2441.3M1300.6 2441.3 1300.8 2443.3 1301.0 2445.3 1301.2 2447.3 1301.4 2449.3 1301.6 2451.3 1301.8 2453.2 1302.0 2455.2 1302.2 2457.2 1302.4 2459.2 1302.6 2461.2 1302.8 2463.2 1303.1 2465.2M1303.1 2465.2 1303.3 2467.2 1303.5 2469.2 1303.7 2471.1 1304.0 2473.1 1304.2 2475.1 1304.4 2477.1 1304.7 2479.1 1304.9 2481.1 1305.2 2483.1 1305.4 2485.0 1305.7 2487.0 1305.9 2489.0M1305.9 2489.0 1306.2 2491.0 1306.4 2493.0 1306.7 2495.0 1306.9 2496.9 1307.2 2498.9 1307.4 2500.9 1307.7 2502.9 1307.9 2504.9 1308.2 2506.9 1308.4 2508.9 1308.7 2510.8 1308.9 2512.8M1308.9 2512.8 1309.2 2514.8 1309.4 2516.8 1309.6 2518.8 1309.9 2520.8 1310.1 2522.8 1310.4 2524.7 1310.6 2526.7 1310.8 2528.7 1311.1 2530.7 1311.3 2532.7 1311.6 2534.7 1311.8 2536.7M1311.8 2536.7 1312.0 2538.6 1312.3 2540.6 1312.5 2542.6 1312.7 2544.6 1313.0 2546.6 1313.2 2548.6 1313.5 2550.6 1313.7 2552.5 1313.9 2554.5 1314.2 2556.5 1314.4 2558.5 1314.6 2560.5M1314.6 2560.5 1314.9 2562.5 1315.1 2564.5 1315.4 2566.4 1315.6 2568.4 1315.9 2570.4 1316.1 2572.4 1316.3 2574.4 1316.6 2576.4 1316.8 2578.4 1317.1 2580.3 1317.3 2582.3 1317.6 2584.3M1317.6 2584.3 1317.8 2586.3 1318.1 2588.3 1318.3 2590.3 1318.6 2592.3 1318.8 2594.2 1319.0 2596.2 1319.3 2598.2 1319.5 2600.2 1319.8 2602.2 1320.0 2604.2 1320.3 2606.2 1320.5 2608.2M1320.5 2608.2 1320.7 2610.2 1321.0 2612.1 1321.2 2614.1 1321.5 2616.1 1321.8 2618.1 1322.0 2620.1 1322.3 2622.1 1322.5 2624.1 1322.8 2626.0 1323.1 2628.0 1323.4 2630.0 1323.6 2632.0" fill="none" stroke="#ff0000" stroke-width="3.7" stroke-linejoin="round" stroke-linecap="round"/>
<path d="M773.1 2790.4 773.6 2788.4 774.0 2786.5 774.5 2784.6 774.9 2782.6 775.4 2780.7 775.8 2778.7 776.2 2776.7 776.6 2774.8 777.0 2772.8 777.4 2770.9 777.8 2768.9 778.2 2766.9M778.2 2766.9 778.6 2765.0 778.9 2763.0 779.3 2761.0 779.7 2759.1 780.1 2757.1 780.5 2755.1 780.8 2753.2 781.2 2751.2 781.6 2749.2 782.0 2747.3 782.4 2745.3 782.8 2743.3M782.8 2743.3 783.2 2741.4 783.6 2739.4 784.0 2737.5 784.4 2735.5 784.8 2733.5 785.3 2731.6 785.7 2729.6 786.2 2727.7 786.6 2725.8 787.1 2723.8 787.6 2721.9 788.0 2719.9M1121.8 2590.9 1122.3 2589.0 1122.8 2587.1 1123.3 2585.1 1123.8 2583.2 1124.3 2581.3 1124.8 2579.3 1125.3 2577.4 1125.8 2575.5 1126.3 2573.5 1126.8 2571.6 1127.2 2569.6 1127.7 2567.7M1127.7 2567.7 1128.1 2565.7 1128.6 2563.8 1129.0 2561.9 1129.5 2559.9 1129.9 2557.9 1130.3 2556.0 1130.8 2554.0 1131.2 2552.1 1131.6 2550.1 1132.0 2548.2 1132.4 2546.2 1132.9 2544.3M1132.9 2544.3 1133.3 2542.3 1133.7 2540.3 1134.1 2538.4 1134.5 2536.4 1134.9 2534.5 1135.3 2532.5 1135.7 2530.5 1136.1 2528.6 1136.5 2526.6 1136.9 2524.7 1137.4 2522.7 1137.8 2520.7M1137.8 2520.7 1138.2 2518.8 1138.6 2516.8 1139.0 2514.9 1139.4 2512.9 1139.8 2510.9 1140.2 2509.0 1140.6 2507.0 1141.1 2505.1 1141.5 2503.1 1141.9 2501.2 1142.3 2499.2 1142.7 2497.2M1142.7 2497.2 1143.1 2495.3 1143.5 2493.3 1143.9 2491.4 1144.3 2489.4 1144.7 2487.4 1145.1 2485.5 1145.5 2483.5 1145.9 2481.6 1146.3 2479.6 1146.6 2477.6 1147.0 2475.7 1147.4 2473.7M1147.4 2473.7 1147.7 2471.7 1148.1 2469.8 1148.4 2467.8 1148.8 2465.8 1149.1 2463.8 1149.4 2461.9 1149.7 2459.9 1150.0 2457.9 1150.3 2456.0 1150.6 2454.0 1150.9 2452.0 1151.2 2450.0M1157.7 2402.4 1158.0 2400.5 1158.3 2398.5 1158.6 2396.5 1158.9 2394.5 1159.2 2392.6 1159.5 2390.6 1159.8 2388.6 1160.1 2386.6 1160.4 2384.6 1160.7 2382.7 1161.0 2380.7 1161.3 2378.7M1220.1 1805.7 1220.4 1803.7 1220.7 1801.7 1221.0 1799.8 1221.3 1797.8 1221.6 1795.8 1221.9 1793.8 1222.2 1791.8 1222.6 1789.9 1222.9 1787.9 1223.3 1785.9 1223.7 1784.0 1224.1 1782.0M1323.6 2632.0 1323.9 2633.9 1324.2 2635.9 1324.5 2637.9 1324.8 2639.9 1325.2 2641.8 1325.5 2643.8 1325.8 2645.8 1326.2 2647.7 1326.5 2649.7 1326.9 2651.7 1327.2 2653.6 1327.6 2655.6M1327.6 2655.6 1328.0 2657.5 1328.4 2659.5 1328.8 2661.5 1329.3 2663.4 1329.7 2665.4 1330.1 2667.3 1330.6 2669.3 1331.0 2671.2 1331.5 2673.2 1332.0 2675.1 1332.4 2677.1 1332.9 2679.0M1332.9 2679.0 1333.4 2681.0 1333.9 2682.9 1334.4 2684.8 1334.9 2686.8 1335.4 2688.7 1335.9 2690.7 1336.4 2692.6 1336.9 2694.5 1337.4 2696.5 1337.9 2698.4 1338.4 2700.3 1338.9 2702.3" fill="none" stroke="#ff0000" stroke-width="3.8" stroke-linejoin="round" stroke-linecap="round"/>
<path d="M766.7 2813.5 767.3 2811.6 767.8 2809.7 768.4 2807.8 769.0 2805.8 769.5 2803.9 770.1 2802.0 770.6 2800.1 771.1 2798.1 771.7 2796.2 772.2 2794.3 772.6 2792.3 773.1 2790.4M788.0 2719.9 788.5 2718.0 789.0 2716.1 789.5 2714.1 790.0 2712.2 790.6 2710.3 791.1 2708.3 791.6 2706.4 792.1 2704.5 792.7 2702.5 793.2 2700.6 793.7 2698.7 794.3 2696.8M794.3 2696.8 794.8 2694.8 795.4 2692.9 795.9 2691.0 796.5 2689.1 797.1 2687.1 797.6 2685.2 798.2 2683.3 798.8 2681.4 799.3 2679.5 799.9 2677.5 800.5 2675.6 801.1 2673.7M801.1 2673.7 801.6 2671.8 802.2 2669.9 802.8 2668.0 803.4 2666.1 804.0 2664.1 804.6 2662.2 805.2 2660.3 805.7 2658.4 806.3 2656.5 806.9 2654.6 807.5 2652.7 808.1 2650.7M808.1 2650.7 808.7 2648.8 809.2 2646.9 809.8 2645.0 810.4 2643.1 811.0 2641.1 811.6 2639.2 812.1 2637.3 812.7 2635.3 813.3 2633.4 813.9 2631.5 814.5 2629.6 815.0 2627.6M815.0 2627.6 815.6 2625.7 816.2 2623.8 816.8 2621.9 817.5 2620.0 818.1 2618.1 818.7 2616.2 819.3 2614.3 820.0 2612.4 820.6 2610.5 821.3 2608.6 822.0 2606.7 822.7 2604.8M1094.0 2682.9 1094.6 2681.0 1095.3 2679.1 1095.9 2677.2 1096.5 2675.3 1097.1 2673.4 1097.7 2671.5 1098.3 2669.6 1098.9 2667.6 1099.4 2665.7 1100.0 2663.8 1100.5 2661.9 1101.1 2659.9M1101.1 2659.9 1101.6 2658.0 1102.1 2656.1 1102.7 2654.2 1103.2 2652.2 1103.8 2650.3 1104.3 2648.4 1104.9 2646.4 1105.4 2644.5 1106.0 2642.6 1106.6 2640.7 1107.1 2638.8 1107.7 2636.9M1107.7 2636.9 1108.3 2634.9 1108.9 2633.0 1109.5 2631.1 1110.1 2629.2 1110.7 2627.3 1111.3 2625.4 1111.9 2623.5 1112.5 2621.6 1113.1 2619.7 1113.7 2617.7 1114.3 2615.8 1114.9 2613.9M1114.9 2613.9 1115.5 2612.0 1116.1 2610.1 1116.7 2608.2 1117.2 2606.3 1117.8 2604.4 1118.4 2602.4 1119.0 2600.5 1119.5 2598.6 1120.1 2596.7 1120.7 2594.8 1121.2 2592.8 1121.8 2590.9M1224.1 1782.0 1224.5 1780.0 1224.9 1777.9 1225.4 1775.8 1225.9 1773.6 1226.4 1771.3 1227.0 1769.0 1227.6 1766.7 1228.3 1764.5 1228.9 1762.4 1229.6 1760.6 1230.4 1759.0 1231.1 1757.8M1338.9 2702.3 1339.4 2704.2 1340.0 2706.1 1340.5 2708.1 1341.0 2710.0 1341.5 2712.0 1342.0 2713.9 1342.6 2715.8 1343.1 2717.8 1343.6 2719.7 1344.2 2721.6 1344.7 2723.6 1345.3 2725.5M1345.3 2725.5 1345.8 2727.4 1346.4 2729.4 1347.0 2731.3 1347.5 2733.2 1348.1 2735.1 1348.7 2737.0 1349.4 2738.9 1350.0 2740.8 1350.6 2742.7 1351.3 2744.6 1351.9 2746.5 1352.6 2748.3" fill="none" stroke="#ff0000" stroke-width="3.9" stroke-linejoin="round" stroke-linecap="round"/>
<path d="M758.3 2836.0 759.1 2834.1 759.9 2832.3 760.6 2830.5 761.4 2828.6 762.1 2826.7 762.8 2824.9 763.5 2823.0 764.1 2821.1 764.8 2819.2 765.4 2817.3 766.0 2815.4 766.7 2813.5M936.4 2589.1 937.2 2591.0 938.0 2592.9 938.8 2594.8 939.6 2596.7 940.4 2598.6 941.1 2600.5 941.9 2602.3 942.7 2604.2 943.4 2606.0 944.2 2607.9 944.9 2609.8 945.6 2611.6M945.6 2611.6 946.3 2613.5 947.0 2615.4 947.7 2617.2 948.4 2619.1 949.1 2621.0 949.8 2622.9 950.4 2624.8 951.1 2626.7 951.8 2628.5 952.4 2630.4 953.1 2632.3 953.7 2634.2M953.7 2634.2 954.4 2636.1 955.1 2638.0 955.7 2639.9 956.4 2641.8 957.1 2643.7 957.8 2645.5 958.5 2647.4 959.2 2649.3 959.9 2651.2 960.6 2653.0 961.4 2654.9 962.1 2656.7M962.1 2656.7 962.8 2658.6 963.6 2660.5 964.3 2662.3 965.0 2664.2 965.8 2666.1 966.5 2667.9 967.3 2669.8 968.0 2671.6 968.8 2673.5 969.5 2675.4 970.3 2677.2 971.1 2679.1M1084.9 2705.2 1085.7 2703.4 1086.6 2701.7 1087.4 2699.8 1088.2 2698.0 1089.0 2696.1 1089.8 2694.3 1090.5 2692.4 1091.2 2690.5 1091.9 2688.6 1092.6 2686.7 1093.3 2684.8 1094.0 2682.9" fill="none" stroke="#ff0000" stroke-width="4.0" stroke-linejoin="round" stroke-linecap="round"/>
<path d="M822.7 2604.8 823.4 2603.0 824.1 2601.1 824.8 2599.3 825.6 2597.5 826.3 2595.6 827.1 2593.8 827.9 2592.0 828.7 2590.2 829.6 2588.4 830.4 2586.5 831.3 2584.7 832.2 2582.9M971.1 2679.1 971.9 2680.9 972.6 2682.7 973.4 2684.6 974.2 2686.4 975.0 2688.2 975.9 2690.1 976.7 2691.9 977.5 2693.7 978.4 2695.5 979.2 2697.3 980.1 2699.1 980.9 2701.0M980.9 2701.0 981.8 2702.8 982.7 2704.7 983.5 2706.6 984.4 2708.5 985.3 2710.4 986.2 2712.3 987.1 2714.3 988.0 2716.2 988.9 2718.1 989.9 2719.9 990.9 2721.7 991.9 2723.5M1352.6 2748.3 1353.3 2750.2 1354.0 2752.1 1354.7 2753.9 1355.4 2755.8 1356.2 2757.6 1357.0 2759.4 1357.8 2761.3 1358.6 2763.1 1359.4 2764.9 1360.3 2766.7 1361.2 2768.5 1362.0 2770.3" fill="none" stroke="#ff0000" stroke-width="4.1" stroke-linejoin="round" stroke-linecap="round"/>
<path d="M747.5 2857.4 748.4 2855.7 749.4 2853.9 750.4 2852.1 751.3 2850.4 752.2 2848.6 753.2 2846.8 754.1 2845.0 755.0 2843.2 755.8 2841.4 756.7 2839.6 757.5 2837.8 758.3 2836.0M925.5 2567.6 926.6 2569.2 927.6 2570.9 928.6 2572.6 929.5 2574.4 930.5 2576.1 931.4 2577.9 932.3 2579.8 933.1 2581.6 934.0 2583.5 934.8 2585.4 935.6 2587.3 936.4 2589.1M1362.0 2770.3 1362.9 2772.1 1363.8 2773.9 1364.8 2775.7 1365.7 2777.5 1366.7 2779.3 1367.6 2781.0 1368.6 2782.8 1369.6 2784.6 1370.5 2786.3 1371.5 2788.0 1372.5 2789.8 1373.6 2791.5" fill="none" stroke="#ff0000" stroke-width="4.2" stroke-linejoin="round" stroke-linecap="round"/>
<path d="M735.0 2878.0 736.1 2876.3 737.2 2874.7 738.3 2873.0 739.4 2871.2 740.4 2869.5 741.4 2867.8 742.5 2866.1 743.5 2864.4 744.5 2862.6 745.5 2860.9 746.5 2859.2 747.5 2857.4" fill="none" stroke="#ff0000" stroke-width="4.3" stroke-linejoin="round" stroke-linecap="round"/>
<path d="M832.2 2582.9 833.2 2581.1 834.1 2579.3 835.1 2577.5 836.1 2575.8 837.2 2574.0 838.2 2572.3 839.3 2570.6 840.4 2569.0 841.5 2567.3 842.7 2565.7 843.9 2564.2 845.1 2562.6M1071.3 2725.3 1072.7 2723.7 1074.0 2722.1 1075.2 2720.4 1076.5 2718.8 1077.7 2717.1 1078.8 2715.4 1079.9 2713.8 1081.0 2712.1 1082.0 2710.4 1083.0 2708.7 1084.0 2707.0 1084.9 2705.2M1373.6 2791.5 1374.6 2793.2 1375.6 2794.9 1376.6 2796.6 1377.7 2798.3 1378.8 2800.0 1379.8 2801.7 1380.9 2803.4 1382.0 2805.0 1383.2 2806.7 1384.3 2808.4 1385.5 2810.0 1386.6 2811.7" fill="none" stroke="#ff0000" stroke-width="4.4" stroke-linejoin="round" stroke-linecap="round"/>
<path d="M720.6 2897.4 721.9 2895.8 723.2 2894.2 724.4 2892.6 725.7 2891.0 726.9 2889.4 728.1 2887.8 729.3 2886.2 730.5 2884.6 731.6 2883.0 732.8 2881.4 733.9 2879.7 735.0 2878.0" fill="none" stroke="#ff0000" stroke-width="4.5" stroke-linejoin="round" stroke-linecap="round"/>
<path d="M1231.1 1757.8 1232.0 1757.0 1232.9 1756.7 1233.8 1756.9 1234.9 1757.6 1236.0 1758.7 1237.1 1760.1 1238.2 1761.8 1239.2 1763.7 1240.2 1765.7 1241.0 1767.7 1241.7 1769.6 1242.2 1771.6M1386.6 2811.7 1387.8 2813.3 1389.0 2814.9 1390.2 2816.5 1391.4 2818.1 1392.6 2819.7 1393.9 2821.3 1395.1 2822.9 1396.4 2824.4 1397.7 2825.9 1398.9 2827.4 1400.2 2828.9 1401.6 2830.4" fill="none" stroke="#ff0000" stroke-width="4.6" stroke-linejoin="round" stroke-linecap="round"/>
<path d="M703.6 2914.8 705.2 2913.7 706.7 2912.4 708.2 2911.1 709.7 2909.8 711.1 2908.4 712.5 2906.9 713.9 2905.3 715.3 2903.8 716.7 2902.2 718.0 2900.6 719.3 2899.0 720.6 2897.4M991.9 2723.5 992.9 2725.3 993.9 2726.9 995.0 2728.5 996.1 2730.1 997.3 2731.5 998.5 2732.9 999.8 2734.2 1001.1 2735.4 1002.5 2736.6 1004.0 2737.8 1005.6 2738.9 1007.3 2740.1M1401.6 2830.4 1402.9 2831.9 1404.2 2833.4 1405.6 2834.8 1407.0 2836.3 1408.4 2837.8 1409.8 2839.2 1411.2 2840.6 1412.7 2842.1 1414.1 2843.5 1415.6 2844.9 1417.1 2846.2 1418.6 2847.6" fill="none" stroke="#ff0000" stroke-width="4.8" stroke-linejoin="round" stroke-linecap="round"/>
<path d="M908.7 2551.1 910.4 2552.2 912.1 2553.4 913.7 2554.6 915.3 2555.9 916.8 2557.3 918.2 2558.6 919.6 2560.1 920.9 2561.5 922.1 2563.0 923.3 2564.5 924.5 2566.0 925.5 2567.6" fill="none" stroke="#ff0000" stroke-width="4.9" stroke-linejoin="round" stroke-linecap="round"/>
<path d="M845.1 2562.6 846.4 2561.1 847.7 2559.6 849.1 2558.1 850.5 2556.6 852.0 2555.2 853.5 2553.8 855.0 2552.5 856.6 2551.2 858.2 2550.1 859.9 2549.0 861.6 2548.0 863.3 2547.2" fill="none" stroke="#ff0000" stroke-width="5.0" stroke-linejoin="round" stroke-linecap="round"/>
<path d="M1052.9 2740.2 1054.6 2739.2 1056.3 2738.3 1057.9 2737.2 1059.5 2736.1 1061.1 2735.0 1062.6 2733.8 1064.1 2732.5 1065.6 2731.2 1067.1 2729.8 1068.5 2728.3 1069.9 2726.8 1071.3 2725.3" fill="none" stroke="#ff0000" stroke-width="5.1" stroke-linejoin="round" stroke-linecap="round"/>
<path d="M1418.6 2847.6 1420.1 2848.9 1421.6 2850.2 1423.2 2851.5 1424.7 2852.8 1426.3 2854.0 1427.9 2855.2 1429.5 2856.4 1431.1 2857.5 1432.7 2858.7 1434.3 2859.8 1435.9 2860.8 1437.6 2861.9" fill="none" stroke="#ff0000" stroke-width="5.2" stroke-linejoin="round" stroke-linecap="round"/>
<path d="M280.0 2932.0 281.7 2933.4 283.3 2934.7 285.0 2936.1 286.7 2937.4 288.3 2938.7 290.0 2939.9 291.8 2941.1 293.5 2942.1 295.2 2943.0 297.0 2943.7 298.8 2944.3 300.6 2944.7M1808.6 2888.7 1810.4 2887.7 1812.1 2886.6 1813.8 2885.6 1815.5 2884.5 1817.3 2883.4 1819.0 2882.3 1820.7 2881.3 1822.5 2880.3 1824.2 2879.3 1826.0 2878.3 1827.7 2877.4 1829.5 2876.6" fill="none" stroke="#ff0000" stroke-width="5.4" stroke-linejoin="round" stroke-linecap="round"/>
<path d="M1437.6 2861.9 1439.3 2863.0 1441.0 2864.0 1442.7 2865.0 1444.4 2866.0 1446.2 2867.0 1447.9 2868.0 1449.7 2868.9 1451.5 2869.9 1453.3 2870.8 1455.1 2871.7 1456.9 2872.6 1458.7 2873.5M1787.1 2899.5 1788.9 2898.6 1790.7 2897.8 1792.6 2896.9 1794.4 2896.1 1796.2 2895.2 1798.0 2894.3 1799.8 2893.5 1801.6 2892.6 1803.3 2891.6 1805.1 2890.7 1806.9 2889.7 1808.6 2888.7" fill="none" stroke="#ff0000" stroke-width="5.5" stroke-linejoin="round" stroke-linecap="round"/>
<path d="M681.8 2923.0 683.8 2922.6 685.7 2922.0 687.7 2921.5 689.6 2921.0 691.6 2920.4 693.4 2919.8 695.3 2919.1 697.0 2918.4 698.8 2917.6 700.4 2916.8 702.0 2915.8 703.6 2914.8M886.5 2542.4 888.4 2542.7 890.4 2543.1 892.3 2543.6 894.2 2544.2 896.2 2544.9 898.0 2545.7 899.9 2546.4 901.7 2547.3 903.5 2548.1 905.3 2549.1 907.0 2550.1 908.7 2551.1M1458.7 2873.5 1460.6 2874.4 1462.4 2875.2 1464.2 2876.0 1466.1 2876.9 1467.9 2877.6 1469.8 2878.4 1471.7 2879.2 1473.5 2879.9 1475.4 2880.6 1477.2 2881.3 1479.1 2882.0 1481.0 2882.7M1764.8 2908.5 1766.7 2907.8 1768.6 2907.1 1770.5 2906.4 1772.3 2905.7 1774.2 2904.9 1776.1 2904.2 1777.9 2903.4 1779.8 2902.7 1781.6 2901.9 1783.4 2901.1 1785.3 2900.3 1787.1 2899.5M1875.3 2879.0 1877.1 2879.7 1879.0 2880.5 1880.8 2881.2 1882.7 2881.9 1884.6 2882.6 1886.5 2883.3 1888.4 2883.9 1890.2 2884.6 1892.1 2885.2 1894.0 2885.9 1895.9 2886.5 1897.8 2887.1" fill="none" stroke="#ff0000" stroke-width="5.7" stroke-linejoin="round" stroke-linecap="round"/>
<path d="M1007.3 2740.1 1009.0 2741.1 1010.8 2742.2 1012.7 2743.2 1014.6 2744.1 1016.5 2745.0 1018.4 2745.7 1020.4 2746.4 1022.3 2747.0 1024.3 2747.4 1026.2 2747.7 1028.2 2747.8 1030.1 2747.8M1030.1 2747.8 1032.0 2747.7 1033.9 2747.4 1035.9 2747.1 1037.8 2746.6 1039.8 2746.0 1041.7 2745.3 1043.7 2744.6 1045.6 2743.8 1047.5 2743.0 1049.3 2742.1 1051.2 2741.2 1052.9 2740.2M1481.0 2882.7 1482.8 2883.4 1484.7 2884.0 1486.6 2884.7 1488.5 2885.3 1490.4 2886.0 1492.3 2886.6 1494.2 2887.2 1496.1 2887.8 1498.0 2888.4 1499.9 2889.0 1501.9 2889.6 1503.8 2890.2M1852.5 2871.6 1854.4 2871.8 1856.4 2872.2 1858.3 2872.7 1860.2 2873.3 1862.1 2873.9 1864.0 2874.6 1865.9 2875.3 1867.8 2876.1 1869.7 2876.8 1871.5 2877.5 1873.4 2878.2 1875.3 2879.0M1897.8 2887.1 1899.7 2887.8 1901.6 2888.4 1903.5 2889.0 1905.4 2889.6 1907.3 2890.2 1909.2 2890.8 1911.2 2891.5 1913.1 2892.1 1915.0 2892.7 1916.9 2893.4 1918.7 2894.0 1920.6 2894.7M1920.6 2894.7 1922.5 2895.4 1924.4 2896.1 1926.3 2896.7 1928.2 2897.4 1930.1 2898.1 1932.0 2898.7 1933.9 2899.4 1935.8 2900.0 1937.7 2900.6 1939.6 2901.1 1941.6 2901.6 1943.5 2902.1" fill="none" stroke="#ff0000" stroke-width="5.8" stroke-linejoin="round" stroke-linecap="round"/>
<path d="M444.2 2941.0 446.2 2940.8 448.2 2940.5 450.1 2940.2 452.1 2939.8 454.1 2939.5 456.1 2939.1 458.0 2938.8 460.0 2938.4 462.0 2938.0 464.0 2937.6 465.9 2937.2 467.9 2936.8M467.9 2936.8 469.9 2936.4 471.8 2936.0 473.8 2935.7 475.8 2935.3 477.8 2934.9 479.7 2934.6 481.7 2934.3 483.7 2934.0 485.7 2933.7 487.7 2933.4 489.6 2933.2 491.6 2933.0M587.5 2933.7 589.5 2933.8 591.5 2933.8 593.5 2933.8 595.4 2933.7 597.4 2933.5 599.3 2933.2 601.3 2932.7 603.2 2932.3 605.2 2931.7 607.1 2931.1 609.0 2930.4 611.0 2929.8M658.2 2928.9 660.2 2928.4 662.1 2928.0 664.1 2927.5 666.0 2927.0 668.0 2926.5 670.0 2926.0 671.9 2925.5 673.9 2925.0 675.8 2924.5 677.8 2924.0 679.8 2923.5 681.8 2923.0M863.3 2547.2 865.1 2546.4 866.9 2545.6 868.8 2545.0 870.7 2544.3 872.6 2543.8 874.6 2543.3 876.6 2542.9 878.6 2542.6 880.5 2542.3 882.5 2542.2 884.5 2542.3 886.5 2542.4M1503.8 2890.2 1505.7 2890.8 1507.7 2891.3 1509.6 2891.8 1511.6 2892.4 1513.5 2892.9 1515.5 2893.4 1517.4 2893.8 1519.4 2894.3 1521.3 2894.7 1523.3 2895.2 1525.3 2895.6 1527.2 2895.9M1598.6 2904.4 1600.6 2904.7 1602.6 2905.1 1604.6 2905.5 1606.5 2905.8 1608.5 2906.2 1610.5 2906.6 1612.4 2907.0 1614.4 2907.3 1616.4 2907.7 1618.3 2908.1 1620.3 2908.5 1622.3 2908.8M1622.3 2908.8 1624.2 2909.2 1626.2 2909.5 1628.2 2909.9 1630.1 2910.2 1632.1 2910.5 1634.1 2910.9 1636.1 2911.2 1638.0 2911.4 1640.0 2911.7 1642.0 2912.0 1644.0 2912.3 1646.0 2912.6M1741.7 2914.5 1743.7 2914.2 1745.6 2913.9 1747.6 2913.6 1749.5 2913.2 1751.4 2912.8 1753.4 2912.3 1755.3 2911.8 1757.2 2911.2 1759.1 2910.5 1761.0 2909.9 1762.9 2909.2 1764.8 2908.5M1829.5 2876.6 1831.3 2875.8 1833.2 2875.1 1835.0 2874.5 1836.9 2873.9 1838.8 2873.3 1840.7 2872.8 1842.7 2872.4 1844.7 2872.0 1846.6 2871.7 1848.6 2871.6 1850.5 2871.5 1852.5 2871.6M2134.0 2925.3 2136.0 2925.6 2137.0 2925.8" fill="none" stroke="#ff0000" stroke-width="5.9" stroke-linejoin="round" stroke-linecap="round"/>
<path d="M300.6 2944.7 302.4 2945.0 304.2 2945.2 306.1 2945.3 308.0 2945.3 309.9 2945.3 311.8 2945.3 313.7 2945.3 315.6 2945.3 317.6 2945.2 319.6 2945.2 321.5 2945.1 323.5 2945.1M323.5 2945.1 325.5 2945.0 327.5 2945.0 329.6 2944.9 331.6 2944.9 333.6 2944.8 335.7 2944.8 337.7 2944.7 339.8 2944.6 341.8 2944.6 343.9 2944.5 345.9 2944.4 348.0 2944.4M348.0 2944.4 350.0 2944.3 352.1 2944.2 354.1 2944.2 356.2 2944.1 358.2 2944.1 360.2 2944.0 362.3 2943.9 364.3 2943.9 366.3 2943.8 368.3 2943.8 370.3 2943.7 372.3 2943.7M372.3 2943.7 374.3 2943.6 376.3 2943.6 378.3 2943.6 380.3 2943.5 382.3 2943.5 384.3 2943.4 386.3 2943.4 388.3 2943.4 390.3 2943.3 392.3 2943.3 394.3 2943.3 396.3 2943.2M396.3 2943.2 398.3 2943.2 400.3 2943.1 402.3 2943.1 404.3 2943.0 406.4 2943.0 408.4 2943.0 410.4 2942.9 412.4 2942.9 414.3 2942.8 416.3 2942.8 418.3 2942.7 420.3 2942.6M420.3 2942.6 422.3 2942.6 424.3 2942.5 426.3 2942.4 428.3 2942.3 430.3 2942.3 432.3 2942.2 434.3 2942.0 436.3 2941.9 438.3 2941.7 440.2 2941.5 442.2 2941.3 444.2 2941.0M491.6 2933.0 493.6 2932.8 495.6 2932.6 497.6 2932.5 499.6 2932.3 501.6 2932.2 503.6 2932.1 505.5 2932.0 507.5 2931.9 509.5 2931.8 511.5 2931.7 513.5 2931.6 515.5 2931.5M515.5 2931.5 517.5 2931.5 519.5 2931.4 521.5 2931.3 523.5 2931.2 525.5 2931.2 527.5 2931.1 529.5 2931.1 531.6 2931.0 533.6 2931.0 535.6 2930.9 537.6 2930.9 539.6 2930.9M539.6 2930.9 541.6 2930.8 543.6 2930.8 545.6 2930.8 547.6 2930.9 549.6 2930.9 551.6 2931.0 553.6 2931.1 555.6 2931.2 557.6 2931.3 559.6 2931.4 561.6 2931.6 563.6 2931.7M563.6 2931.7 565.6 2931.9 567.6 2932.1 569.6 2932.3 571.6 2932.5 573.6 2932.7 575.6 2932.8 577.6 2933.0 579.6 2933.2 581.6 2933.3 583.6 2933.5 585.6 2933.6 587.5 2933.7M611.0 2929.8 612.9 2929.3 614.8 2928.8 616.8 2928.4 618.7 2928.1 620.7 2928.0 622.7 2927.9 624.6 2928.0 626.6 2928.2 628.6 2928.5 630.6 2928.8 632.5 2929.2 634.5 2929.5M634.5 2929.5 636.5 2929.8 638.5 2930.1 640.5 2930.3 642.4 2930.5 644.4 2930.5 646.4 2930.5 648.4 2930.4 650.3 2930.2 652.3 2929.9 654.3 2929.6 656.2 2929.3 658.2 2928.9M1527.2 2895.9 1529.2 2896.3 1531.1 2896.6 1533.1 2897.0 1535.1 2897.3 1537.0 2897.5 1539.0 2897.8 1541.0 2898.1 1542.9 2898.3 1544.9 2898.5 1546.9 2898.7 1548.9 2898.9 1550.9 2899.1M1550.9 2899.1 1552.9 2899.3 1554.9 2899.5 1556.9 2899.7 1558.9 2899.8 1560.9 2900.0 1562.9 2900.2 1564.9 2900.3 1566.9 2900.5 1568.9 2900.7 1570.9 2900.9 1572.9 2901.0 1574.9 2901.2M1574.9 2901.2 1576.9 2901.4 1578.9 2901.6 1580.8 2901.8 1582.8 2902.1 1584.8 2902.3 1586.8 2902.6 1588.8 2902.8 1590.8 2903.1 1592.7 2903.4 1594.7 2903.7 1596.7 2904.1 1598.6 2904.4M1646.0 2912.6 1647.9 2912.9 1649.9 2913.1 1651.9 2913.4 1653.9 2913.7 1655.9 2914.0 1657.9 2914.2 1659.9 2914.5 1661.8 2914.7 1663.8 2914.9 1665.8 2915.2 1667.8 2915.4 1669.8 2915.6M1669.8 2915.6 1671.8 2915.8 1673.8 2915.9 1675.8 2916.1 1677.8 2916.2 1679.8 2916.4 1681.8 2916.5 1683.8 2916.6 1685.7 2916.7 1687.7 2916.8 1689.7 2916.9 1691.7 2917.0 1693.7 2917.0M1693.7 2917.0 1695.7 2917.1 1697.7 2917.1 1699.7 2917.1 1701.7 2917.1 1703.7 2917.1 1705.8 2917.1 1707.8 2917.1 1709.8 2917.0 1711.8 2916.9 1713.8 2916.9 1715.8 2916.8 1717.8 2916.7M1717.8 2916.7 1719.8 2916.5 1721.8 2916.4 1723.8 2916.2 1725.8 2916.1 1727.8 2915.9 1729.8 2915.7 1731.8 2915.6 1733.8 2915.4 1735.8 2915.2 1737.8 2914.9 1739.7 2914.7 1741.7 2914.5M1943.5 2902.1 1945.4 2902.5 1947.4 2902.9 1949.3 2903.2 1951.3 2903.5 1953.3 2903.8 1955.2 2904.1 1957.2 2904.3 1959.2 2904.6 1961.2 2904.8 1963.2 2905.0 1965.2 2905.2 1967.2 2905.4M1967.2 2905.4 1969.2 2905.7 1971.2 2905.9 1973.2 2906.1 1975.2 2906.3 1977.1 2906.5 1979.1 2906.8 1981.1 2907.0 1983.1 2907.3 1985.1 2907.5 1987.1 2907.8 1989.1 2908.1 1991.0 2908.3M1991.0 2908.3 1993.0 2908.6 1995.0 2908.8 1997.0 2909.1 1999.0 2909.4 2001.0 2909.6 2002.9 2909.9 2004.9 2910.1 2006.9 2910.4 2008.9 2910.6 2010.9 2910.8 2012.9 2911.0 2014.9 2911.3M2014.9 2911.3 2016.9 2911.5 2018.8 2911.7 2020.8 2911.9 2022.8 2912.1 2024.8 2912.3 2026.8 2912.5 2028.8 2912.7 2030.8 2912.9 2032.8 2913.1 2034.8 2913.3 2036.8 2913.4 2038.8 2913.6M2038.8 2913.6 2040.7 2913.8 2042.7 2914.0 2044.7 2914.2 2046.7 2914.4 2048.7 2914.6 2050.7 2914.8 2052.7 2915.0 2054.7 2915.2 2056.7 2915.4 2058.7 2915.6 2060.7 2915.8 2062.6 2916.0M2062.6 2916.0 2064.6 2916.2 2066.6 2916.4 2068.6 2916.6 2070.6 2916.8 2072.6 2917.0 2074.6 2917.2 2076.6 2917.5 2078.5 2917.7 2080.5 2917.9 2082.5 2918.2 2084.5 2918.4 2086.5 2918.7M2086.5 2918.7 2088.5 2918.9 2090.5 2919.2 2092.4 2919.5 2094.4 2919.7 2096.4 2920.0 2098.4 2920.3 2100.4 2920.5 2102.4 2920.8 2104.3 2921.1 2106.3 2921.3 2108.3 2921.6 2110.3 2921.9M2110.3 2921.9 2112.3 2922.2 2114.2 2922.4 2116.2 2922.7 2118.2 2923.0 2120.2 2923.3 2122.2 2923.6 2124.1 2923.9 2126.1 2924.2 2128.1 2924.5 2130.1 2924.8 2132.1 2925.1 2134.0 2925.3" fill="none" stroke="#ff0000" stroke-width="6.0" stroke-linejoin="round" stroke-linecap="round"/>
<text transform="translate(152.59 58.45) scale(0.4517 0.4451)" font-family="'Liberation Sans', Arial, sans-serif" font-weight="bold" font-style="normal" font-size="100" fill="#000" >110</text>
<text transform="translate(178.57 289.3) scale(0.4320 0.4451)" font-family="'Liberation Sans', Arial, sans-serif" font-weight="bold" font-style="normal" font-size="100" fill="#000" >90</text>
<text transform="translate(178.57 520.15) scale(0.4320 0.4451)" font-family="'Liberation Sans', Arial, sans-serif" font-weight="bold" font-style="normal" font-size="100" fill="#000" >70</text>
<text transform="translate(179.02 751) scale(0.4279 0.4451)" font-family="'Liberation Sans', Arial, sans-serif" font-weight="bold" font-style="normal" font-size="100" fill="#000" >50</text>
<text transform="translate(179.45 981.85) scale(0.4238 0.4451)" font-family="'Liberation Sans', Arial, sans-serif" font-weight="bold" font-style="normal" font-size="100" fill="#000" >30</text>
<text transform="translate(177.66 1212.7) scale(0.4406 0.4451)" font-family="'Liberation Sans', Arial, sans-serif" font-weight="bold" font-style="normal" font-size="100" fill="#000" >10</text>
<text transform="translate(153.13 1443.55) scale(0.4176 0.4451)" font-family="'Liberation Sans', Arial, sans-serif" font-weight="bold" font-style="normal" font-size="100" fill="#000" >-10</text>
<text transform="translate(144.91 1648.34) scale(0.4477 0.4563)" font-family="'Liberation Sans', Arial, sans-serif" font-weight="bold" font-style="normal" font-size="100" fill="#000" >110</text>
<text transform="translate(170.24 1884.61) scale(0.4398 0.4563)" font-family="'Liberation Sans', Arial, sans-serif" font-weight="bold" font-style="normal" font-size="100" fill="#000" >90</text>
<text transform="translate(170.24 2120.88) scale(0.4398 0.4563)" font-family="'Liberation Sans', Arial, sans-serif" font-weight="bold" font-style="normal" font-size="100" fill="#000" >70</text>
<text transform="translate(170.69 2357.14) scale(0.4356 0.4563)" font-family="'Liberation Sans', Arial, sans-serif" font-weight="bold" font-style="normal" font-size="100" fill="#000" >50</text>
<text transform="translate(171.14 2593.41) scale(0.4314 0.4563)" font-family="'Liberation Sans', Arial, sans-serif" font-weight="bold" font-style="normal" font-size="100" fill="#000" >30</text>
<text transform="translate(169.31 2829.68) scale(0.4485 0.4563)" font-family="'Liberation Sans', Arial, sans-serif" font-weight="bold" font-style="normal" font-size="100" fill="#000" >10</text>
<text transform="translate(144.68 3065.94) scale(0.4309 0.4563)" font-family="'Liberation Sans', Arial, sans-serif" font-weight="bold" font-style="normal" font-size="100" fill="#000" >-10</text>
<text transform="translate(269.63 1519.4) scale(0.5050 0.4554)" font-family="'Liberation Serif', 'Times New Roman', serif" font-weight="bold" font-style="normal" font-size="100" fill="#000" >4</text>
<text transform="translate(474.95 1518.52) scale(0.5050 0.4418)" font-family="'Liberation Serif', 'Times New Roman', serif" font-weight="bold" font-style="normal" font-size="100" fill="#000" >8</text>
<text transform="translate(666.9 1518.96) scale(0.5050 0.4418)" font-family="'Liberation Serif', 'Times New Roman', serif" font-weight="bold" font-style="normal" font-size="100" fill="#000" >12</text>
<text transform="translate(872.22 1518.53) scale(0.5050 0.4353)" font-family="'Liberation Serif', 'Times New Roman', serif" font-weight="bold" font-style="normal" font-size="100" fill="#000" >16</text>
<text transform="translate(1079.06 1518.52) scale(0.5050 0.4418)" font-family="'Liberation Serif', 'Times New Roman', serif" font-weight="bold" font-style="normal" font-size="100" fill="#000" >20</text>
<text transform="translate(1284.13 1518.95) scale(0.5050 0.4485)" font-family="'Liberation Serif', 'Times New Roman', serif" font-weight="bold" font-style="normal" font-size="100" fill="#000" >24</text>
<text transform="translate(1489.96 1518.52) scale(0.5050 0.4418)" font-family="'Liberation Serif', 'Times New Roman', serif" font-weight="bold" font-style="normal" font-size="100" fill="#000" >28</text>
<text transform="translate(1695.79 1518.52) scale(0.5050 0.4418)" font-family="'Liberation Serif', 'Times New Roman', serif" font-weight="bold" font-style="normal" font-size="100" fill="#000" >32</text>
<text transform="translate(1901.12 1518.52) scale(0.5050 0.4418)" font-family="'Liberation Serif', 'Times New Roman', serif" font-weight="bold" font-style="normal" font-size="100" fill="#000" >36</text>
<text transform="translate(2107.71 1518.52) scale(0.5050 0.4418)" font-family="'Liberation Serif', 'Times New Roman', serif" font-weight="bold" font-style="normal" font-size="100" fill="#000" >40</text>
<text transform="translate(261.63 3142) scale(0.5050 0.4554)" font-family="'Liberation Serif', 'Times New Roman', serif" font-weight="bold" font-style="normal" font-size="100" fill="#000" >4</text>
<text transform="translate(468.26 3141.12) scale(0.5050 0.4418)" font-family="'Liberation Serif', 'Times New Roman', serif" font-weight="bold" font-style="normal" font-size="100" fill="#000" >8</text>
<text transform="translate(661.52 3141.56) scale(0.5050 0.4418)" font-family="'Liberation Serif', 'Times New Roman', serif" font-weight="bold" font-style="normal" font-size="100" fill="#000" >12</text>
<text transform="translate(868.15 3141.13) scale(0.5050 0.4353)" font-family="'Liberation Serif', 'Times New Roman', serif" font-weight="bold" font-style="normal" font-size="100" fill="#000" >16</text>
<text transform="translate(1076.31 3141.12) scale(0.5050 0.4418)" font-family="'Liberation Serif', 'Times New Roman', serif" font-weight="bold" font-style="normal" font-size="100" fill="#000" >20</text>
<text transform="translate(1282.69 3141.55) scale(0.5050 0.4485)" font-family="'Liberation Serif', 'Times New Roman', serif" font-weight="bold" font-style="normal" font-size="100" fill="#000" >24</text>
<text transform="translate(1489.83 3141.12) scale(0.5050 0.4418)" font-family="'Liberation Serif', 'Times New Roman', serif" font-weight="bold" font-style="normal" font-size="100" fill="#000" >28</text>
<text transform="translate(1696.97 3141.12) scale(0.5050 0.4418)" font-family="'Liberation Serif', 'Times New Roman', serif" font-weight="bold" font-style="normal" font-size="100" fill="#000" >32</text>
<text transform="translate(1903.61 3141.12) scale(0.5050 0.4418)" font-family="'Liberation Serif', 'Times New Roman', serif" font-weight="bold" font-style="normal" font-size="100" fill="#000" >36</text>
<text transform="translate(2111.51 3141.12) scale(0.5050 0.4418)" font-family="'Liberation Serif', 'Times New Roman', serif" font-weight="bold" font-style="normal" font-size="100" fill="#000" >40</text>
<clipPath id="cut1"><rect x="0" y="0" width="2187" height="1578.6"/></clipPath>
<g clip-path="url(#cut1)">
<text transform="translate(1471.02 1576.8) scale(0.4765 0.4200)" font-family="'Liberation Sans', Arial, sans-serif" font-weight="normal" font-style="normal" font-size="100" fill="#000" stroke="#000" stroke-width="2.2">2θ (°)</text>
</g>
<text transform="translate(1471.02 3201.8) scale(0.4765 0.4229)" font-family="'Liberation Sans', Arial, sans-serif" font-weight="normal" font-style="normal" font-size="100" fill="#000" stroke="#000" stroke-width="2.2">2θ (°)</text>
<text transform="translate(61.2 944.32) rotate(-90) scale(0.4461 0.4667)" font-family="'Liberation Sans', Arial, sans-serif" font-weight="normal" font-style="normal" font-size="100" fill="#000" stroke="#000" stroke-width="2.6">Intensity (arb. units)</text>
<text transform="translate(52.9 2553.6) rotate(-90) scale(0.4559 0.4623)" font-family="'Liberation Sans', Arial, sans-serif" font-weight="normal" font-style="normal" font-size="100" fill="#000" stroke="#000" stroke-width="2.6">Intensity (arb. units)</text>
<text transform="translate(1180.33 138.53) scale(0.6337 0.6250)" font-family="'DejaVu Sans', sans-serif" font-weight="normal" font-style="normal" font-size="100" fill="#000" stroke="#000" stroke-width="4">200</text>
<text transform="translate(714.59 898.52) scale(0.6460 0.6250)" font-family="'DejaVu Sans', sans-serif" font-weight="normal" font-style="normal" font-size="100" fill="#000" stroke="#000" stroke-width="4">1-10</text>
<text transform="translate(880.84 907.67) scale(0.6395 0.6112)" font-family="'DejaVu Sans', sans-serif" font-weight="normal" font-style="normal" font-size="100" fill="#000" stroke="#000" stroke-width="4">110</text>
<text transform="translate(1166.57 1718.22) scale(0.6470 0.6275)" font-family="'DejaVu Sans', sans-serif" font-weight="normal" font-style="normal" font-size="100" fill="#000" stroke="#000" stroke-width="4">200</text>
<text transform="translate(714.58 2469.53) scale(0.6465 0.6250)" font-family="'DejaVu Sans', sans-serif" font-weight="normal" font-style="normal" font-size="100" fill="#000" stroke="#000" stroke-width="4">1-10</text>
<text transform="translate(880.84 2469.53) scale(0.6395 0.6250)" font-family="'DejaVu Sans', sans-serif" font-weight="normal" font-style="normal" font-size="100" fill="#000" stroke="#000" stroke-width="4">110</text>
<rect x="1393" y="217.2" width="91.7" height="9.2" fill="#0000c0"/>
<rect x="1390.8" y="296.7" width="90.9" height="10.1" fill="#ff0000"/>
<rect x="1557.1" y="1790.3" width="92.4" height="9.6" fill="#0000c0"/>
<rect x="1553.9" y="1874.1" width="92.4" height="9.6" fill="#ff0000"/>
<text transform="translate(1515.58 210.1) scale(0.7291 0.7913)" font-family="'Liberation Sans', Arial, sans-serif" font-weight="bold" font-style="normal" font-size="100" fill="#0000c0" >CelEglo</text>
<text transform="translate(1512.4 308.9) scale(0.7259 0.7957)" font-family="'Liberation Sans', Arial, sans-serif" font-weight="bold" font-style="normal" font-size="100" fill="#ff0000" >CelEgloT</text>
<text transform="translate(1693.6 1790.3) scale(0.7491 0.7942)" font-family="'Liberation Sans', Arial, sans-serif" font-weight="bold" font-style="normal" font-size="100" fill="#0000c0" >CelEpro</text>
<text transform="translate(1690.42 1885.9) scale(0.7443 0.7942)" font-family="'Liberation Sans', Arial, sans-serif" font-weight="bold" font-style="normal" font-size="100" fill="#ff0000" >CelEproT</text>
<use href="#mol" x="1608" y="624.5"/>
<use href="#mol" x="1926.6" y="625"/>
<use href="#mol" x="1729.3" y="749.6"/>
<use href="#mol" x="1583" y="916"/>
<use href="#mol" x="1881.9" y="907.6"/>
<line x1="1462.7" y1="623.3" x2="2029.5" y2="623.3" stroke="#262626" stroke-width="4.6" stroke-dasharray="15 13" fill="none"/>
<line x1="1507.8" y1="764.5" x2="2152.4" y2="770" stroke="#262626" stroke-width="4.6" stroke-dasharray="15 13" fill="none"/>
<line x1="1438.5" y1="917" x2="1991.9" y2="917" stroke="#262626" stroke-width="4.6" stroke-dasharray="15 13" fill="none"/>
<line x1="1618.2" y1="510.3" x2="1550.5" y2="1064.6" stroke="#262626" stroke-width="3.6" stroke-dasharray="12 11" fill="none"/>
<line x1="1939.2" y1="510.3" x2="1871.5" y2="1064.6" stroke="#262626" stroke-width="3.6" stroke-dasharray="12 11" fill="none"/>
<line x1="1711" y1="540.4" x2="1495.3" y2="695.9" stroke="#262626" stroke-width="3.6" stroke-dasharray="12 11" fill="none"/>
<line x1="2059.6" y1="507.8" x2="1492.8" y2="986.8" stroke="#262626" stroke-width="3.6" stroke-dasharray="12 11" fill="none"/>
<line x1="1981.9" y1="816.3" x2="1771.2" y2="1009.4" stroke="#262626" stroke-width="3.6" stroke-dasharray="12 11" fill="none"/>
<line x1="1553" y1="542.9" x2="2019.5" y2="1084.6" stroke="#262626" stroke-width="3.6" stroke-dasharray="12 11" fill="none"/>
<line x1="1869" y1="542.9" x2="2019.5" y2="733.5" stroke="#262626" stroke-width="3.6" stroke-dasharray="12 11" fill="none"/>
<line x1="1535.4" y1="848.9" x2="1635.8" y2="989.3" stroke="#262626" stroke-width="3.6" stroke-dasharray="12 11" fill="none"/>
<path d="M1495.6 627.1 L1463.4 914.6" stroke="#000" stroke-width="3.8" fill="none" stroke-linecap="round" stroke-linejoin="miter"/>
<path d="M1476.6 651.9 L1495.6 627.1 L1507.3 654.1" stroke="#000" stroke-width="3.8" fill="none" stroke-linecap="round" stroke-linejoin="miter"/>
<path d="M1450.2 886.8 L1463.4 914.6 L1482.4 889" stroke="#000" stroke-width="3.8" fill="none" stroke-linecap="round" stroke-linejoin="miter"/>
<path d="M1550.7 1040.3 L1865 1040.3" stroke="#000" stroke-width="3.8" fill="none" stroke-linecap="round" stroke-linejoin="miter"/>
<path d="M1579.3 1025.4 L1550.7 1040.3 L1579.3 1056.4" stroke="#000" stroke-width="3.8" fill="none" stroke-linecap="round" stroke-linejoin="miter"/>
<path d="M1836.3 1025.4 L1865 1040.3 L1836.3 1056.4" stroke="#000" stroke-width="3.8" fill="none" stroke-linecap="round" stroke-linejoin="miter"/>
<path d="M1596 732 A104 116 0 0 0 1700 616" stroke="#000" stroke-width="3.6" fill="none"/>
<text transform="translate(1979.19 475.25) scale(0.6026 0.5479)" font-family="'Liberation Sans', Arial, sans-serif" font-weight="normal" font-style="italic" font-size="100" fill="#1a1a1a" >110</text>
<text transform="translate(2036.5 744.05) scale(0.5602 0.5521)" font-family="'Liberation Sans', Arial, sans-serif" font-weight="normal" font-style="italic" font-size="100" fill="#1a1a1a" >200</text>
<text transform="translate(1961.41 1009.06) scale(0.5628 0.5380)" font-family="'Liberation Sans', Arial, sans-serif" font-weight="normal" font-style="italic" font-size="100" fill="#1a1a1a" >1-10</text>
<text transform="translate(1715.97 1033.4) scale(0.5125 0.5493)" font-family="'Liberation Sans', Arial, sans-serif" font-weight="bold" font-style="italic" font-size="100" fill="#000" >b</text>
<text transform="translate(1699.58 704.67) scale(0.5708 0.6203)" font-family="'Liberation Sans', Arial, sans-serif" font-weight="normal" font-style="italic" font-size="100" fill="#000" >γ</text>
<text transform="translate(1456.24 787.86) rotate(-90) scale(0.5635 0.5582)" font-family="'Liberation Sans', Arial, sans-serif" font-weight="bold" font-style="italic" font-size="100" fill="#000" >a</text>
</svg></body></html>
